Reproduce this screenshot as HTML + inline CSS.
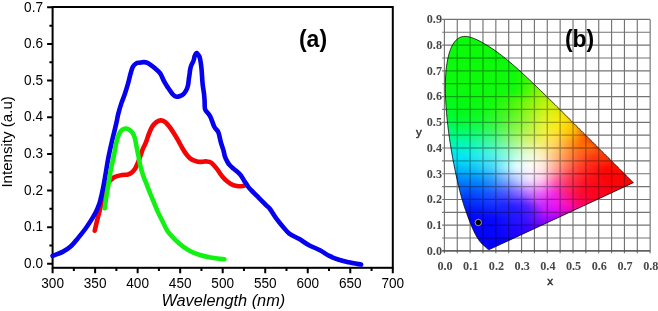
<!DOCTYPE html>
<html><head><meta charset="utf-8"><style>
html,body{margin:0;padding:0;background:#fff;overflow:hidden;}
svg{display:block;font-family:"Liberation Sans",sans-serif;will-change:transform;}
</style></head><body>
<svg width="658" height="311" viewBox="0 0 658 311">
<rect x="52.6" y="7" width="340.2" height="260.8" fill="none" stroke="#000" stroke-width="2.0"/>
<path d="M52.6,267.8v5.5M73.86,267.8v3.2M95.12,267.8v5.5M116.39,267.8v3.2M137.65,267.8v5.5M158.91,267.8v3.2M180.18,267.8v5.5M201.44,267.8v3.2M222.7,267.8v5.5M243.96,267.8v3.2M265.23,267.8v5.5M286.49,267.8v3.2M307.75,267.8v5.5M329.01,267.8v3.2M350.28,267.8v5.5M371.54,267.8v3.2M392.8,267.8v5.5M52.6,263.8h-5.5M52.6,245.48h-3.2M52.6,227.16h-5.5M52.6,208.84h-3.2M52.6,190.52h-5.5M52.6,172.2h-3.2M52.6,153.88h-5.5M52.6,135.56h-3.2M52.6,117.24h-5.5M52.6,98.92h-3.2M52.6,80.6h-5.5M52.6,62.28h-3.2M52.6,43.96h-5.5M52.6,25.64h-3.2M52.6,7.32h-5.5" stroke="#000" stroke-width="2.0" fill="none"/>
<text transform="translate(52.6,287.8) scale(1,1.13)" text-anchor="middle" font-size="13.6">300</text>
<text transform="translate(95.12,287.8) scale(1,1.13)" text-anchor="middle" font-size="13.6">350</text>
<text transform="translate(137.65,287.8) scale(1,1.13)" text-anchor="middle" font-size="13.6">400</text>
<text transform="translate(180.18,287.8) scale(1,1.13)" text-anchor="middle" font-size="13.6">450</text>
<text transform="translate(222.7,287.8) scale(1,1.13)" text-anchor="middle" font-size="13.6">500</text>
<text transform="translate(265.23,287.8) scale(1,1.13)" text-anchor="middle" font-size="13.6">550</text>
<text transform="translate(307.75,287.8) scale(1,1.13)" text-anchor="middle" font-size="13.6">600</text>
<text transform="translate(350.28,287.8) scale(1,1.13)" text-anchor="middle" font-size="13.6">650</text>
<text transform="translate(392.8,287.8) scale(1,1.13)" text-anchor="middle" font-size="13.6">700</text>
<text transform="translate(43,268) scale(1,1.13)" text-anchor="end" font-size="13.6">0.0</text>
<text transform="translate(43,231.36) scale(1,1.13)" text-anchor="end" font-size="13.6">0.1</text>
<text transform="translate(43,194.72) scale(1,1.13)" text-anchor="end" font-size="13.6">0.2</text>
<text transform="translate(43,158.08) scale(1,1.13)" text-anchor="end" font-size="13.6">0.3</text>
<text transform="translate(43,121.44) scale(1,1.13)" text-anchor="end" font-size="13.6">0.4</text>
<text transform="translate(43,84.8) scale(1,1.13)" text-anchor="end" font-size="13.6">0.5</text>
<text transform="translate(43,48.16) scale(1,1.13)" text-anchor="end" font-size="13.6">0.6</text>
<text transform="translate(43,11.52) scale(1,1.13)" text-anchor="end" font-size="13.6">0.7</text>
<text x="223.3" y="305.9" text-anchor="middle" font-size="16.3" font-style="italic">Wavelength (nm)</text>
<text transform="translate(12.0,141.9) rotate(-90)" text-anchor="middle" font-size="15.1">Intensity (a.u)</text>
<text x="313" y="46.8" text-anchor="middle" font-size="23" font-weight="bold">(a)</text>
<path d="M94.7,230.7C95.15,228.82 96.47,223.15 97.4,219.4C98.33,215.65 99.37,211.93 100.3,208.2C101.23,204.47 102,200.75 103,197C104,193.25 105.18,188.37 106.3,185.7C107.42,183.03 108.58,182.28 109.7,181C110.82,179.72 111.88,178.77 113,178C114.12,177.23 114.87,176.9 116.4,176.4C117.93,175.9 120.27,175.32 122.2,175C124.13,174.68 126.4,174.9 128,174.5C129.6,174.1 130.6,173.6 131.8,172.6C133,171.6 134.23,170.02 135.2,168.5C136.17,166.98 136.7,165.67 137.6,163.5C138.5,161.33 139.73,157.92 140.6,155.5C141.47,153.08 141.95,151.1 142.8,149C143.65,146.9 144.68,145.42 145.7,142.9C146.72,140.38 147.83,136.58 148.9,133.9C149.97,131.22 150.92,128.73 152.1,126.8C153.28,124.87 154.6,123.37 156,122.3C157.4,121.23 159,120.48 160.5,120.4C162,120.32 163.53,120.78 165,121.8C166.47,122.82 167.85,124.63 169.3,126.5C170.75,128.37 172.25,130.72 173.7,133C175.15,135.28 176.55,137.67 178,140.2C179.45,142.73 180.95,145.78 182.4,148.2C183.85,150.62 185.27,152.9 186.7,154.7C188.13,156.5 189.43,157.92 191,159C192.57,160.08 194.6,160.72 196.1,161.2C197.6,161.68 198.33,161.87 200,161.9C201.67,161.93 204.18,161.25 206.1,161.4C208.02,161.55 209.7,161.55 211.5,162.8C213.3,164.05 215.1,166.63 216.9,168.9C218.7,171.17 220.5,174.25 222.3,176.4C224.1,178.55 225.9,180.35 227.7,181.8C229.5,183.25 231.3,184.37 233.1,185.1C234.9,185.83 236.68,186.08 238.5,186.2C240.32,186.32 243.08,185.87 244,185.8" fill="none" stroke="#f40404" stroke-width="4.6" stroke-linecap="round" stroke-linejoin="round"/>
<path d="M52.6,255.8C54.27,255.15 59.55,253.48 62.6,251.9C65.65,250.32 68.3,248.63 70.9,246.3C73.5,243.97 75.75,240.87 78.2,237.9C80.65,234.93 83.33,231.63 85.6,228.5C87.87,225.37 90.07,221.9 91.8,219.1C93.53,216.3 94.72,214.35 96,211.7C97.28,209.05 98.57,205.98 99.5,203.2C100.43,200.42 100.97,197.7 101.6,195C102.23,192.3 102.7,190.08 103.3,187C103.9,183.92 104.57,180.17 105.2,176.5C105.83,172.83 106.48,168.58 107.1,165C107.72,161.42 108.07,159.05 108.9,155C109.73,150.95 111.15,144.8 112.1,140.7C113.05,136.6 113.83,133.6 114.6,130.4C115.37,127.2 116.1,124.22 116.7,121.5C117.3,118.78 117.4,117.2 118.2,114.1C119,111 120.38,106.28 121.5,102.9C122.62,99.52 123.77,97.18 124.9,93.8C126.03,90.42 127.35,85.98 128.3,82.6C129.25,79.22 129.85,76.13 130.6,73.5C131.35,70.87 131.87,68.48 132.8,66.8C133.73,65.12 135.07,64.08 136.2,63.4C137.33,62.72 138.28,62.92 139.6,62.7C140.92,62.48 142.6,61.98 144.1,62.1C145.6,62.22 146.78,62.37 148.6,63.4C150.42,64.43 153.07,66.63 155,68.3C156.93,69.97 158.7,71.25 160.2,73.4C161.7,75.55 162.72,78.83 164,81.2C165.28,83.57 166.42,85.38 167.9,87.6C169.38,89.82 171.47,92.98 172.9,94.5C174.33,96.02 175.3,96.45 176.5,96.7C177.7,96.95 178.9,96.48 180.1,96C181.3,95.52 182.62,94.88 183.7,93.8C184.78,92.72 185.87,90.95 186.6,89.5C187.33,88.05 187.73,86.8 188.1,85.1C188.47,83.4 188.55,81.15 188.8,79.3C189.05,77.45 189.38,75.55 189.6,74C189.82,72.45 189.82,71.45 190.1,70C190.38,68.55 190.73,66.83 191.3,65.3C191.87,63.77 192.95,62.3 193.5,60.8C194.05,59.3 194.23,57.45 194.6,56.3C194.97,55.15 195.35,54.45 195.7,53.9C196.05,53.35 196.25,52.82 196.7,53C197.15,53.18 197.9,54.27 198.4,55C198.9,55.73 199.3,56.07 199.7,57.4C200.1,58.73 200.48,60.93 200.8,63C201.12,65.07 201.3,66.35 201.6,69.8C201.9,73.25 202.2,79.7 202.6,83.7C203,87.7 203.67,90.92 204,93.8C204.33,96.68 204.43,98.47 204.6,101C204.77,103.53 204.47,107 205,109C205.53,111 206.88,111.67 207.8,113C208.72,114.33 209.4,114.67 210.5,117C211.6,119.33 213.1,124.47 214.4,127C215.7,129.53 217.22,129.63 218.3,132.2C219.38,134.77 220.05,139.4 220.9,142.4C221.75,145.4 222.72,147.8 223.4,150.2C224.08,152.6 224.32,154.83 225,156.8C225.68,158.77 226.7,160.6 227.5,162C228.3,163.4 228.75,164.05 229.8,165.2C230.85,166.35 232.12,167.38 233.8,168.9C235.48,170.42 238.2,172.38 239.9,174.3C241.6,176.22 242.65,178.37 244,180.4C245.35,182.43 246.85,184.92 248,186.5C249.15,188.08 249.13,188.05 250.9,189.9C252.67,191.75 256.03,195.03 258.6,197.6C261.17,200.17 264.4,203.4 266.3,205.3C268.2,207.2 268.32,206.77 270,209C271.68,211.23 274.25,215.75 276.4,218.7C278.55,221.65 280.75,224.22 282.9,226.7C285.05,229.18 286.63,231.58 289.3,233.6C291.97,235.62 295.68,236.92 298.9,238.8C302.12,240.68 305.08,242.98 308.6,244.9C312.12,246.82 316.55,248.47 320,250.3C323.45,252.13 326.15,254.32 329.3,255.9C332.45,257.48 335.68,258.75 338.9,259.8C342.12,260.85 344.9,261.4 348.6,262.2C352.3,263 359.02,264.2 361.1,264.6" fill="none" stroke="#0500ee" stroke-width="4.6" stroke-linecap="round" stroke-linejoin="round"/>
<path d="M104.8,208.2C105.05,206.33 105.67,201.12 106.3,197C106.93,192.88 107.85,188 108.6,183.5C109.35,179 109.9,174.75 110.8,170C111.7,165.25 113.15,159.23 114,155C114.85,150.77 115.25,147.62 115.9,144.6C116.55,141.58 117.15,139.05 117.9,136.9C118.65,134.75 119.45,133 120.4,131.7C121.35,130.4 122.63,129.63 123.6,129.1C124.57,128.57 125.23,128.38 126.2,128.5C127.17,128.62 128.32,129.05 129.4,129.8C130.48,130.55 131.82,131.68 132.7,133C133.58,134.32 134.03,135.32 134.7,137.7C135.37,140.08 136.05,144.1 136.7,147.3C137.35,150.5 137.97,153.7 138.6,156.9C139.23,160.1 139.7,163.28 140.5,166.5C141.3,169.72 142.28,172.98 143.4,176.2C144.52,179.42 146.1,183 147.2,185.8C148.3,188.6 149.05,190.63 150,193C150.95,195.37 151.62,196.9 152.9,200C154.18,203.1 156.1,208.07 157.7,211.6C159.3,215.13 160.88,217.98 162.5,221.2C164.12,224.42 165.3,227.83 167.4,230.9C169.5,233.97 172.53,237.03 175.1,239.6C177.67,242.17 180.23,244.37 182.8,246.3C185.37,248.23 187.63,249.75 190.5,251.2C193.37,252.65 196.12,253.85 200,255C203.88,256.15 209.73,257.38 213.8,258.1C217.87,258.82 222.63,259.1 224.4,259.3" fill="none" stroke="#12f212" stroke-width="4.6" stroke-linecap="round" stroke-linejoin="round"/>
<clipPath id="hs"><path d="M489.18,249.62L489.18,249.62L489.17,249.62L489.17,249.62L489.16,249.62L489.15,249.62L489.15,249.62L489.14,249.63L489.12,249.63L489.11,249.64L489.1,249.64L489.09,249.63L489.08,249.63L489.06,249.63L489.05,249.63L489.04,249.63L489.03,249.64L489.02,249.65L489,249.66L488.99,249.66L488.98,249.67L488.97,249.67L488.96,249.67L488.94,249.67L488.92,249.67L488.9,249.67L488.88,249.67L488.86,249.67L488.83,249.67L488.81,249.66L488.79,249.67L488.76,249.67L488.74,249.67L488.71,249.66L488.69,249.66L488.66,249.66L488.63,249.65L488.61,249.64L488.57,249.63L488.53,249.61L488.49,249.59L488.43,249.56L488.38,249.53L488.32,249.49L488.26,249.45L488.2,249.41L488.14,249.36L488.07,249.31L488,249.25L487.92,249.19L487.84,249.13L487.74,249.05L487.65,248.97L487.54,248.89L487.44,248.8L487.33,248.7L487.21,248.59L487.09,248.48L486.96,248.36L486.83,248.24L486.69,248.11L486.54,247.97L486.38,247.83L486.21,247.68L486.03,247.52L485.84,247.35L485.63,247.17L485.41,246.98L485.19,246.78L484.94,246.57L484.69,246.35L484.42,246.11L484.14,245.87L483.85,245.61L483.55,245.34L483.23,245.05L482.9,244.74L482.55,244.41L482.19,244.05L481.81,243.67L481.43,243.26L481.03,242.83L480.61,242.36L480.18,241.85L479.73,241.28L479.25,240.64L478.74,239.92L478.19,239.1L477.6,238.18L476.98,237.16L476.32,236.03L475.64,234.8L474.93,233.45L474.19,231.98L473.41,230.35L472.59,228.56L471.73,226.6L470.83,224.44L469.9,222.09L468.91,219.54L467.88,216.77L466.8,213.78L465.67,210.55L464.49,207.07L463.29,203.31L462.07,199.27L460.86,194.97L459.66,190.39L458.46,185.55L457.27,180.43L456.07,175.03L454.88,169.37L453.71,163.48L452.57,157.38L451.47,151.13L450.43,144.75L449.47,138.31L448.58,131.83L447.79,125.33L447.09,118.85L446.5,112.42L446.02,106.08L445.65,99.89L445.42,93.89L445.34,88.09L445.39,82.48L445.59,77.06L445.95,71.86L446.45,66.91L447.13,62.27L447.97,57.95L448.97,53.98L450.12,50.38L451.41,47.17L452.84,44.39L454.39,42.05L456.06,40.15L457.82,38.67L459.66,37.57L461.56,36.84L463.51,36.45L465.5,36.37L467.53,36.58L469.59,37.01L471.67,37.64L473.76,38.4L475.87,39.28L477.98,40.27L480.07,41.34L482.15,42.47L484.19,43.63L486.2,44.82L488.19,46.04L490.14,47.28L492.08,48.55L494.01,49.86L495.92,51.21L497.82,52.58L499.71,53.99L501.58,55.42L503.46,56.89L505.33,58.38L507.19,59.9L509.05,61.45L510.91,63.01L512.76,64.6L514.6,66.21L516.45,67.84L518.29,69.49L520.13,71.16L521.97,72.84L523.81,74.53L525.65,76.24L527.49,77.97L529.33,79.7L531.17,81.44L533.01,83.2L534.85,84.96L536.69,86.73L538.52,88.51L540.36,90.29L542.2,92.08L544.03,93.87L545.87,95.66L547.7,97.46L549.53,99.25L551.35,101.05L553.18,102.85L554.99,104.64L556.81,106.44L558.61,108.23L560.41,110.01L562.21,111.8L563.99,113.57L565.77,115.34L567.54,117.1L569.3,118.86L571.05,120.6L572.78,122.33L574.5,124.05L576.21,125.75L577.91,127.44L579.58,129.11L581.25,130.76L582.89,132.4L584.52,134.02L586.13,135.62L587.71,137.19L589.27,138.75L590.81,140.28L592.33,141.79L593.82,143.28L595.29,144.74L596.72,146.17L598.12,147.57L599.47,148.92L600.79,150.23L602.06,151.5L603.29,152.73L604.5,153.92L605.67,155.1L606.83,156.24L607.95,157.37L609.05,158.46L610.11,159.51L611.13,160.52L612.1,161.49L613.04,162.42L613.94,163.31L614.8,164.17L615.63,164.99L616.43,165.79L617.2,166.55L617.94,167.29L618.64,167.99L619.32,168.66L619.96,169.3L620.57,169.92L621.16,170.5L621.72,171.06L622.25,171.59L622.77,172.1L623.25,172.59L623.72,173.05L624.17,173.5L624.6,173.92L625,174.33L625.39,174.71L625.77,175.09L626.13,175.44L626.48,175.79L626.81,176.13L627.14,176.45L627.46,176.77L627.76,177.07L628.05,177.36L628.33,177.64L628.6,177.91L628.85,178.16L629.1,178.41L629.34,178.64L629.56,178.87L629.78,179.08L629.98,179.29L630.18,179.49L630.36,179.67L630.54,179.84L630.7,180L630.85,180.15L630.99,180.29L631.13,180.43L631.25,180.55L631.38,180.68L631.5,180.8L631.61,180.91L631.71,181.01L631.81,181.11L631.9,181.2L631.99,181.29L632.07,181.37L632.15,181.45L632.22,181.52L632.28,181.58L632.33,181.63L632.39,181.69L632.44,181.74L632.49,181.79L632.53,181.83L632.58,181.88L632.63,181.93L632.67,181.97L632.71,182.01L632.75,182.05L632.78,182.08L632.82,182.12L632.86,182.16L632.89,182.19L632.93,182.23L632.96,182.26L633,182.3L633.03,182.33L633.07,182.37L633.1,182.4L633.14,182.44L633.17,182.47L633.2,182.5L633.22,182.52L633.24,182.54L633.26,182.56L633.27,182.57L633.29,182.59L633.3,182.6L633.31,182.61L633.32,182.62L633.33,182.63L633.34,182.64L633.34,182.64L633.35,182.65L633.36,182.66L633.36,182.66L633.36,182.66Z"/></clipPath>
<defs><linearGradient id="r0" gradientUnits="userSpaceOnUse" x1="443.0" x2="636.0" y1="0" y2="0"><stop offset="0.0000" stop-color="#0cfa0c"/><stop offset="0.7306" stop-color="#11fa0b"/><stop offset="0.7668" stop-color="#21f909"/><stop offset="0.7824" stop-color="#3df70a"/><stop offset="0.8135" stop-color="#aff112"/><stop offset="0.8290" stop-color="#c3f014"/><stop offset="0.9741" stop-color="#ceef12"/><stop offset="1.0000" stop-color="#ede907"/></linearGradient><linearGradient id="r1" gradientUnits="userSpaceOnUse" x1="443.0" x2="636.0" y1="0" y2="0"><stop offset="0.0000" stop-color="#0cfa0c"/><stop offset="0.7150" stop-color="#10fa0b"/><stop offset="0.7617" stop-color="#25f908"/><stop offset="0.7772" stop-color="#41f709"/><stop offset="0.8083" stop-color="#b1f112"/><stop offset="0.8238" stop-color="#c4f014"/><stop offset="0.9689" stop-color="#cdef12"/><stop offset="1.0000" stop-color="#f3e804"/></linearGradient><linearGradient id="r2" gradientUnits="userSpaceOnUse" x1="443.0" x2="636.0" y1="0" y2="0"><stop offset="0.0000" stop-color="#0cfa0c"/><stop offset="0.6995" stop-color="#11fa0b"/><stop offset="0.7565" stop-color="#2af808"/><stop offset="0.7720" stop-color="#45f709"/><stop offset="0.8031" stop-color="#b2f112"/><stop offset="0.8187" stop-color="#c5f014"/><stop offset="0.9637" stop-color="#cdef12"/><stop offset="1.0000" stop-color="#f8e703"/></linearGradient><linearGradient id="r3" gradientUnits="userSpaceOnUse" x1="443.0" x2="636.0" y1="0" y2="0"><stop offset="0.0000" stop-color="#0cfa0c"/><stop offset="0.6839" stop-color="#10fa0b"/><stop offset="0.7565" stop-color="#33f807"/><stop offset="0.7720" stop-color="#57f60a"/><stop offset="0.7927" stop-color="#a5f211"/><stop offset="0.8083" stop-color="#c2f013"/><stop offset="0.9585" stop-color="#cdef12"/><stop offset="1.0000" stop-color="#fbe701"/></linearGradient><linearGradient id="r4" gradientUnits="userSpaceOnUse" x1="443.0" x2="636.0" y1="0" y2="0"><stop offset="0.0000" stop-color="#0cfa0c"/><stop offset="0.6684" stop-color="#11fa0b"/><stop offset="0.7513" stop-color="#36f806"/><stop offset="0.7668" stop-color="#58f609"/><stop offset="0.7876" stop-color="#a5f211"/><stop offset="0.8031" stop-color="#c2f013"/><stop offset="0.9534" stop-color="#cdef12"/><stop offset="0.9948" stop-color="#fbe701"/><stop offset="1.0000" stop-color="#fde601"/></linearGradient><linearGradient id="r5" gradientUnits="userSpaceOnUse" x1="443.0" x2="636.0" y1="0" y2="0"><stop offset="0.0000" stop-color="#0cfa0c"/><stop offset="0.6528" stop-color="#11fa0b"/><stop offset="0.7461" stop-color="#37f806"/><stop offset="0.7617" stop-color="#59f609"/><stop offset="0.7824" stop-color="#a6f211"/><stop offset="0.7979" stop-color="#c2f013"/><stop offset="0.9482" stop-color="#ceef12"/><stop offset="0.9896" stop-color="#fbe701"/><stop offset="1.0000" stop-color="#fee600"/></linearGradient><linearGradient id="r6" gradientUnits="userSpaceOnUse" x1="443.0" x2="636.0" y1="0" y2="0"><stop offset="0.0000" stop-color="#0cfa0c"/><stop offset="0.6373" stop-color="#11fa0b"/><stop offset="0.7409" stop-color="#38f806"/><stop offset="0.7565" stop-color="#5af609"/><stop offset="0.7772" stop-color="#a6f211"/><stop offset="0.7927" stop-color="#c2f013"/><stop offset="0.9430" stop-color="#cdef12"/><stop offset="0.9845" stop-color="#fbe701"/><stop offset="1.0000" stop-color="#ffe600"/></linearGradient><linearGradient id="r7" gradientUnits="userSpaceOnUse" x1="443.0" x2="636.0" y1="0" y2="0"><stop offset="0.0000" stop-color="#0cfa0c"/><stop offset="0.6218" stop-color="#11fa0b"/><stop offset="0.7358" stop-color="#39f806"/><stop offset="0.7513" stop-color="#5af609"/><stop offset="0.7772" stop-color="#b3f112"/><stop offset="0.7927" stop-color="#c5f014"/><stop offset="0.9378" stop-color="#ceef12"/><stop offset="0.9793" stop-color="#fbe701"/><stop offset="1.0000" stop-color="#ffe600"/></linearGradient><linearGradient id="r8" gradientUnits="userSpaceOnUse" x1="443.0" x2="636.0" y1="0" y2="0"><stop offset="0.0000" stop-color="#0cfa0c"/><stop offset="0.6062" stop-color="#10fa0b"/><stop offset="0.7150" stop-color="#32f805"/><stop offset="0.7358" stop-color="#40f706"/><stop offset="0.7513" stop-color="#6cf50b"/><stop offset="0.7720" stop-color="#b3f112"/><stop offset="0.7876" stop-color="#c5f014"/><stop offset="0.9326" stop-color="#cdef12"/><stop offset="0.9741" stop-color="#fbe701"/><stop offset="1.0000" stop-color="#ffe600"/></linearGradient><linearGradient id="r9" gradientUnits="userSpaceOnUse" x1="443.0" x2="636.0" y1="0" y2="0"><stop offset="0.0000" stop-color="#0cfa0c"/><stop offset="0.4249" stop-color="#0cfa0c"/><stop offset="0.5959" stop-color="#11fa0b"/><stop offset="0.6943" stop-color="#31f805"/><stop offset="0.7254" stop-color="#39f806"/><stop offset="0.7409" stop-color="#5af609"/><stop offset="0.7668" stop-color="#b3f112"/><stop offset="0.7824" stop-color="#c5f014"/><stop offset="0.9275" stop-color="#ceef12"/><stop offset="0.9689" stop-color="#fbe701"/><stop offset="1.0000" stop-color="#ffe600"/></linearGradient><linearGradient id="r10" gradientUnits="userSpaceOnUse" x1="443.0" x2="636.0" y1="0" y2="0"><stop offset="0.0000" stop-color="#0cfa0c"/><stop offset="0.3834" stop-color="#11f90c"/><stop offset="0.5803" stop-color="#10fa0b"/><stop offset="0.6736" stop-color="#30f805"/><stop offset="0.7202" stop-color="#39f806"/><stop offset="0.7358" stop-color="#5af609"/><stop offset="0.7617" stop-color="#b3f112"/><stop offset="0.7772" stop-color="#c5f014"/><stop offset="0.9223" stop-color="#cdef12"/><stop offset="0.9637" stop-color="#fbe701"/><stop offset="1.0000" stop-color="#ffe600"/></linearGradient><linearGradient id="r11" gradientUnits="userSpaceOnUse" x1="443.0" x2="636.0" y1="0" y2="0"><stop offset="0.0000" stop-color="#0cfa0c"/><stop offset="0.3782" stop-color="#10fa0c"/><stop offset="0.4145" stop-color="#10f90c"/><stop offset="0.5751" stop-color="#11fa0b"/><stop offset="0.6528" stop-color="#30f805"/><stop offset="0.7150" stop-color="#3af806"/><stop offset="0.7306" stop-color="#5af609"/><stop offset="0.7565" stop-color="#b3f112"/><stop offset="0.7720" stop-color="#c5f014"/><stop offset="0.9171" stop-color="#cdef12"/><stop offset="0.9585" stop-color="#fbe701"/><stop offset="1.0000" stop-color="#ffe600"/></linearGradient><linearGradient id="r12" gradientUnits="userSpaceOnUse" x1="443.0" x2="636.0" y1="0" y2="0"><stop offset="0.0000" stop-color="#0cfa0c"/><stop offset="0.3782" stop-color="#10fa0c"/><stop offset="0.4093" stop-color="#15f80c"/><stop offset="0.4767" stop-color="#0cfa0c"/><stop offset="0.5699" stop-color="#13fa0b"/><stop offset="0.6373" stop-color="#30f805"/><stop offset="0.7098" stop-color="#39f806"/><stop offset="0.7254" stop-color="#5af609"/><stop offset="0.7513" stop-color="#b3f112"/><stop offset="0.7668" stop-color="#c5f014"/><stop offset="0.9119" stop-color="#cdef12"/><stop offset="0.9534" stop-color="#fbe701"/><stop offset="1.0000" stop-color="#ffe600"/></linearGradient><linearGradient id="r13" gradientUnits="userSpaceOnUse" x1="443.0" x2="636.0" y1="0" y2="0"><stop offset="0.0000" stop-color="#0cfa0c"/><stop offset="0.3782" stop-color="#10fa0c"/><stop offset="0.4093" stop-color="#18f70c"/><stop offset="0.4560" stop-color="#0cfa0c"/><stop offset="0.5596" stop-color="#13fa0b"/><stop offset="0.6218" stop-color="#30f805"/><stop offset="0.6995" stop-color="#36f805"/><stop offset="0.7150" stop-color="#4bf708"/><stop offset="0.7461" stop-color="#b3f112"/><stop offset="0.7617" stop-color="#c5f014"/><stop offset="0.9067" stop-color="#cdef12"/><stop offset="0.9482" stop-color="#fbe701"/><stop offset="1.0000" stop-color="#ffe600"/></linearGradient><linearGradient id="r14" gradientUnits="userSpaceOnUse" x1="443.0" x2="636.0" y1="0" y2="0"><stop offset="0.0000" stop-color="#0cfa0c"/><stop offset="0.3782" stop-color="#10fa0b"/><stop offset="0.4093" stop-color="#1bf70c"/><stop offset="0.4560" stop-color="#0cfa0c"/><stop offset="0.5492" stop-color="#13fa0b"/><stop offset="0.6114" stop-color="#30f805"/><stop offset="0.6943" stop-color="#36f805"/><stop offset="0.7098" stop-color="#4bf708"/><stop offset="0.7409" stop-color="#b3f112"/><stop offset="0.7565" stop-color="#c5f014"/><stop offset="0.9016" stop-color="#ceef12"/><stop offset="0.9430" stop-color="#fbe701"/><stop offset="1.0000" stop-color="#ffe600"/></linearGradient><linearGradient id="r15" gradientUnits="userSpaceOnUse" x1="443.0" x2="636.0" y1="0" y2="0"><stop offset="0.0000" stop-color="#0cfa0c"/><stop offset="0.3782" stop-color="#10fa0b"/><stop offset="0.4093" stop-color="#1ff70c"/><stop offset="0.4560" stop-color="#0cfa0c"/><stop offset="0.5389" stop-color="#13fa0b"/><stop offset="0.6062" stop-color="#31f805"/><stop offset="0.6891" stop-color="#36f805"/><stop offset="0.7047" stop-color="#4bf708"/><stop offset="0.7358" stop-color="#b3f112"/><stop offset="0.7513" stop-color="#c5f014"/><stop offset="0.8964" stop-color="#cdef12"/><stop offset="0.9378" stop-color="#fbe701"/><stop offset="1.0000" stop-color="#ffe600"/></linearGradient><linearGradient id="r16" gradientUnits="userSpaceOnUse" x1="443.0" x2="636.0" y1="0" y2="0"><stop offset="0.0000" stop-color="#0cfa0c"/><stop offset="0.3782" stop-color="#10fa0b"/><stop offset="0.4145" stop-color="#21f60c"/><stop offset="0.4560" stop-color="#0cfa0c"/><stop offset="0.5337" stop-color="#16f90a"/><stop offset="0.5959" stop-color="#31f805"/><stop offset="0.6839" stop-color="#36f805"/><stop offset="0.6995" stop-color="#4bf708"/><stop offset="0.7306" stop-color="#b3f112"/><stop offset="0.7461" stop-color="#c5f014"/><stop offset="0.8912" stop-color="#ceef12"/><stop offset="0.9326" stop-color="#fbe701"/><stop offset="1.0000" stop-color="#ffe600"/></linearGradient><linearGradient id="r17" gradientUnits="userSpaceOnUse" x1="443.0" x2="636.0" y1="0" y2="0"><stop offset="0.0000" stop-color="#0cfa0c"/><stop offset="0.3782" stop-color="#10fa0b"/><stop offset="0.4145" stop-color="#25f60c"/><stop offset="0.4560" stop-color="#0dfa0c"/><stop offset="0.5233" stop-color="#16f90a"/><stop offset="0.5855" stop-color="#31f805"/><stop offset="0.6788" stop-color="#36f805"/><stop offset="0.6943" stop-color="#4bf708"/><stop offset="0.7254" stop-color="#b3f112"/><stop offset="0.7409" stop-color="#c5f014"/><stop offset="0.8860" stop-color="#cdef12"/><stop offset="0.9275" stop-color="#fbe701"/><stop offset="1.0000" stop-color="#ffe600"/></linearGradient><linearGradient id="r18" gradientUnits="userSpaceOnUse" x1="443.0" x2="636.0" y1="0" y2="0"><stop offset="0.0000" stop-color="#0cfa0c"/><stop offset="0.3731" stop-color="#0efa0b"/><stop offset="0.4197" stop-color="#27f50c"/><stop offset="0.4611" stop-color="#0dfa0c"/><stop offset="0.5181" stop-color="#18f90a"/><stop offset="0.5751" stop-color="#31f805"/><stop offset="0.6736" stop-color="#35f805"/><stop offset="0.6891" stop-color="#4bf708"/><stop offset="0.7202" stop-color="#b3f112"/><stop offset="0.7358" stop-color="#c5f014"/><stop offset="0.8808" stop-color="#ceef12"/><stop offset="0.9223" stop-color="#fbe701"/><stop offset="1.0000" stop-color="#ffe500"/></linearGradient><linearGradient id="r19" gradientUnits="userSpaceOnUse" x1="443.0" x2="636.0" y1="0" y2="0"><stop offset="0.0000" stop-color="#0cfa0c"/><stop offset="0.3731" stop-color="#0efa0b"/><stop offset="0.4197" stop-color="#2bf50c"/><stop offset="0.4611" stop-color="#0ef90c"/><stop offset="0.5130" stop-color="#1bf909"/><stop offset="0.5648" stop-color="#31f805"/><stop offset="0.6684" stop-color="#35f805"/><stop offset="0.6839" stop-color="#4bf707"/><stop offset="0.7150" stop-color="#b3f112"/><stop offset="0.7306" stop-color="#c5f014"/><stop offset="0.8756" stop-color="#cdef12"/><stop offset="0.9171" stop-color="#fbe701"/><stop offset="1.0000" stop-color="#ffe500"/></linearGradient><linearGradient id="r20" gradientUnits="userSpaceOnUse" x1="443.0" x2="636.0" y1="0" y2="0"><stop offset="0.0000" stop-color="#0cfa0c"/><stop offset="0.3679" stop-color="#0cfa0b"/><stop offset="0.4249" stop-color="#2ef40c"/><stop offset="0.4663" stop-color="#0ff90c"/><stop offset="0.5596" stop-color="#31f805"/><stop offset="0.6632" stop-color="#36f805"/><stop offset="0.6788" stop-color="#4bf708"/><stop offset="0.7098" stop-color="#b3f112"/><stop offset="0.7254" stop-color="#c5f014"/><stop offset="0.8705" stop-color="#cdef12"/><stop offset="0.9119" stop-color="#fbe701"/><stop offset="1.0000" stop-color="#ffe300"/></linearGradient><linearGradient id="r21" gradientUnits="userSpaceOnUse" x1="443.0" x2="636.0" y1="0" y2="0"><stop offset="0.0000" stop-color="#0cfa0c"/><stop offset="0.3679" stop-color="#0cfa0a"/><stop offset="0.4301" stop-color="#31f30c"/><stop offset="0.4663" stop-color="#11f80b"/><stop offset="0.5440" stop-color="#31f805"/><stop offset="0.6580" stop-color="#36f805"/><stop offset="0.6736" stop-color="#4bf707"/><stop offset="0.7047" stop-color="#b3f112"/><stop offset="0.7202" stop-color="#c5f014"/><stop offset="0.8653" stop-color="#cdef12"/><stop offset="0.9067" stop-color="#fbe701"/><stop offset="1.0000" stop-color="#ffe000"/></linearGradient><linearGradient id="r22" gradientUnits="userSpaceOnUse" x1="443.0" x2="636.0" y1="0" y2="0"><stop offset="0.0000" stop-color="#0cfa0c"/><stop offset="0.3627" stop-color="#0afa0a"/><stop offset="0.4093" stop-color="#26f80a"/><stop offset="0.4301" stop-color="#34f30c"/><stop offset="0.4663" stop-color="#16f70b"/><stop offset="0.5389" stop-color="#31f805"/><stop offset="0.6528" stop-color="#36f805"/><stop offset="0.6684" stop-color="#4cf707"/><stop offset="0.6995" stop-color="#b3f112"/><stop offset="0.7150" stop-color="#c5f014"/><stop offset="0.8601" stop-color="#cdef12"/><stop offset="0.9016" stop-color="#fbe701"/><stop offset="0.9948" stop-color="#ffe000"/><stop offset="1.0000" stop-color="#ffdb00"/></linearGradient><linearGradient id="r23" gradientUnits="userSpaceOnUse" x1="443.0" x2="636.0" y1="0" y2="0"><stop offset="0.0000" stop-color="#0cfa0c"/><stop offset="0.2850" stop-color="#06fa06"/><stop offset="0.3731" stop-color="#0dfa0b"/><stop offset="0.4197" stop-color="#30f70b"/><stop offset="0.4404" stop-color="#35f00b"/><stop offset="0.4663" stop-color="#1cf50a"/><stop offset="0.5337" stop-color="#32f805"/><stop offset="0.6477" stop-color="#37f805"/><stop offset="0.6632" stop-color="#4df707"/><stop offset="0.6943" stop-color="#b3f112"/><stop offset="0.7098" stop-color="#c5f014"/><stop offset="0.8549" stop-color="#ceef12"/><stop offset="0.8964" stop-color="#fbe701"/><stop offset="0.9896" stop-color="#ffe000"/><stop offset="1.0000" stop-color="#ffd300"/></linearGradient><linearGradient id="r24" gradientUnits="userSpaceOnUse" x1="443.0" x2="636.0" y1="0" y2="0"><stop offset="0.0000" stop-color="#0cfa0c"/><stop offset="0.2798" stop-color="#06fa06"/><stop offset="0.3679" stop-color="#0cfa0a"/><stop offset="0.4145" stop-color="#2af80a"/><stop offset="0.4352" stop-color="#3bf30c"/><stop offset="0.4663" stop-color="#24f209"/><stop offset="0.5440" stop-color="#32f805"/><stop offset="0.6425" stop-color="#38f805"/><stop offset="0.6580" stop-color="#4ff707"/><stop offset="0.6891" stop-color="#b3f112"/><stop offset="0.7047" stop-color="#c5f014"/><stop offset="0.8497" stop-color="#cdef12"/><stop offset="0.8912" stop-color="#fbe701"/><stop offset="0.9845" stop-color="#ffe000"/><stop offset="1.0000" stop-color="#ffca00"/></linearGradient><linearGradient id="r25" gradientUnits="userSpaceOnUse" x1="443.0" x2="636.0" y1="0" y2="0"><stop offset="0.0000" stop-color="#0cfa0c"/><stop offset="0.2798" stop-color="#06fa06"/><stop offset="0.3679" stop-color="#0cfa0a"/><stop offset="0.4145" stop-color="#29f80a"/><stop offset="0.4404" stop-color="#3ef10c"/><stop offset="0.4663" stop-color="#2df009"/><stop offset="0.5285" stop-color="#32f805"/><stop offset="0.6321" stop-color="#36f805"/><stop offset="0.6477" stop-color="#46f706"/><stop offset="0.6684" stop-color="#84f40c"/><stop offset="0.6839" stop-color="#b4f112"/><stop offset="0.7047" stop-color="#c7f014"/><stop offset="0.8446" stop-color="#ceef12"/><stop offset="0.8860" stop-color="#fbe701"/><stop offset="0.9793" stop-color="#ffe000"/><stop offset="1.0000" stop-color="#ffbf00"/></linearGradient><linearGradient id="r26" gradientUnits="userSpaceOnUse" x1="443.0" x2="636.0" y1="0" y2="0"><stop offset="0.0000" stop-color="#0cfa0c"/><stop offset="0.2850" stop-color="#06fa06"/><stop offset="0.3731" stop-color="#0dfa0b"/><stop offset="0.4197" stop-color="#2ef80a"/><stop offset="0.4456" stop-color="#42f00b"/><stop offset="0.4715" stop-color="#32ef08"/><stop offset="0.5285" stop-color="#32f805"/><stop offset="0.6269" stop-color="#37f805"/><stop offset="0.6425" stop-color="#48f805"/><stop offset="0.6632" stop-color="#87f40c"/><stop offset="0.6788" stop-color="#b4f112"/><stop offset="0.6995" stop-color="#c7f014"/><stop offset="0.8394" stop-color="#cdef12"/><stop offset="0.8808" stop-color="#fbe701"/><stop offset="0.9741" stop-color="#ffe000"/><stop offset="1.0000" stop-color="#ffb500"/></linearGradient><linearGradient id="r27" gradientUnits="userSpaceOnUse" x1="443.0" x2="636.0" y1="0" y2="0"><stop offset="0.0000" stop-color="#0cfa0c"/><stop offset="0.2953" stop-color="#06fa06"/><stop offset="0.3782" stop-color="#10fa0b"/><stop offset="0.4249" stop-color="#33f80b"/><stop offset="0.4456" stop-color="#45f10c"/><stop offset="0.4715" stop-color="#39ec08"/><stop offset="0.5181" stop-color="#32f805"/><stop offset="0.6218" stop-color="#38f805"/><stop offset="0.6373" stop-color="#4bf805"/><stop offset="0.6580" stop-color="#89f40b"/><stop offset="0.6736" stop-color="#b5f112"/><stop offset="0.6943" stop-color="#c7f014"/><stop offset="0.8342" stop-color="#ceef12"/><stop offset="0.8756" stop-color="#fbe701"/><stop offset="0.9689" stop-color="#ffe000"/><stop offset="0.9948" stop-color="#ffb500"/><stop offset="1.0000" stop-color="#ffab00"/></linearGradient><linearGradient id="r28" gradientUnits="userSpaceOnUse" x1="443.0" x2="636.0" y1="0" y2="0"><stop offset="0.0000" stop-color="#0cfa0c"/><stop offset="0.3627" stop-color="#0bfa0a"/><stop offset="0.4145" stop-color="#27f909"/><stop offset="0.4508" stop-color="#49f00b"/><stop offset="0.4767" stop-color="#3bec07"/><stop offset="0.5181" stop-color="#32f805"/><stop offset="0.6114" stop-color="#36f805"/><stop offset="0.6321" stop-color="#4ef804"/><stop offset="0.6528" stop-color="#8bf50a"/><stop offset="0.6684" stop-color="#b6f111"/><stop offset="0.6891" stop-color="#c7f014"/><stop offset="0.8290" stop-color="#cdef12"/><stop offset="0.8705" stop-color="#fbe701"/><stop offset="0.9637" stop-color="#ffe000"/><stop offset="0.9896" stop-color="#ffb500"/><stop offset="1.0000" stop-color="#ffa300"/></linearGradient><linearGradient id="r29" gradientUnits="userSpaceOnUse" x1="443.0" x2="636.0" y1="0" y2="0"><stop offset="0.0000" stop-color="#0cfa0c"/><stop offset="0.3679" stop-color="#0cfa0b"/><stop offset="0.4197" stop-color="#2bf809"/><stop offset="0.4508" stop-color="#4cf10c"/><stop offset="0.4767" stop-color="#3fe907"/><stop offset="0.5130" stop-color="#32f805"/><stop offset="0.6062" stop-color="#38f805"/><stop offset="0.6269" stop-color="#52f804"/><stop offset="0.6632" stop-color="#b6f210"/><stop offset="0.6839" stop-color="#c7f014"/><stop offset="0.8238" stop-color="#cdef12"/><stop offset="0.8653" stop-color="#fbe701"/><stop offset="0.9585" stop-color="#ffe000"/><stop offset="0.9845" stop-color="#ffb500"/><stop offset="1.0000" stop-color="#ff9d00"/></linearGradient><linearGradient id="r30" gradientUnits="userSpaceOnUse" x1="443.0" x2="636.0" y1="0" y2="0"><stop offset="0.0000" stop-color="#0cfa0c"/><stop offset="0.3731" stop-color="#0efa0b"/><stop offset="0.4249" stop-color="#30f809"/><stop offset="0.4560" stop-color="#50f00b"/><stop offset="0.4819" stop-color="#40e807"/><stop offset="0.5181" stop-color="#32f805"/><stop offset="0.6010" stop-color="#39f805"/><stop offset="0.6218" stop-color="#56f804"/><stop offset="0.6580" stop-color="#b5f20f"/><stop offset="0.6788" stop-color="#c7f014"/><stop offset="0.8187" stop-color="#cdef12"/><stop offset="0.8601" stop-color="#fbe701"/><stop offset="0.9534" stop-color="#ffe000"/><stop offset="0.9793" stop-color="#ffb500"/><stop offset="1.0000" stop-color="#ff9a00"/></linearGradient><linearGradient id="r31" gradientUnits="userSpaceOnUse" x1="443.0" x2="636.0" y1="0" y2="0"><stop offset="0.0000" stop-color="#0cfa0c"/><stop offset="0.3782" stop-color="#10fa0b"/><stop offset="0.4249" stop-color="#2ff809"/><stop offset="0.4611" stop-color="#53ee0b"/><stop offset="0.4819" stop-color="#45e508"/><stop offset="0.5130" stop-color="#33f705"/><stop offset="0.5907" stop-color="#37f805"/><stop offset="0.6114" stop-color="#51f804"/><stop offset="0.6528" stop-color="#b4f20e"/><stop offset="0.6736" stop-color="#c7f014"/><stop offset="0.8135" stop-color="#cdef12"/><stop offset="0.8549" stop-color="#fbe701"/><stop offset="0.9482" stop-color="#ffe000"/><stop offset="0.9741" stop-color="#ffb500"/><stop offset="0.9948" stop-color="#ff9a00"/><stop offset="1.0000" stop-color="#ff9800"/></linearGradient><linearGradient id="r32" gradientUnits="userSpaceOnUse" x1="443.0" x2="636.0" y1="0" y2="0"><stop offset="0.0000" stop-color="#0cfa0c"/><stop offset="0.3782" stop-color="#11fa0b"/><stop offset="0.4301" stop-color="#34f809"/><stop offset="0.4611" stop-color="#56f00c"/><stop offset="0.4819" stop-color="#4ce408"/><stop offset="0.5130" stop-color="#33f505"/><stop offset="0.5855" stop-color="#39f805"/><stop offset="0.6062" stop-color="#55f803"/><stop offset="0.6477" stop-color="#b3f30d"/><stop offset="0.6684" stop-color="#c7f014"/><stop offset="0.8083" stop-color="#ceef12"/><stop offset="0.8497" stop-color="#fbe701"/><stop offset="0.9430" stop-color="#ffe000"/><stop offset="0.9689" stop-color="#ffb500"/><stop offset="0.9896" stop-color="#ff9a00"/><stop offset="1.0000" stop-color="#ff9700"/></linearGradient><linearGradient id="r33" gradientUnits="userSpaceOnUse" x1="443.0" x2="636.0" y1="0" y2="0"><stop offset="0.0000" stop-color="#0cfa0c"/><stop offset="0.3731" stop-color="#0ffa0b"/><stop offset="0.4301" stop-color="#33f809"/><stop offset="0.4663" stop-color="#59ee0b"/><stop offset="0.4870" stop-color="#4ce208"/><stop offset="0.5130" stop-color="#35f305"/><stop offset="0.5751" stop-color="#37f805"/><stop offset="0.5959" stop-color="#4ff804"/><stop offset="0.6373" stop-color="#a7f409"/><stop offset="0.6580" stop-color="#c4f113"/><stop offset="0.8031" stop-color="#cdef12"/><stop offset="0.8446" stop-color="#fbe701"/><stop offset="0.9378" stop-color="#ffe000"/><stop offset="0.9637" stop-color="#ffb500"/><stop offset="0.9845" stop-color="#ff9a00"/><stop offset="1.0000" stop-color="#ff9600"/></linearGradient><linearGradient id="r34" gradientUnits="userSpaceOnUse" x1="443.0" x2="636.0" y1="0" y2="0"><stop offset="0.0000" stop-color="#0cfa0c"/><stop offset="0.3731" stop-color="#10fa0b"/><stop offset="0.4301" stop-color="#32f808"/><stop offset="0.4663" stop-color="#5bf00c"/><stop offset="0.4870" stop-color="#53e108"/><stop offset="0.5181" stop-color="#34f405"/><stop offset="0.5699" stop-color="#38f805"/><stop offset="0.5959" stop-color="#5df803"/><stop offset="0.6373" stop-color="#aff40b"/><stop offset="0.6580" stop-color="#c6f013"/><stop offset="0.7979" stop-color="#ceef12"/><stop offset="0.8394" stop-color="#fbe701"/><stop offset="0.9326" stop-color="#ffe000"/><stop offset="0.9585" stop-color="#ffb500"/><stop offset="0.9793" stop-color="#ff9a00"/><stop offset="1.0000" stop-color="#ff9600"/></linearGradient><linearGradient id="r35" gradientUnits="userSpaceOnUse" x1="443.0" x2="636.0" y1="0" y2="0"><stop offset="0.0000" stop-color="#0cfa0c"/><stop offset="0.3731" stop-color="#10fa0b"/><stop offset="0.4301" stop-color="#31f808"/><stop offset="0.4715" stop-color="#5fef0c"/><stop offset="0.4922" stop-color="#53df08"/><stop offset="0.5233" stop-color="#34f405"/><stop offset="0.5648" stop-color="#3af805"/><stop offset="0.5907" stop-color="#62f803"/><stop offset="0.6321" stop-color="#acf40a"/><stop offset="0.6528" stop-color="#c5f013"/><stop offset="0.7927" stop-color="#cdef12"/><stop offset="0.8342" stop-color="#fbe701"/><stop offset="0.9275" stop-color="#ffe000"/><stop offset="0.9534" stop-color="#ffb500"/><stop offset="0.9741" stop-color="#ff9a00"/><stop offset="1.0000" stop-color="#ff9600"/></linearGradient><linearGradient id="r36" gradientUnits="userSpaceOnUse" x1="443.0" x2="636.0" y1="0" y2="0"><stop offset="0.0000" stop-color="#0cfa0c"/><stop offset="0.3731" stop-color="#10fa0b"/><stop offset="0.4352" stop-color="#36f808"/><stop offset="0.4715" stop-color="#61f10c"/><stop offset="0.4922" stop-color="#5bdf09"/><stop offset="0.5130" stop-color="#3ee706"/><stop offset="0.5440" stop-color="#34f805"/><stop offset="0.5699" stop-color="#49f804"/><stop offset="0.6114" stop-color="#92f702"/><stop offset="0.6477" stop-color="#c4f112"/><stop offset="0.7876" stop-color="#ceef12"/><stop offset="0.8290" stop-color="#fbe701"/><stop offset="0.9223" stop-color="#ffe000"/><stop offset="0.9482" stop-color="#ffb500"/><stop offset="0.9689" stop-color="#ff9a00"/><stop offset="1.0000" stop-color="#ff9600"/></linearGradient><linearGradient id="r37" gradientUnits="userSpaceOnUse" x1="443.0" x2="636.0" y1="0" y2="0"><stop offset="0.0000" stop-color="#0cfa0c"/><stop offset="0.3731" stop-color="#10fa0b"/><stop offset="0.4352" stop-color="#35f808"/><stop offset="0.4767" stop-color="#65f00c"/><stop offset="0.4974" stop-color="#5bdd08"/><stop offset="0.5181" stop-color="#3ee806"/><stop offset="0.5440" stop-color="#36f705"/><stop offset="0.5648" stop-color="#4df804"/><stop offset="0.6010" stop-color="#8ef801"/><stop offset="0.6425" stop-color="#c3f112"/><stop offset="0.7824" stop-color="#cdef12"/><stop offset="0.8238" stop-color="#fbe701"/><stop offset="0.9171" stop-color="#ffe000"/><stop offset="0.9430" stop-color="#ffb500"/><stop offset="0.9637" stop-color="#ff9a00"/><stop offset="1.0000" stop-color="#ff9600"/></linearGradient><linearGradient id="r38" gradientUnits="userSpaceOnUse" x1="443.0" x2="636.0" y1="0" y2="0"><stop offset="0.0000" stop-color="#0cfa0c"/><stop offset="0.3731" stop-color="#10fa0b"/><stop offset="0.4404" stop-color="#3af808"/><stop offset="0.4819" stop-color="#69ee0c"/><stop offset="0.5026" stop-color="#5cdb08"/><stop offset="0.5233" stop-color="#3ee806"/><stop offset="0.5440" stop-color="#3cf705"/><stop offset="0.5699" stop-color="#67f802"/><stop offset="0.5959" stop-color="#8ff801"/><stop offset="0.6425" stop-color="#c5f113"/><stop offset="0.7772" stop-color="#cdef12"/><stop offset="0.8187" stop-color="#fbe701"/><stop offset="0.9119" stop-color="#ffe000"/><stop offset="0.9378" stop-color="#ffb500"/><stop offset="0.9585" stop-color="#ff9a00"/><stop offset="1.0000" stop-color="#ff9600"/></linearGradient><linearGradient id="r39" gradientUnits="userSpaceOnUse" x1="443.0" x2="636.0" y1="0" y2="0"><stop offset="0.0000" stop-color="#0cfa0c"/><stop offset="0.3731" stop-color="#10fa0b"/><stop offset="0.4404" stop-color="#3af808"/><stop offset="0.4819" stop-color="#6bf00c"/><stop offset="0.4974" stop-color="#69e109"/><stop offset="0.5130" stop-color="#53d907"/><stop offset="0.5337" stop-color="#3def05"/><stop offset="0.5492" stop-color="#4bf704"/><stop offset="0.5803" stop-color="#87f801"/><stop offset="0.6166" stop-color="#aaf508"/><stop offset="0.6425" stop-color="#c6f013"/><stop offset="0.7720" stop-color="#cdef12"/><stop offset="0.8135" stop-color="#fbe701"/><stop offset="0.9067" stop-color="#ffe000"/><stop offset="0.9326" stop-color="#ffb500"/><stop offset="0.9534" stop-color="#ff9a00"/><stop offset="1.0000" stop-color="#ff9600"/></linearGradient><linearGradient id="r40" gradientUnits="userSpaceOnUse" x1="443.0" x2="636.0" y1="0" y2="0"><stop offset="0.0000" stop-color="#0cfa0c"/><stop offset="0.3731" stop-color="#10fa0b"/><stop offset="0.4197" stop-color="#2df905"/><stop offset="0.4508" stop-color="#45f709"/><stop offset="0.4870" stop-color="#6fef0c"/><stop offset="0.5026" stop-color="#6bde09"/><stop offset="0.5181" stop-color="#54d807"/><stop offset="0.5337" stop-color="#46ea05"/><stop offset="0.5492" stop-color="#59f603"/><stop offset="0.5751" stop-color="#89f801"/><stop offset="0.6114" stop-color="#a8f507"/><stop offset="0.6373" stop-color="#c6f013"/><stop offset="0.7668" stop-color="#cdef12"/><stop offset="0.8083" stop-color="#fbe701"/><stop offset="0.9016" stop-color="#ffe000"/><stop offset="0.9275" stop-color="#ffb500"/><stop offset="0.9482" stop-color="#ff9a00"/><stop offset="1.0000" stop-color="#ff9600"/></linearGradient><linearGradient id="r41" gradientUnits="userSpaceOnUse" x1="443.0" x2="636.0" y1="0" y2="0"><stop offset="0.0000" stop-color="#0cfa0c"/><stop offset="0.3731" stop-color="#10fa0b"/><stop offset="0.4197" stop-color="#2ff904"/><stop offset="0.4508" stop-color="#44f708"/><stop offset="0.4922" stop-color="#73ed0c"/><stop offset="0.5130" stop-color="#65d708"/><stop offset="0.5285" stop-color="#51dd06"/><stop offset="0.5440" stop-color="#5df004"/><stop offset="0.5699" stop-color="#8bf801"/><stop offset="0.6062" stop-color="#a5f606"/><stop offset="0.6321" stop-color="#c5f113"/><stop offset="0.7617" stop-color="#ceef12"/><stop offset="0.8031" stop-color="#fbe701"/><stop offset="0.8964" stop-color="#ffe000"/><stop offset="0.9223" stop-color="#ffb500"/><stop offset="0.9430" stop-color="#ff9a00"/><stop offset="1.0000" stop-color="#ff9600"/></linearGradient><linearGradient id="r42" gradientUnits="userSpaceOnUse" x1="443.0" x2="636.0" y1="0" y2="0"><stop offset="0.0000" stop-color="#0cfa0c"/><stop offset="0.3731" stop-color="#10fa0b"/><stop offset="0.4197" stop-color="#31f904"/><stop offset="0.4508" stop-color="#43f708"/><stop offset="0.4922" stop-color="#75ef0c"/><stop offset="0.5130" stop-color="#6dd908"/><stop offset="0.5285" stop-color="#5cd706"/><stop offset="0.5440" stop-color="#6aec03"/><stop offset="0.5648" stop-color="#8df701"/><stop offset="0.6010" stop-color="#a3f605"/><stop offset="0.6269" stop-color="#c4f112"/><stop offset="0.7565" stop-color="#cdef12"/><stop offset="0.7979" stop-color="#fbe701"/><stop offset="0.8912" stop-color="#ffe000"/><stop offset="0.9171" stop-color="#ffb500"/><stop offset="0.9378" stop-color="#ff9a00"/><stop offset="1.0000" stop-color="#ff9600"/></linearGradient><linearGradient id="r43" gradientUnits="userSpaceOnUse" x1="443.0" x2="636.0" y1="0" y2="0"><stop offset="0.0000" stop-color="#0cfa0c"/><stop offset="0.3731" stop-color="#10fa0b"/><stop offset="0.4197" stop-color="#33f903"/><stop offset="0.4508" stop-color="#43f707"/><stop offset="0.4974" stop-color="#79ee0c"/><stop offset="0.5181" stop-color="#6fd608"/><stop offset="0.5337" stop-color="#66d706"/><stop offset="0.5596" stop-color="#8df501"/><stop offset="0.5959" stop-color="#a1f604"/><stop offset="0.6269" stop-color="#c6f013"/><stop offset="0.7513" stop-color="#ceef12"/><stop offset="0.7927" stop-color="#fbe701"/><stop offset="0.8860" stop-color="#ffe000"/><stop offset="0.9119" stop-color="#ffb500"/><stop offset="0.9326" stop-color="#ff9a00"/><stop offset="1.0000" stop-color="#ff9600"/></linearGradient><linearGradient id="r44" gradientUnits="userSpaceOnUse" x1="443.0" x2="636.0" y1="0" y2="0"><stop offset="0.0000" stop-color="#0cfa0c"/><stop offset="0.3731" stop-color="#10fa0b"/><stop offset="0.4197" stop-color="#34f903"/><stop offset="0.4508" stop-color="#43f707"/><stop offset="0.5026" stop-color="#7dec0c"/><stop offset="0.5285" stop-color="#6fd107"/><stop offset="0.5440" stop-color="#79df04"/><stop offset="0.5648" stop-color="#92f500"/><stop offset="0.5959" stop-color="#a5f606"/><stop offset="0.6218" stop-color="#c5f113"/><stop offset="0.7461" stop-color="#cdef12"/><stop offset="0.7876" stop-color="#fbe701"/><stop offset="0.8808" stop-color="#ffe000"/><stop offset="0.9067" stop-color="#ffb500"/><stop offset="0.9275" stop-color="#ff9a00"/><stop offset="1.0000" stop-color="#ff9500"/></linearGradient><linearGradient id="r45" gradientUnits="userSpaceOnUse" x1="443.0" x2="636.0" y1="0" y2="0"><stop offset="0.0000" stop-color="#0cfa0c"/><stop offset="0.3731" stop-color="#10fa0b"/><stop offset="0.4249" stop-color="#37f804"/><stop offset="0.4560" stop-color="#49f707"/><stop offset="0.5026" stop-color="#7eee0c"/><stop offset="0.5337" stop-color="#75cf06"/><stop offset="0.5699" stop-color="#94f501"/><stop offset="0.5959" stop-color="#a9f508"/><stop offset="0.6218" stop-color="#c6f013"/><stop offset="0.7409" stop-color="#ceef12"/><stop offset="0.7824" stop-color="#fbe701"/><stop offset="0.8756" stop-color="#ffe000"/><stop offset="0.9016" stop-color="#ffb500"/><stop offset="0.9223" stop-color="#ff9a00"/><stop offset="1.0000" stop-color="#ff9400"/></linearGradient><linearGradient id="r46" gradientUnits="userSpaceOnUse" x1="443.0" x2="636.0" y1="0" y2="0"><stop offset="0.0000" stop-color="#0cfa0c"/><stop offset="0.3731" stop-color="#10fa0b"/><stop offset="0.4249" stop-color="#39f804"/><stop offset="0.4611" stop-color="#4ff708"/><stop offset="0.5078" stop-color="#83ed0c"/><stop offset="0.5337" stop-color="#7ace07"/><stop offset="0.5492" stop-color="#80d704"/><stop offset="0.5699" stop-color="#94f301"/><stop offset="0.5959" stop-color="#aef40a"/><stop offset="0.6166" stop-color="#c5f013"/><stop offset="0.7358" stop-color="#cdef12"/><stop offset="0.7772" stop-color="#fbe701"/><stop offset="0.8705" stop-color="#ffe000"/><stop offset="0.8964" stop-color="#ffb500"/><stop offset="0.9171" stop-color="#ff9a00"/><stop offset="1.0000" stop-color="#ff9200"/></linearGradient><linearGradient id="r47" gradientUnits="userSpaceOnUse" x1="443.0" x2="636.0" y1="0" y2="0"><stop offset="0.0000" stop-color="#0cfa0c"/><stop offset="0.3731" stop-color="#10fa0b"/><stop offset="0.4249" stop-color="#3bf805"/><stop offset="0.4663" stop-color="#55f608"/><stop offset="0.5130" stop-color="#86eb0b"/><stop offset="0.5389" stop-color="#7ccc06"/><stop offset="0.5544" stop-color="#82d804"/><stop offset="0.5751" stop-color="#97f302"/><stop offset="0.6114" stop-color="#c4f112"/><stop offset="0.7306" stop-color="#cdef12"/><stop offset="0.7720" stop-color="#fbe701"/><stop offset="0.8653" stop-color="#ffe000"/><stop offset="0.8912" stop-color="#ffb500"/><stop offset="0.9119" stop-color="#ff9a00"/><stop offset="0.9948" stop-color="#ff9200"/><stop offset="1.0000" stop-color="#ff8e00"/></linearGradient><linearGradient id="r48" gradientUnits="userSpaceOnUse" x1="443.0" x2="636.0" y1="0" y2="0"><stop offset="0.0000" stop-color="#0cfa0c"/><stop offset="0.3731" stop-color="#10fa0b"/><stop offset="0.4301" stop-color="#3ef706"/><stop offset="0.4767" stop-color="#61f60a"/><stop offset="0.5130" stop-color="#88ee0c"/><stop offset="0.5440" stop-color="#7ec906"/><stop offset="0.5596" stop-color="#84d804"/><stop offset="0.5803" stop-color="#9ff205"/><stop offset="0.6062" stop-color="#c3f112"/><stop offset="0.7254" stop-color="#cdef12"/><stop offset="0.7668" stop-color="#fbe701"/><stop offset="0.8601" stop-color="#ffe000"/><stop offset="0.8860" stop-color="#ffb500"/><stop offset="0.9067" stop-color="#ff9a00"/><stop offset="0.9896" stop-color="#ff9200"/><stop offset="1.0000" stop-color="#ff8700"/></linearGradient><linearGradient id="r49" gradientUnits="userSpaceOnUse" x1="443.0" x2="636.0" y1="0" y2="0"><stop offset="0.0000" stop-color="#0cfa0c"/><stop offset="0.3731" stop-color="#10fa0b"/><stop offset="0.4352" stop-color="#42f706"/><stop offset="0.4922" stop-color="#73f50d"/><stop offset="0.5233" stop-color="#8de70a"/><stop offset="0.5492" stop-color="#7fc706"/><stop offset="0.5699" stop-color="#8fe204"/><stop offset="0.5907" stop-color="#b4f20d"/><stop offset="0.6114" stop-color="#c7f013"/><stop offset="0.7202" stop-color="#cdef12"/><stop offset="0.7617" stop-color="#fbe701"/><stop offset="0.8549" stop-color="#ffe000"/><stop offset="0.8808" stop-color="#ffb500"/><stop offset="0.9016" stop-color="#ff9a00"/><stop offset="0.9845" stop-color="#ff9200"/><stop offset="1.0000" stop-color="#ff7e00"/></linearGradient><linearGradient id="r50" gradientUnits="userSpaceOnUse" x1="443.0" x2="636.0" y1="0" y2="0"><stop offset="0.0000" stop-color="#0cfa0c"/><stop offset="0.3731" stop-color="#10fa0b"/><stop offset="0.4404" stop-color="#47f707"/><stop offset="0.5026" stop-color="#7ff40e"/><stop offset="0.5285" stop-color="#90e40a"/><stop offset="0.5492" stop-color="#83c606"/><stop offset="0.5648" stop-color="#86d005"/><stop offset="0.5855" stop-color="#aeed0b"/><stop offset="0.6062" stop-color="#c6f013"/><stop offset="0.7150" stop-color="#ceef12"/><stop offset="0.7565" stop-color="#fbe701"/><stop offset="0.8497" stop-color="#ffe000"/><stop offset="0.8756" stop-color="#ffb500"/><stop offset="0.8964" stop-color="#ff9a00"/><stop offset="0.9793" stop-color="#ff9200"/><stop offset="1.0000" stop-color="#ff7300"/></linearGradient><linearGradient id="r51" gradientUnits="userSpaceOnUse" x1="443.0" x2="636.0" y1="0" y2="0"><stop offset="0.0000" stop-color="#0cfa0c"/><stop offset="0.3731" stop-color="#10fa0b"/><stop offset="0.4870" stop-color="#6df50a"/><stop offset="0.5285" stop-color="#94e80b"/><stop offset="0.5544" stop-color="#84c406"/><stop offset="0.5699" stop-color="#8cd007"/><stop offset="0.5907" stop-color="#b9ec10"/><stop offset="0.6114" stop-color="#c8f014"/><stop offset="0.7098" stop-color="#cdef12"/><stop offset="0.7513" stop-color="#fbe701"/><stop offset="0.8446" stop-color="#ffe000"/><stop offset="0.8705" stop-color="#ffb500"/><stop offset="0.8912" stop-color="#ff9a00"/><stop offset="0.9741" stop-color="#ff9200"/><stop offset="0.9948" stop-color="#ff7300"/><stop offset="1.0000" stop-color="#ff6700"/></linearGradient><linearGradient id="r52" gradientUnits="userSpaceOnUse" x1="443.0" x2="636.0" y1="0" y2="0"><stop offset="0.0000" stop-color="#0cfa0c"/><stop offset="0.3731" stop-color="#10fa0b"/><stop offset="0.4870" stop-color="#6ff609"/><stop offset="0.5285" stop-color="#96eb0c"/><stop offset="0.5596" stop-color="#86c106"/><stop offset="0.5751" stop-color="#95d009"/><stop offset="0.5959" stop-color="#c0ec12"/><stop offset="0.6425" stop-color="#c8f014"/><stop offset="0.7047" stop-color="#ceef12"/><stop offset="0.7461" stop-color="#fbe701"/><stop offset="0.8394" stop-color="#ffe000"/><stop offset="0.8653" stop-color="#ffb500"/><stop offset="0.8860" stop-color="#ff9a00"/><stop offset="0.9689" stop-color="#ff9200"/><stop offset="0.9896" stop-color="#ff7300"/><stop offset="1.0000" stop-color="#ff5b00"/></linearGradient><linearGradient id="r53" gradientUnits="userSpaceOnUse" x1="443.0" x2="636.0" y1="0" y2="0"><stop offset="0.0000" stop-color="#0cfa0c"/><stop offset="0.0570" stop-color="#0cfa0d"/><stop offset="0.3731" stop-color="#11fa0b"/><stop offset="0.4922" stop-color="#75f509"/><stop offset="0.5337" stop-color="#9aea0b"/><stop offset="0.5648" stop-color="#89bf07"/><stop offset="0.5803" stop-color="#9ed00c"/><stop offset="0.6010" stop-color="#c3ec13"/><stop offset="0.6995" stop-color="#cdef12"/><stop offset="0.7409" stop-color="#fbe701"/><stop offset="0.8342" stop-color="#ffe000"/><stop offset="0.8601" stop-color="#ffb500"/><stop offset="0.8808" stop-color="#ff9a00"/><stop offset="0.9637" stop-color="#ff9200"/><stop offset="0.9845" stop-color="#ff7300"/><stop offset="1.0000" stop-color="#ff5100"/></linearGradient><linearGradient id="r54" gradientUnits="userSpaceOnUse" x1="443.0" x2="636.0" y1="0" y2="0"><stop offset="0.0000" stop-color="#0cfa0c"/><stop offset="0.0518" stop-color="#0cfa0f"/><stop offset="0.3731" stop-color="#11fa0b"/><stop offset="0.4922" stop-color="#78f608"/><stop offset="0.5337" stop-color="#9cec0c"/><stop offset="0.5544" stop-color="#95ce07"/><stop offset="0.5699" stop-color="#8dbd08"/><stop offset="0.5907" stop-color="#b0db10"/><stop offset="0.6114" stop-color="#c6ef14"/><stop offset="0.6943" stop-color="#ceef12"/><stop offset="0.7358" stop-color="#fbe701"/><stop offset="0.8290" stop-color="#ffe000"/><stop offset="0.8549" stop-color="#ffb500"/><stop offset="0.8756" stop-color="#ff9a00"/><stop offset="0.9585" stop-color="#ff9200"/><stop offset="0.9793" stop-color="#ff7300"/><stop offset="1.0000" stop-color="#ff4900"/></linearGradient><linearGradient id="r55" gradientUnits="userSpaceOnUse" x1="443.0" x2="636.0" y1="0" y2="0"><stop offset="0.0000" stop-color="#0cfa0c"/><stop offset="0.0466" stop-color="#0bfa11"/><stop offset="0.3731" stop-color="#13fa0c"/><stop offset="0.4922" stop-color="#7bf607"/><stop offset="0.5389" stop-color="#a0eb0c"/><stop offset="0.5699" stop-color="#90bc07"/><stop offset="0.5855" stop-color="#9fc80d"/><stop offset="0.6062" stop-color="#c1ea13"/><stop offset="0.6891" stop-color="#cdef12"/><stop offset="0.7306" stop-color="#fbe701"/><stop offset="0.8238" stop-color="#ffe000"/><stop offset="0.8497" stop-color="#ffb500"/><stop offset="0.8705" stop-color="#ff9a00"/><stop offset="0.9534" stop-color="#ff9200"/><stop offset="0.9741" stop-color="#ff7300"/><stop offset="0.9948" stop-color="#ff4900"/><stop offset="1.0000" stop-color="#ff4300"/></linearGradient><linearGradient id="r56" gradientUnits="userSpaceOnUse" x1="443.0" x2="636.0" y1="0" y2="0"><stop offset="0.0000" stop-color="#0cfa0c"/><stop offset="0.0466" stop-color="#0bfa12"/><stop offset="0.3731" stop-color="#15fa0c"/><stop offset="0.4922" stop-color="#7ff606"/><stop offset="0.5389" stop-color="#a2ed0d"/><stop offset="0.5596" stop-color="#9dd007"/><stop offset="0.5751" stop-color="#92b908"/><stop offset="0.5907" stop-color="#a2c80d"/><stop offset="0.6114" stop-color="#c2ea13"/><stop offset="0.6839" stop-color="#cdef12"/><stop offset="0.7254" stop-color="#fbe701"/><stop offset="0.8187" stop-color="#ffe000"/><stop offset="0.8446" stop-color="#ffb500"/><stop offset="0.8653" stop-color="#ff9a00"/><stop offset="0.9482" stop-color="#ff9200"/><stop offset="0.9689" stop-color="#ff7300"/><stop offset="0.9896" stop-color="#ff4900"/><stop offset="1.0000" stop-color="#ff3f00"/></linearGradient><linearGradient id="r57" gradientUnits="userSpaceOnUse" x1="443.0" x2="636.0" y1="0" y2="0"><stop offset="0.0000" stop-color="#0cfa0c"/><stop offset="0.0466" stop-color="#0afa12"/><stop offset="0.2694" stop-color="#0ffa0c"/><stop offset="0.3782" stop-color="#1bfa0b"/><stop offset="0.4922" stop-color="#83f705"/><stop offset="0.5440" stop-color="#a6ec0c"/><stop offset="0.5648" stop-color="#9fcc06"/><stop offset="0.5803" stop-color="#94b708"/><stop offset="0.5959" stop-color="#a5ca0e"/><stop offset="0.6166" stop-color="#c3eb13"/><stop offset="0.6839" stop-color="#d1ee11"/><stop offset="0.7202" stop-color="#fbe701"/><stop offset="0.8135" stop-color="#ffe000"/><stop offset="0.8394" stop-color="#ffb500"/><stop offset="0.8601" stop-color="#ff9a00"/><stop offset="0.9430" stop-color="#ff9200"/><stop offset="0.9637" stop-color="#ff7300"/><stop offset="0.9845" stop-color="#ff4900"/><stop offset="1.0000" stop-color="#ff3e00"/></linearGradient><linearGradient id="r58" gradientUnits="userSpaceOnUse" x1="443.0" x2="636.0" y1="0" y2="0"><stop offset="0.0000" stop-color="#0cfa0c"/><stop offset="0.0466" stop-color="#0afa13"/><stop offset="0.1917" stop-color="#0bfa0d"/><stop offset="0.3731" stop-color="#1cfa0c"/><stop offset="0.4974" stop-color="#89f705"/><stop offset="0.5440" stop-color="#a7ee0d"/><stop offset="0.5648" stop-color="#a5d207"/><stop offset="0.5803" stop-color="#97b707"/><stop offset="0.5959" stop-color="#9fc00c"/><stop offset="0.6166" stop-color="#c0e713"/><stop offset="0.6528" stop-color="#c8f014"/><stop offset="0.6839" stop-color="#d7ed0f"/><stop offset="0.7150" stop-color="#fbe701"/><stop offset="0.8083" stop-color="#ffe000"/><stop offset="0.8342" stop-color="#ffb500"/><stop offset="0.8549" stop-color="#ff9a00"/><stop offset="0.9378" stop-color="#ff9200"/><stop offset="0.9585" stop-color="#ff7300"/><stop offset="0.9793" stop-color="#ff4900"/><stop offset="1.0000" stop-color="#ff3d00"/></linearGradient><linearGradient id="r59" gradientUnits="userSpaceOnUse" x1="443.0" x2="636.0" y1="0" y2="0"><stop offset="0.0000" stop-color="#0cfa0c"/><stop offset="0.0466" stop-color="#09fa13"/><stop offset="0.1554" stop-color="#0afa0d"/><stop offset="0.3161" stop-color="#17f90b"/><stop offset="0.3834" stop-color="#27f90b"/><stop offset="0.4974" stop-color="#8ef704"/><stop offset="0.5492" stop-color="#acec0c"/><stop offset="0.5699" stop-color="#a6ce06"/><stop offset="0.5855" stop-color="#98b407"/><stop offset="0.5959" stop-color="#9bb80a"/><stop offset="0.6218" stop-color="#c1e713"/><stop offset="0.6632" stop-color="#cbef13"/><stop offset="0.7150" stop-color="#fde601"/><stop offset="0.8031" stop-color="#ffe000"/><stop offset="0.8290" stop-color="#ffb500"/><stop offset="0.8497" stop-color="#ff9a00"/><stop offset="0.9326" stop-color="#ff9200"/><stop offset="0.9534" stop-color="#ff7300"/><stop offset="0.9741" stop-color="#ff4900"/><stop offset="1.0000" stop-color="#ff3c00"/></linearGradient><linearGradient id="r60" gradientUnits="userSpaceOnUse" x1="443.0" x2="636.0" y1="0" y2="0"><stop offset="0.0000" stop-color="#0cfa0c"/><stop offset="0.0466" stop-color="#09fa14"/><stop offset="0.1347" stop-color="#09fa0d"/><stop offset="0.3057" stop-color="#16f90b"/><stop offset="0.3886" stop-color="#2ff90b"/><stop offset="0.4974" stop-color="#92f704"/><stop offset="0.5492" stop-color="#adee0d"/><stop offset="0.5699" stop-color="#add507"/><stop offset="0.5907" stop-color="#9ab207"/><stop offset="0.6062" stop-color="#a3c10d"/><stop offset="0.6269" stop-color="#c2e813"/><stop offset="0.6684" stop-color="#d2ee11"/><stop offset="0.7047" stop-color="#fbe701"/><stop offset="0.7979" stop-color="#ffe000"/><stop offset="0.8238" stop-color="#ffb500"/><stop offset="0.8446" stop-color="#ff9a00"/><stop offset="0.9275" stop-color="#ff9200"/><stop offset="0.9482" stop-color="#ff7300"/><stop offset="0.9689" stop-color="#ff4900"/><stop offset="1.0000" stop-color="#ff3c00"/></linearGradient><linearGradient id="r61" gradientUnits="userSpaceOnUse" x1="443.0" x2="636.0" y1="0" y2="0"><stop offset="0.0000" stop-color="#0cfa0c"/><stop offset="0.0466" stop-color="#08fa15"/><stop offset="0.1192" stop-color="#08fa0d"/><stop offset="0.2591" stop-color="#12fa0c"/><stop offset="0.3264" stop-color="#21f90b"/><stop offset="0.3886" stop-color="#34f90b"/><stop offset="0.5026" stop-color="#98f705"/><stop offset="0.5544" stop-color="#b2ed0d"/><stop offset="0.5751" stop-color="#aed106"/><stop offset="0.5959" stop-color="#9baf08"/><stop offset="0.6114" stop-color="#a5c20d"/><stop offset="0.6321" stop-color="#c3e913"/><stop offset="0.6684" stop-color="#d7ed0f"/><stop offset="0.6995" stop-color="#fbe701"/><stop offset="0.7927" stop-color="#ffe000"/><stop offset="0.8187" stop-color="#ffb500"/><stop offset="0.8394" stop-color="#ff9a00"/><stop offset="0.9223" stop-color="#ff9200"/><stop offset="0.9430" stop-color="#ff7300"/><stop offset="0.9637" stop-color="#ff4900"/><stop offset="0.9948" stop-color="#ff3c00"/><stop offset="1.0000" stop-color="#ff3c00"/></linearGradient><linearGradient id="r62" gradientUnits="userSpaceOnUse" x1="443.0" x2="636.0" y1="0" y2="0"><stop offset="0.0000" stop-color="#0bfa0c"/><stop offset="0.0466" stop-color="#08fa16"/><stop offset="0.1036" stop-color="#06fa0d"/><stop offset="0.2539" stop-color="#11fa0c"/><stop offset="0.3264" stop-color="#23f90b"/><stop offset="0.3938" stop-color="#3df90b"/><stop offset="0.5026" stop-color="#9cf705"/><stop offset="0.5596" stop-color="#b6ec0c"/><stop offset="0.5803" stop-color="#b0cd06"/><stop offset="0.5959" stop-color="#9fb006"/><stop offset="0.6062" stop-color="#9cb009"/><stop offset="0.6373" stop-color="#c4ea13"/><stop offset="0.6684" stop-color="#deec0c"/><stop offset="0.6943" stop-color="#fbe701"/><stop offset="0.7876" stop-color="#ffe000"/><stop offset="0.8135" stop-color="#ffb500"/><stop offset="0.8342" stop-color="#ff9a00"/><stop offset="0.9171" stop-color="#ff9200"/><stop offset="0.9378" stop-color="#ff7300"/><stop offset="0.9585" stop-color="#ff4900"/><stop offset="0.9896" stop-color="#ff3c00"/><stop offset="1.0000" stop-color="#ff3c00"/></linearGradient><linearGradient id="r63" gradientUnits="userSpaceOnUse" x1="443.0" x2="636.0" y1="0" y2="0"><stop offset="0.0000" stop-color="#0afa0d"/><stop offset="0.0466" stop-color="#07fa17"/><stop offset="0.0984" stop-color="#05fa0e"/><stop offset="0.2539" stop-color="#12fa0d"/><stop offset="0.3264" stop-color="#26f90b"/><stop offset="0.3990" stop-color="#46f90b"/><stop offset="0.5026" stop-color="#9ff706"/><stop offset="0.5648" stop-color="#baea0c"/><stop offset="0.5855" stop-color="#b1c905"/><stop offset="0.6010" stop-color="#9fac07"/><stop offset="0.6114" stop-color="#9eaf0a"/><stop offset="0.6373" stop-color="#c1e512"/><stop offset="0.6632" stop-color="#deec0c"/><stop offset="0.6891" stop-color="#fbe701"/><stop offset="0.7824" stop-color="#ffe000"/><stop offset="0.8083" stop-color="#ffb500"/><stop offset="0.8290" stop-color="#ff9a00"/><stop offset="0.9119" stop-color="#ff9200"/><stop offset="0.9326" stop-color="#ff7300"/><stop offset="0.9534" stop-color="#ff4900"/><stop offset="0.9845" stop-color="#ff3c00"/><stop offset="1.0000" stop-color="#ff3c00"/></linearGradient><linearGradient id="r64" gradientUnits="userSpaceOnUse" x1="443.0" x2="636.0" y1="0" y2="0"><stop offset="0.0000" stop-color="#08fa0d"/><stop offset="0.0466" stop-color="#06fa18"/><stop offset="0.0933" stop-color="#04fa0e"/><stop offset="0.2539" stop-color="#12fa0d"/><stop offset="0.3264" stop-color="#28f90b"/><stop offset="0.3990" stop-color="#4bf90b"/><stop offset="0.5078" stop-color="#a5f608"/><stop offset="0.5648" stop-color="#bcec0d"/><stop offset="0.5855" stop-color="#b8d006"/><stop offset="0.6062" stop-color="#a0a907"/><stop offset="0.6166" stop-color="#a0af0a"/><stop offset="0.6425" stop-color="#c6e611"/><stop offset="0.6736" stop-color="#f3e804"/><stop offset="0.7098" stop-color="#ffe600"/><stop offset="0.7772" stop-color="#ffe000"/><stop offset="0.8031" stop-color="#ffb500"/><stop offset="0.8238" stop-color="#ff9a00"/><stop offset="0.9067" stop-color="#ff9200"/><stop offset="0.9275" stop-color="#ff7300"/><stop offset="0.9482" stop-color="#ff4900"/><stop offset="0.9793" stop-color="#ff3c00"/><stop offset="1.0000" stop-color="#ff3c00"/></linearGradient><linearGradient id="r65" gradientUnits="userSpaceOnUse" x1="443.0" x2="636.0" y1="0" y2="0"><stop offset="0.0000" stop-color="#06fa0e"/><stop offset="0.0466" stop-color="#06fa19"/><stop offset="0.0881" stop-color="#03fa0e"/><stop offset="0.2539" stop-color="#12fa0d"/><stop offset="0.3264" stop-color="#2af90b"/><stop offset="0.4093" stop-color="#58f80b"/><stop offset="0.5078" stop-color="#a8f60a"/><stop offset="0.5699" stop-color="#c0eb0c"/><stop offset="0.5907" stop-color="#b9cc05"/><stop offset="0.6062" stop-color="#a6ab06"/><stop offset="0.6166" stop-color="#a0a808"/><stop offset="0.6321" stop-color="#b1c80e"/><stop offset="0.6477" stop-color="#d0e50e"/><stop offset="0.6736" stop-color="#f8e703"/><stop offset="0.7461" stop-color="#ffe600"/><stop offset="0.7772" stop-color="#ffdb00"/><stop offset="0.8135" stop-color="#ff9d00"/><stop offset="0.9067" stop-color="#ff8e00"/><stop offset="0.9482" stop-color="#ff4300"/><stop offset="1.0000" stop-color="#ff3c00"/></linearGradient><linearGradient id="r66" gradientUnits="userSpaceOnUse" x1="443.0" x2="636.0" y1="0" y2="0"><stop offset="0.0000" stop-color="#04fa0e"/><stop offset="0.0466" stop-color="#05fa1a"/><stop offset="0.0881" stop-color="#02fa0f"/><stop offset="0.2539" stop-color="#13fa0e"/><stop offset="0.3264" stop-color="#2cf80b"/><stop offset="0.4197" stop-color="#66f80b"/><stop offset="0.5130" stop-color="#adf50b"/><stop offset="0.5751" stop-color="#c4e90c"/><stop offset="0.5959" stop-color="#bac705"/><stop offset="0.6114" stop-color="#a6a806"/><stop offset="0.6218" stop-color="#a2a809"/><stop offset="0.6373" stop-color="#b8c90d"/><stop offset="0.6528" stop-color="#dfe309"/><stop offset="0.6736" stop-color="#fbe701"/><stop offset="0.7668" stop-color="#ffe000"/><stop offset="0.7927" stop-color="#ffb500"/><stop offset="0.8135" stop-color="#ff9a00"/><stop offset="0.8964" stop-color="#ff9200"/><stop offset="0.9171" stop-color="#ff7300"/><stop offset="0.9378" stop-color="#ff4900"/><stop offset="0.9689" stop-color="#ff3c00"/><stop offset="1.0000" stop-color="#ff3c00"/></linearGradient><linearGradient id="r67" gradientUnits="userSpaceOnUse" x1="443.0" x2="636.0" y1="0" y2="0"><stop offset="0.0000" stop-color="#02fa0e"/><stop offset="0.0466" stop-color="#05fa1c"/><stop offset="0.0829" stop-color="#02fa0f"/><stop offset="0.2487" stop-color="#12fa0e"/><stop offset="0.3264" stop-color="#2df80b"/><stop offset="0.4301" stop-color="#72f80b"/><stop offset="0.5181" stop-color="#b2f50d"/><stop offset="0.5751" stop-color="#c7ec0d"/><stop offset="0.5959" stop-color="#c1cf05"/><stop offset="0.6166" stop-color="#a7a506"/><stop offset="0.6269" stop-color="#a5a708"/><stop offset="0.6425" stop-color="#c3ca0a"/><stop offset="0.6580" stop-color="#ece205"/><stop offset="0.6788" stop-color="#fee600"/><stop offset="0.7617" stop-color="#ffe000"/><stop offset="0.7876" stop-color="#ffb500"/><stop offset="0.8083" stop-color="#ff9a00"/><stop offset="0.8912" stop-color="#ff9200"/><stop offset="0.9119" stop-color="#ff7300"/><stop offset="0.9326" stop-color="#ff4900"/><stop offset="0.9637" stop-color="#ff3c00"/><stop offset="1.0000" stop-color="#ff3c00"/></linearGradient><linearGradient id="r68" gradientUnits="userSpaceOnUse" x1="443.0" x2="636.0" y1="0" y2="0"><stop offset="0.0000" stop-color="#01fa0f"/><stop offset="0.0466" stop-color="#05fa1d"/><stop offset="0.0829" stop-color="#01fa10"/><stop offset="0.2487" stop-color="#12fa0f"/><stop offset="0.3316" stop-color="#33f80c"/><stop offset="0.4611" stop-color="#8ff70c"/><stop offset="0.5285" stop-color="#b9f40f"/><stop offset="0.5803" stop-color="#caea0c"/><stop offset="0.6010" stop-color="#c2cb05"/><stop offset="0.6218" stop-color="#a9a206"/><stop offset="0.6321" stop-color="#aaa708"/><stop offset="0.6477" stop-color="#cfca06"/><stop offset="0.6632" stop-color="#f5e102"/><stop offset="0.6943" stop-color="#ffe600"/><stop offset="0.7565" stop-color="#ffe000"/><stop offset="0.7824" stop-color="#ffb500"/><stop offset="0.8031" stop-color="#ff9a00"/><stop offset="0.8860" stop-color="#ff9200"/><stop offset="0.9067" stop-color="#ff7300"/><stop offset="0.9275" stop-color="#ff4900"/><stop offset="0.9585" stop-color="#ff3c00"/><stop offset="1.0000" stop-color="#ff3c00"/></linearGradient><linearGradient id="r69" gradientUnits="userSpaceOnUse" x1="443.0" x2="636.0" y1="0" y2="0"><stop offset="0.0000" stop-color="#00fa0f"/><stop offset="0.0311" stop-color="#02fa1a"/><stop offset="0.0466" stop-color="#04fa1f"/><stop offset="0.0829" stop-color="#01fa11"/><stop offset="0.2487" stop-color="#13fa10"/><stop offset="0.3316" stop-color="#34f80d"/><stop offset="0.5233" stop-color="#baf410"/><stop offset="0.5803" stop-color="#cdec0d"/><stop offset="0.6010" stop-color="#c9d205"/><stop offset="0.6218" stop-color="#afa405"/><stop offset="0.6321" stop-color="#aba006"/><stop offset="0.6425" stop-color="#bbb106"/><stop offset="0.6632" stop-color="#f2dd01"/><stop offset="0.6839" stop-color="#ffe600"/><stop offset="0.7513" stop-color="#ffe000"/><stop offset="0.7772" stop-color="#ffb500"/><stop offset="0.7979" stop-color="#ff9a00"/><stop offset="0.8808" stop-color="#ff9200"/><stop offset="0.9016" stop-color="#ff7300"/><stop offset="0.9223" stop-color="#ff4900"/><stop offset="0.9534" stop-color="#ff3c00"/><stop offset="1.0000" stop-color="#ff3c00"/></linearGradient><linearGradient id="r70" gradientUnits="userSpaceOnUse" x1="443.0" x2="636.0" y1="0" y2="0"><stop offset="0.0000" stop-color="#00fa0f"/><stop offset="0.0311" stop-color="#02fa1b"/><stop offset="0.0466" stop-color="#04fa20"/><stop offset="0.0829" stop-color="#00fa12"/><stop offset="0.2435" stop-color="#13fa12"/><stop offset="0.3316" stop-color="#36f80e"/><stop offset="0.5233" stop-color="#bdf411"/><stop offset="0.5855" stop-color="#d1eb0c"/><stop offset="0.6062" stop-color="#cace05"/><stop offset="0.6269" stop-color="#b0a005"/><stop offset="0.6373" stop-color="#af9e05"/><stop offset="0.6528" stop-color="#d1bf03"/><stop offset="0.6684" stop-color="#f5dd01"/><stop offset="0.6995" stop-color="#ffe600"/><stop offset="0.7461" stop-color="#ffe000"/><stop offset="0.7720" stop-color="#ffb500"/><stop offset="0.7927" stop-color="#ff9a00"/><stop offset="0.8756" stop-color="#ff9200"/><stop offset="0.8964" stop-color="#ff7300"/><stop offset="0.9171" stop-color="#ff4900"/><stop offset="0.9482" stop-color="#ff3c00"/><stop offset="1.0000" stop-color="#ff3c00"/></linearGradient><linearGradient id="r71" gradientUnits="userSpaceOnUse" x1="443.0" x2="636.0" y1="0" y2="0"><stop offset="0.0000" stop-color="#00fa10"/><stop offset="0.0311" stop-color="#02fa1c"/><stop offset="0.0466" stop-color="#04fa22"/><stop offset="0.0829" stop-color="#00fa13"/><stop offset="0.2435" stop-color="#14fa13"/><stop offset="0.3316" stop-color="#38f710"/><stop offset="0.5233" stop-color="#c0f412"/><stop offset="0.5855" stop-color="#d3ec0c"/><stop offset="0.6062" stop-color="#d1d505"/><stop offset="0.6321" stop-color="#b29d04"/><stop offset="0.6425" stop-color="#b39e05"/><stop offset="0.6736" stop-color="#f7de01"/><stop offset="0.7202" stop-color="#ffe600"/><stop offset="0.7461" stop-color="#ffdb00"/><stop offset="0.7824" stop-color="#ff9d00"/><stop offset="0.8497" stop-color="#ff9600"/><stop offset="0.8756" stop-color="#ff8d00"/><stop offset="0.9171" stop-color="#ff4300"/><stop offset="1.0000" stop-color="#ff3c00"/></linearGradient><linearGradient id="r72" gradientUnits="userSpaceOnUse" x1="443.0" x2="636.0" y1="0" y2="0"><stop offset="0.0000" stop-color="#00fa11"/><stop offset="0.0311" stop-color="#02fa1e"/><stop offset="0.0466" stop-color="#04fa24"/><stop offset="0.0829" stop-color="#00fa15"/><stop offset="0.2383" stop-color="#13fa15"/><stop offset="0.3368" stop-color="#3df712"/><stop offset="0.5285" stop-color="#c5f312"/><stop offset="0.5907" stop-color="#d7eb0b"/><stop offset="0.6114" stop-color="#d2d104"/><stop offset="0.6321" stop-color="#b8a004"/><stop offset="0.6425" stop-color="#b39804"/><stop offset="0.6580" stop-color="#ccb403"/><stop offset="0.6736" stop-color="#f1d901"/><stop offset="0.6943" stop-color="#fee600"/><stop offset="0.7358" stop-color="#ffe000"/><stop offset="0.7617" stop-color="#ffb500"/><stop offset="0.7824" stop-color="#ff9a00"/><stop offset="0.8653" stop-color="#ff9200"/><stop offset="0.8860" stop-color="#ff7300"/><stop offset="0.9067" stop-color="#ff4900"/><stop offset="0.9378" stop-color="#ff3c00"/><stop offset="1.0000" stop-color="#ff3c00"/></linearGradient><linearGradient id="r73" gradientUnits="userSpaceOnUse" x1="443.0" x2="636.0" y1="0" y2="0"><stop offset="0.0000" stop-color="#00fa13"/><stop offset="0.0311" stop-color="#02fa20"/><stop offset="0.0466" stop-color="#04fa26"/><stop offset="0.0829" stop-color="#00fa16"/><stop offset="0.2383" stop-color="#14fa16"/><stop offset="0.3368" stop-color="#3ef714"/><stop offset="0.5285" stop-color="#c7f313"/><stop offset="0.5959" stop-color="#daea09"/><stop offset="0.6166" stop-color="#d4cd04"/><stop offset="0.6373" stop-color="#b99c04"/><stop offset="0.6477" stop-color="#b49704"/><stop offset="0.6632" stop-color="#cfb603"/><stop offset="0.6788" stop-color="#f2da01"/><stop offset="0.7047" stop-color="#ffe600"/><stop offset="0.7358" stop-color="#ffdb00"/><stop offset="0.7720" stop-color="#ff9d00"/><stop offset="0.8446" stop-color="#ff9600"/><stop offset="0.8705" stop-color="#ff8700"/><stop offset="0.9016" stop-color="#ff4900"/><stop offset="0.9326" stop-color="#ff3c00"/><stop offset="1.0000" stop-color="#ff3c00"/></linearGradient><linearGradient id="r74" gradientUnits="userSpaceOnUse" x1="443.0" x2="636.0" y1="0" y2="0"><stop offset="0.0000" stop-color="#00fa17"/><stop offset="0.0311" stop-color="#02fa22"/><stop offset="0.0466" stop-color="#04fa28"/><stop offset="0.0829" stop-color="#00fa18"/><stop offset="0.2332" stop-color="#14fa18"/><stop offset="0.3368" stop-color="#40f717"/><stop offset="0.5285" stop-color="#caf314"/><stop offset="0.6010" stop-color="#dee907"/><stop offset="0.6218" stop-color="#d5c803"/><stop offset="0.6425" stop-color="#ba9804"/><stop offset="0.6528" stop-color="#b69604"/><stop offset="0.6684" stop-color="#d2b703"/><stop offset="0.6839" stop-color="#f4db01"/><stop offset="0.7098" stop-color="#ffe500"/><stop offset="0.7306" stop-color="#ffdb00"/><stop offset="0.7668" stop-color="#ff9d00"/><stop offset="0.8601" stop-color="#ff8e00"/><stop offset="0.9016" stop-color="#ff4300"/><stop offset="0.9741" stop-color="#ff3c00"/><stop offset="1.0000" stop-color="#ff3c00"/></linearGradient><linearGradient id="r75" gradientUnits="userSpaceOnUse" x1="443.0" x2="636.0" y1="0" y2="0"><stop offset="0.0000" stop-color="#00fa1a"/><stop offset="0.0311" stop-color="#02fa25"/><stop offset="0.0466" stop-color="#03fa2a"/><stop offset="0.0777" stop-color="#00fa19"/><stop offset="0.2332" stop-color="#15fa19"/><stop offset="0.3420" stop-color="#45f619"/><stop offset="0.5285" stop-color="#cdf316"/><stop offset="0.6062" stop-color="#e1e706"/><stop offset="0.6269" stop-color="#d7c403"/><stop offset="0.6477" stop-color="#ba9504"/><stop offset="0.6580" stop-color="#b89504"/><stop offset="0.6788" stop-color="#e2c802"/><stop offset="0.6943" stop-color="#fae100"/><stop offset="0.7202" stop-color="#ffe000"/><stop offset="0.7461" stop-color="#ffb500"/><stop offset="0.7668" stop-color="#ff9a00"/><stop offset="0.8497" stop-color="#ff9200"/><stop offset="0.8705" stop-color="#ff7300"/><stop offset="0.8912" stop-color="#ff4900"/><stop offset="0.9223" stop-color="#ff3c00"/><stop offset="1.0000" stop-color="#ff3c00"/></linearGradient><linearGradient id="r76" gradientUnits="userSpaceOnUse" x1="443.0" x2="636.0" y1="0" y2="0"><stop offset="0.0000" stop-color="#00fa1e"/><stop offset="0.0311" stop-color="#02fa28"/><stop offset="0.0466" stop-color="#03fa2d"/><stop offset="0.0777" stop-color="#00fa1b"/><stop offset="0.2280" stop-color="#14fa1b"/><stop offset="0.3420" stop-color="#47f61b"/><stop offset="0.5233" stop-color="#cdf419"/><stop offset="0.6062" stop-color="#e4e905"/><stop offset="0.6269" stop-color="#decc03"/><stop offset="0.6477" stop-color="#c19803"/><stop offset="0.6580" stop-color="#b89004"/><stop offset="0.6684" stop-color="#c19e04"/><stop offset="0.6891" stop-color="#efd501"/><stop offset="0.7047" stop-color="#fde300"/><stop offset="0.7254" stop-color="#ffd300"/><stop offset="0.7565" stop-color="#ff9d00"/><stop offset="0.8497" stop-color="#ff8d00"/><stop offset="0.8912" stop-color="#ff4300"/><stop offset="0.9689" stop-color="#ff3c00"/><stop offset="1.0000" stop-color="#ff3c00"/></linearGradient><linearGradient id="r77" gradientUnits="userSpaceOnUse" x1="443.0" x2="636.0" y1="0" y2="0"><stop offset="0.0000" stop-color="#00fa21"/><stop offset="0.0311" stop-color="#02fa2b"/><stop offset="0.0466" stop-color="#03fa2f"/><stop offset="0.0777" stop-color="#00fa1d"/><stop offset="0.2228" stop-color="#14fa1c"/><stop offset="0.3420" stop-color="#49f61e"/><stop offset="0.5233" stop-color="#cff41b"/><stop offset="0.6114" stop-color="#e8e804"/><stop offset="0.6321" stop-color="#dfc702"/><stop offset="0.6528" stop-color="#c19403"/><stop offset="0.6632" stop-color="#ba8e04"/><stop offset="0.6788" stop-color="#cfae03"/><stop offset="0.6943" stop-color="#f1d601"/><stop offset="0.7098" stop-color="#fede00"/><stop offset="0.7306" stop-color="#ffbf00"/><stop offset="0.7513" stop-color="#ff9d00"/><stop offset="0.8187" stop-color="#ff9600"/><stop offset="0.8446" stop-color="#ff8d00"/><stop offset="0.8860" stop-color="#ff4300"/><stop offset="0.9637" stop-color="#ff3c00"/><stop offset="1.0000" stop-color="#ff3c00"/></linearGradient><linearGradient id="r78" gradientUnits="userSpaceOnUse" x1="443.0" x2="636.0" y1="0" y2="0"><stop offset="0.0000" stop-color="#00fa22"/><stop offset="0.0311" stop-color="#02fa2c"/><stop offset="0.0466" stop-color="#03fa31"/><stop offset="0.0777" stop-color="#00fa1e"/><stop offset="0.2228" stop-color="#15fa1e"/><stop offset="0.3472" stop-color="#4ef620"/><stop offset="0.5233" stop-color="#d1f41c"/><stop offset="0.6114" stop-color="#ebe904"/><stop offset="0.6321" stop-color="#e6cf02"/><stop offset="0.6580" stop-color="#c29003"/><stop offset="0.6684" stop-color="#bb8d04"/><stop offset="0.6839" stop-color="#d2b003"/><stop offset="0.6995" stop-color="#f3d501"/><stop offset="0.7150" stop-color="#fed200"/><stop offset="0.7461" stop-color="#ff9d00"/><stop offset="0.8187" stop-color="#ff9600"/><stop offset="0.8446" stop-color="#ff8700"/><stop offset="0.8756" stop-color="#ff4900"/><stop offset="0.9067" stop-color="#ff3c00"/><stop offset="1.0000" stop-color="#ff3c00"/></linearGradient><linearGradient id="r79" gradientUnits="userSpaceOnUse" x1="443.0" x2="636.0" y1="0" y2="0"><stop offset="0.0000" stop-color="#00fa23"/><stop offset="0.0311" stop-color="#02fa2e"/><stop offset="0.0466" stop-color="#03fa33"/><stop offset="0.0777" stop-color="#00fa20"/><stop offset="0.2176" stop-color="#14fa20"/><stop offset="0.3472" stop-color="#50f623"/><stop offset="0.5233" stop-color="#d4f41e"/><stop offset="0.6166" stop-color="#efe804"/><stop offset="0.6373" stop-color="#e7cb02"/><stop offset="0.6632" stop-color="#c28d03"/><stop offset="0.6736" stop-color="#bd8c04"/><stop offset="0.6891" stop-color="#d5b203"/><stop offset="0.6995" stop-color="#eccb01"/><stop offset="0.7098" stop-color="#face00"/><stop offset="0.7409" stop-color="#ff9d00"/><stop offset="0.8083" stop-color="#ff9600"/><stop offset="0.8342" stop-color="#ff8d00"/><stop offset="0.8756" stop-color="#ff4300"/><stop offset="0.9534" stop-color="#ff3c00"/><stop offset="1.0000" stop-color="#ff3c00"/></linearGradient><linearGradient id="r80" gradientUnits="userSpaceOnUse" x1="443.0" x2="636.0" y1="0" y2="0"><stop offset="0.0000" stop-color="#00fa23"/><stop offset="0.0311" stop-color="#01fa2f"/><stop offset="0.0466" stop-color="#02fa35"/><stop offset="0.0777" stop-color="#00fa22"/><stop offset="0.2176" stop-color="#16fa22"/><stop offset="0.3472" stop-color="#52f525"/><stop offset="0.4922" stop-color="#c1f525"/><stop offset="0.5699" stop-color="#e9f013"/><stop offset="0.6269" stop-color="#f3e103"/><stop offset="0.6477" stop-color="#e1b902"/><stop offset="0.6684" stop-color="#c38903"/><stop offset="0.6788" stop-color="#bf8c04"/><stop offset="0.6995" stop-color="#e4bc02"/><stop offset="0.7098" stop-color="#f6c101"/><stop offset="0.7409" stop-color="#ff9a00"/><stop offset="0.8238" stop-color="#ff9200"/><stop offset="0.8446" stop-color="#ff7300"/><stop offset="0.8653" stop-color="#ff4900"/><stop offset="0.8964" stop-color="#ff3c00"/><stop offset="1.0000" stop-color="#ff3c00"/></linearGradient><linearGradient id="r81" gradientUnits="userSpaceOnUse" x1="443.0" x2="636.0" y1="0" y2="0"><stop offset="0.0000" stop-color="#00fa23"/><stop offset="0.0311" stop-color="#01fa2f"/><stop offset="0.0466" stop-color="#02fa37"/><stop offset="0.0777" stop-color="#00fa24"/><stop offset="0.2124" stop-color="#15fa24"/><stop offset="0.3420" stop-color="#50f528"/><stop offset="0.4819" stop-color="#baf527"/><stop offset="0.5440" stop-color="#e1f21c"/><stop offset="0.6269" stop-color="#f6e403"/><stop offset="0.6477" stop-color="#e9c101"/><stop offset="0.6684" stop-color="#ca8d03"/><stop offset="0.6788" stop-color="#c08604"/><stop offset="0.6943" stop-color="#d0a103"/><stop offset="0.7047" stop-color="#e7b202"/><stop offset="0.7254" stop-color="#fda200"/><stop offset="0.7565" stop-color="#ff9600"/><stop offset="0.8187" stop-color="#ff9200"/><stop offset="0.8394" stop-color="#ff7300"/><stop offset="0.8601" stop-color="#ff4900"/><stop offset="0.8912" stop-color="#ff3c00"/><stop offset="1.0000" stop-color="#ff3c00"/></linearGradient><linearGradient id="r82" gradientUnits="userSpaceOnUse" x1="443.0" x2="636.0" y1="0" y2="0"><stop offset="0.0000" stop-color="#00fa23"/><stop offset="0.0259" stop-color="#01fa2b"/><stop offset="0.0466" stop-color="#02fa39"/><stop offset="0.0777" stop-color="#00fa27"/><stop offset="0.2021" stop-color="#13fa27"/><stop offset="0.3264" stop-color="#49f52a"/><stop offset="0.4560" stop-color="#a6f52a"/><stop offset="0.5233" stop-color="#d9f424"/><stop offset="0.6166" stop-color="#f7e907"/><stop offset="0.6373" stop-color="#f7dc02"/><stop offset="0.6580" stop-color="#e2ad02"/><stop offset="0.6736" stop-color="#ca8803"/><stop offset="0.6839" stop-color="#c18304"/><stop offset="0.6995" stop-color="#d39b03"/><stop offset="0.7150" stop-color="#f2a201"/><stop offset="0.7409" stop-color="#ff9700"/><stop offset="0.8135" stop-color="#ff9200"/><stop offset="0.8342" stop-color="#ff7300"/><stop offset="0.8549" stop-color="#ff4900"/><stop offset="0.8860" stop-color="#ff3c00"/><stop offset="1.0000" stop-color="#ff3c00"/></linearGradient><linearGradient id="r83" gradientUnits="userSpaceOnUse" x1="443.0" x2="636.0" y1="0" y2="0"><stop offset="0.0000" stop-color="#00fa24"/><stop offset="0.0259" stop-color="#01fa2c"/><stop offset="0.0466" stop-color="#02fa3c"/><stop offset="0.0829" stop-color="#00fa2a"/><stop offset="0.2021" stop-color="#14fa2a"/><stop offset="0.3212" stop-color="#48f52d"/><stop offset="0.4508" stop-color="#a3f52c"/><stop offset="0.5233" stop-color="#dbf425"/><stop offset="0.6114" stop-color="#f7e909"/><stop offset="0.6425" stop-color="#f8d802"/><stop offset="0.6736" stop-color="#d28d03"/><stop offset="0.6891" stop-color="#c38104"/><stop offset="0.7047" stop-color="#d69203"/><stop offset="0.7254" stop-color="#f99700"/><stop offset="0.8083" stop-color="#ff9200"/><stop offset="0.8290" stop-color="#ff7300"/><stop offset="0.8497" stop-color="#ff4900"/><stop offset="0.8808" stop-color="#ff3c00"/><stop offset="1.0000" stop-color="#ff3c00"/></linearGradient><linearGradient id="r84" gradientUnits="userSpaceOnUse" x1="443.0" x2="636.0" y1="0" y2="0"><stop offset="0.0000" stop-color="#00fa26"/><stop offset="0.0259" stop-color="#01fa2d"/><stop offset="0.0466" stop-color="#02fa3e"/><stop offset="0.0829" stop-color="#00fa2e"/><stop offset="0.1969" stop-color="#14fa2d"/><stop offset="0.3109" stop-color="#44f530"/><stop offset="0.4456" stop-color="#a1f52e"/><stop offset="0.5181" stop-color="#daf429"/><stop offset="0.6062" stop-color="#f8ea0c"/><stop offset="0.6425" stop-color="#fadb02"/><stop offset="0.6632" stop-color="#e9b001"/><stop offset="0.6839" stop-color="#cb8003"/><stop offset="0.6995" stop-color="#c88004"/><stop offset="0.7306" stop-color="#fa9400"/><stop offset="0.8031" stop-color="#ff9200"/><stop offset="0.8238" stop-color="#ff7300"/><stop offset="0.8446" stop-color="#ff4900"/><stop offset="0.8756" stop-color="#ff3c00"/><stop offset="1.0000" stop-color="#ff3c00"/></linearGradient><linearGradient id="r85" gradientUnits="userSpaceOnUse" x1="443.0" x2="636.0" y1="0" y2="0"><stop offset="0.0000" stop-color="#00fa2a"/><stop offset="0.0259" stop-color="#01fa31"/><stop offset="0.0466" stop-color="#01fa41"/><stop offset="0.0829" stop-color="#00fb31"/><stop offset="0.1917" stop-color="#13fa31"/><stop offset="0.3005" stop-color="#40f634"/><stop offset="0.4404" stop-color="#9ff531"/><stop offset="0.5181" stop-color="#dcf42a"/><stop offset="0.6062" stop-color="#f9ea0e"/><stop offset="0.6425" stop-color="#fcdd02"/><stop offset="0.6632" stop-color="#f0b801"/><stop offset="0.6839" stop-color="#d28403"/><stop offset="0.6995" stop-color="#c67904"/><stop offset="0.7202" stop-color="#e78a02"/><stop offset="0.7409" stop-color="#fd9500"/><stop offset="0.7979" stop-color="#ff9200"/><stop offset="0.8187" stop-color="#ff7300"/><stop offset="0.8394" stop-color="#ff4900"/><stop offset="0.8705" stop-color="#ff3c00"/><stop offset="1.0000" stop-color="#ff3c00"/></linearGradient><linearGradient id="r86" gradientUnits="userSpaceOnUse" x1="443.0" x2="636.0" y1="0" y2="0"><stop offset="0.0000" stop-color="#00fa32"/><stop offset="0.0259" stop-color="#01fa36"/><stop offset="0.0466" stop-color="#01fa45"/><stop offset="0.0829" stop-color="#00fb35"/><stop offset="0.1865" stop-color="#12fa35"/><stop offset="0.2953" stop-color="#3ff637"/><stop offset="0.4404" stop-color="#a1f533"/><stop offset="0.5181" stop-color="#ddf42c"/><stop offset="0.6062" stop-color="#fae90f"/><stop offset="0.6477" stop-color="#fdd801"/><stop offset="0.6684" stop-color="#f0b201"/><stop offset="0.6891" stop-color="#d27f03"/><stop offset="0.7047" stop-color="#c87504"/><stop offset="0.7358" stop-color="#f89201"/><stop offset="0.7927" stop-color="#ff9200"/><stop offset="0.8135" stop-color="#ff7300"/><stop offset="0.8342" stop-color="#ff4900"/><stop offset="0.8653" stop-color="#ff3c00"/><stop offset="1.0000" stop-color="#ff3c00"/></linearGradient><linearGradient id="r87" gradientUnits="userSpaceOnUse" x1="443.0" x2="636.0" y1="0" y2="0"><stop offset="0.0000" stop-color="#00fb3e"/><stop offset="0.0259" stop-color="#00fb3e"/><stop offset="0.0466" stop-color="#01fa48"/><stop offset="0.0829" stop-color="#00fb39"/><stop offset="0.1813" stop-color="#11fb39"/><stop offset="0.2902" stop-color="#3ef63b"/><stop offset="0.4404" stop-color="#a4f536"/><stop offset="0.5181" stop-color="#dff42d"/><stop offset="0.6062" stop-color="#fbe910"/><stop offset="0.6477" stop-color="#fed901"/><stop offset="0.6684" stop-color="#f5b901"/><stop offset="0.6943" stop-color="#d37b03"/><stop offset="0.7098" stop-color="#ca7304"/><stop offset="0.7409" stop-color="#f99200"/><stop offset="0.7876" stop-color="#ff9200"/><stop offset="0.8083" stop-color="#ff7300"/><stop offset="0.8290" stop-color="#ff4900"/><stop offset="0.8601" stop-color="#ff3c00"/><stop offset="1.0000" stop-color="#ff3c00"/></linearGradient><linearGradient id="r88" gradientUnits="userSpaceOnUse" x1="443.0" x2="636.0" y1="0" y2="0"><stop offset="0.0000" stop-color="#00fb4d"/><stop offset="0.0259" stop-color="#00fb47"/><stop offset="0.0466" stop-color="#01fa4c"/><stop offset="0.0829" stop-color="#00fb3d"/><stop offset="0.1813" stop-color="#12fb3d"/><stop offset="0.2902" stop-color="#40f63e"/><stop offset="0.4404" stop-color="#a6f538"/><stop offset="0.5181" stop-color="#e0f42f"/><stop offset="0.6062" stop-color="#fce912"/><stop offset="0.6528" stop-color="#fed401"/><stop offset="0.6736" stop-color="#f5b301"/><stop offset="0.6995" stop-color="#d37703"/><stop offset="0.7150" stop-color="#cc7203"/><stop offset="0.7461" stop-color="#fa9300"/><stop offset="0.7824" stop-color="#ff9200"/><stop offset="0.8031" stop-color="#ff7300"/><stop offset="0.8238" stop-color="#ff4900"/><stop offset="0.8549" stop-color="#ff3c00"/><stop offset="1.0000" stop-color="#ff3c00"/></linearGradient><linearGradient id="r89" gradientUnits="userSpaceOnUse" x1="443.0" x2="636.0" y1="0" y2="0"><stop offset="0.0000" stop-color="#00fb5c"/><stop offset="0.0259" stop-color="#00fb4f"/><stop offset="0.0518" stop-color="#01fb4d"/><stop offset="0.0881" stop-color="#00fb41"/><stop offset="0.1865" stop-color="#15fb41"/><stop offset="0.2850" stop-color="#3ff741"/><stop offset="0.4404" stop-color="#a8f53a"/><stop offset="0.5233" stop-color="#e4f42f"/><stop offset="0.6062" stop-color="#fde813"/><stop offset="0.6580" stop-color="#fecf00"/><stop offset="0.6788" stop-color="#f5ad01"/><stop offset="0.7047" stop-color="#d37303"/><stop offset="0.7202" stop-color="#ce7103"/><stop offset="0.7513" stop-color="#fa9300"/><stop offset="0.7824" stop-color="#ff8d00"/><stop offset="0.8083" stop-color="#ff5b00"/><stop offset="0.8290" stop-color="#ff4000"/><stop offset="1.0000" stop-color="#ff3c00"/></linearGradient><linearGradient id="r90" gradientUnits="userSpaceOnUse" x1="443.0" x2="636.0" y1="0" y2="0"><stop offset="0.0000" stop-color="#00fb6a"/><stop offset="0.0259" stop-color="#00fb56"/><stop offset="0.0518" stop-color="#00fb50"/><stop offset="0.0881" stop-color="#00fb45"/><stop offset="0.1865" stop-color="#16fb45"/><stop offset="0.2850" stop-color="#41f744"/><stop offset="0.4404" stop-color="#abf53d"/><stop offset="0.5233" stop-color="#e5f431"/><stop offset="0.6062" stop-color="#fde714"/><stop offset="0.6632" stop-color="#fecb00"/><stop offset="0.6839" stop-color="#f5a701"/><stop offset="0.7098" stop-color="#d47003"/><stop offset="0.7254" stop-color="#d07103"/><stop offset="0.7565" stop-color="#fb9300"/><stop offset="0.7772" stop-color="#ff8d00"/><stop offset="0.8187" stop-color="#ff4300"/><stop offset="0.8964" stop-color="#ff3c00"/><stop offset="1.0000" stop-color="#ff3c00"/></linearGradient><linearGradient id="r91" gradientUnits="userSpaceOnUse" x1="443.0" x2="636.0" y1="0" y2="0"><stop offset="0.0000" stop-color="#00fb76"/><stop offset="0.0259" stop-color="#00fb5d"/><stop offset="0.0881" stop-color="#00fb49"/><stop offset="0.1917" stop-color="#18fb49"/><stop offset="0.2850" stop-color="#44f748"/><stop offset="0.4404" stop-color="#adf53f"/><stop offset="0.5233" stop-color="#e7f432"/><stop offset="0.6062" stop-color="#fee615"/><stop offset="0.6632" stop-color="#ffcb00"/><stop offset="0.6839" stop-color="#f9ad00"/><stop offset="0.7098" stop-color="#db7202"/><stop offset="0.7254" stop-color="#cf6c03"/><stop offset="0.7565" stop-color="#f89001"/><stop offset="0.7772" stop-color="#ff8700"/><stop offset="0.8083" stop-color="#ff4900"/><stop offset="0.8394" stop-color="#ff3c00"/><stop offset="1.0000" stop-color="#ff3c00"/></linearGradient><linearGradient id="r92" gradientUnits="userSpaceOnUse" x1="443.0" x2="636.0" y1="0" y2="0"><stop offset="0.0000" stop-color="#00fa7e"/><stop offset="0.0311" stop-color="#00fb61"/><stop offset="0.0829" stop-color="#00fc4d"/><stop offset="0.1762" stop-color="#13fb4d"/><stop offset="0.2746" stop-color="#3ff74c"/><stop offset="0.4456" stop-color="#b3f541"/><stop offset="0.5233" stop-color="#e8f434"/><stop offset="0.6010" stop-color="#fee618"/><stop offset="0.6580" stop-color="#ffcd01"/><stop offset="0.6839" stop-color="#fbb200"/><stop offset="0.7150" stop-color="#db6e02"/><stop offset="0.7306" stop-color="#d06b03"/><stop offset="0.7565" stop-color="#f48b01"/><stop offset="0.7720" stop-color="#fe8600"/><stop offset="0.8031" stop-color="#ff4900"/><stop offset="0.8342" stop-color="#ff3c00"/><stop offset="1.0000" stop-color="#ff3c00"/></linearGradient><linearGradient id="r93" gradientUnits="userSpaceOnUse" x1="443.0" x2="636.0" y1="0" y2="0"><stop offset="0.0000" stop-color="#00fa84"/><stop offset="0.0466" stop-color="#00fb5f"/><stop offset="0.0829" stop-color="#00fc51"/><stop offset="0.1813" stop-color="#16fb51"/><stop offset="0.2746" stop-color="#41f750"/><stop offset="0.4508" stop-color="#b9f543"/><stop offset="0.5285" stop-color="#ecf334"/><stop offset="0.6010" stop-color="#ffe419"/><stop offset="0.6580" stop-color="#ffcb01"/><stop offset="0.6839" stop-color="#fdb600"/><stop offset="0.7098" stop-color="#e97c01"/><stop offset="0.7254" stop-color="#d56603"/><stop offset="0.7409" stop-color="#d67003"/><stop offset="0.7617" stop-color="#f58501"/><stop offset="0.7772" stop-color="#fe7200"/><stop offset="0.7979" stop-color="#ff4900"/><stop offset="0.8290" stop-color="#ff3c00"/><stop offset="1.0000" stop-color="#ff3c00"/></linearGradient><linearGradient id="r94" gradientUnits="userSpaceOnUse" x1="443.0" x2="636.0" y1="0" y2="0"><stop offset="0.0000" stop-color="#00fa88"/><stop offset="0.0674" stop-color="#00fc58"/><stop offset="0.1503" stop-color="#0cfc56"/><stop offset="0.2642" stop-color="#3cf854"/><stop offset="0.4611" stop-color="#c3f544"/><stop offset="0.5337" stop-color="#eff335"/><stop offset="0.5959" stop-color="#ffe41e"/><stop offset="0.6580" stop-color="#ffc902"/><stop offset="0.6839" stop-color="#feb801"/><stop offset="0.7098" stop-color="#f08201"/><stop offset="0.7254" stop-color="#db6702"/><stop offset="0.7409" stop-color="#d46903"/><stop offset="0.7617" stop-color="#f07b01"/><stop offset="0.7824" stop-color="#fe5a00"/><stop offset="0.8031" stop-color="#ff4000"/><stop offset="1.0000" stop-color="#ff3b00"/></linearGradient><linearGradient id="r95" gradientUnits="userSpaceOnUse" x1="443.0" x2="636.0" y1="0" y2="0"><stop offset="0.0000" stop-color="#00fa8a"/><stop offset="0.0725" stop-color="#00fc5c"/><stop offset="0.1554" stop-color="#0ffc5b"/><stop offset="0.2642" stop-color="#3df859"/><stop offset="0.4508" stop-color="#bdf548"/><stop offset="0.5285" stop-color="#eff339"/><stop offset="0.5907" stop-color="#ffe523"/><stop offset="0.6580" stop-color="#ffc703"/><stop offset="0.6839" stop-color="#ffb901"/><stop offset="0.7150" stop-color="#ef7b01"/><stop offset="0.7306" stop-color="#db6302"/><stop offset="0.7461" stop-color="#d56703"/><stop offset="0.7617" stop-color="#eb6f02"/><stop offset="0.7824" stop-color="#fd5000"/><stop offset="0.8031" stop-color="#ff3e00"/><stop offset="1.0000" stop-color="#ff3a00"/></linearGradient><linearGradient id="r96" gradientUnits="userSpaceOnUse" x1="443.0" x2="636.0" y1="0" y2="0"><stop offset="0.0000" stop-color="#00fa8b"/><stop offset="0.0363" stop-color="#00fa78"/><stop offset="0.0725" stop-color="#00fc63"/><stop offset="0.1554" stop-color="#0ffc61"/><stop offset="0.2642" stop-color="#3ff85e"/><stop offset="0.4404" stop-color="#b9f54d"/><stop offset="0.5337" stop-color="#f2f23a"/><stop offset="0.5907" stop-color="#ffe327"/><stop offset="0.6580" stop-color="#ffc505"/><stop offset="0.6839" stop-color="#ffb802"/><stop offset="0.7150" stop-color="#f57e01"/><stop offset="0.7358" stop-color="#dc6002"/><stop offset="0.7513" stop-color="#d76303"/><stop offset="0.7668" stop-color="#ed5f02"/><stop offset="0.7876" stop-color="#fe4300"/><stop offset="0.8756" stop-color="#ff3c00"/><stop offset="1.0000" stop-color="#ff3800"/></linearGradient><linearGradient id="r97" gradientUnits="userSpaceOnUse" x1="443.0" x2="636.0" y1="0" y2="0"><stop offset="0.0000" stop-color="#00fa8c"/><stop offset="0.0363" stop-color="#00fa7d"/><stop offset="0.0725" stop-color="#00fc69"/><stop offset="0.1503" stop-color="#0efc66"/><stop offset="0.2642" stop-color="#40f864"/><stop offset="0.4352" stop-color="#b8f551"/><stop offset="0.5337" stop-color="#f3f23d"/><stop offset="0.5959" stop-color="#ffde28"/><stop offset="0.6580" stop-color="#ffc308"/><stop offset="0.6839" stop-color="#ffb603"/><stop offset="0.7202" stop-color="#f57701"/><stop offset="0.7409" stop-color="#dc5d03"/><stop offset="0.7565" stop-color="#d95c03"/><stop offset="0.7876" stop-color="#fd4000"/><stop offset="0.9948" stop-color="#ff3800"/><stop offset="1.0000" stop-color="#ff3500"/></linearGradient><linearGradient id="r98" gradientUnits="userSpaceOnUse" x1="443.0" x2="636.0" y1="0" y2="0"><stop offset="0.0000" stop-color="#00fa8c"/><stop offset="0.0363" stop-color="#00fa81"/><stop offset="0.0725" stop-color="#00fb70"/><stop offset="0.1503" stop-color="#0efb6d"/><stop offset="0.2642" stop-color="#41f869"/><stop offset="0.4301" stop-color="#b8f556"/><stop offset="0.5389" stop-color="#f6f13f"/><stop offset="0.6010" stop-color="#ffda29"/><stop offset="0.6580" stop-color="#ffc10a"/><stop offset="0.6839" stop-color="#ffb304"/><stop offset="0.7254" stop-color="#f57001"/><stop offset="0.7461" stop-color="#dd5903"/><stop offset="0.7617" stop-color="#dc5303"/><stop offset="0.7927" stop-color="#fd3d00"/><stop offset="0.9896" stop-color="#ff3900"/><stop offset="1.0000" stop-color="#ff3200"/></linearGradient><linearGradient id="r99" gradientUnits="userSpaceOnUse" x1="443.0" x2="636.0" y1="0" y2="0"><stop offset="0.0000" stop-color="#00fa8c"/><stop offset="0.0415" stop-color="#00fa81"/><stop offset="0.0984" stop-color="#00fb75"/><stop offset="0.2383" stop-color="#33f971"/><stop offset="0.4093" stop-color="#acf55e"/><stop offset="0.5337" stop-color="#f5f143"/><stop offset="0.5959" stop-color="#ffdb31"/><stop offset="0.6528" stop-color="#ffc00e"/><stop offset="0.6839" stop-color="#ffaf05"/><stop offset="0.7254" stop-color="#f87100"/><stop offset="0.7513" stop-color="#dd5503"/><stop offset="0.7668" stop-color="#de4c03"/><stop offset="0.7979" stop-color="#fd3d00"/><stop offset="0.9896" stop-color="#ff3600"/><stop offset="1.0000" stop-color="#ff2d00"/></linearGradient><linearGradient id="r100" gradientUnits="userSpaceOnUse" x1="443.0" x2="636.0" y1="0" y2="0"><stop offset="0.0000" stop-color="#00fa8c"/><stop offset="0.1244" stop-color="#06fb7a"/><stop offset="0.2591" stop-color="#40f875"/><stop offset="0.4145" stop-color="#b3f561"/><stop offset="0.5337" stop-color="#f6f047"/><stop offset="0.5959" stop-color="#ffda35"/><stop offset="0.6528" stop-color="#ffbe11"/><stop offset="0.6839" stop-color="#ffab07"/><stop offset="0.7306" stop-color="#f96b00"/><stop offset="0.7617" stop-color="#db4e03"/><stop offset="0.7824" stop-color="#ed4202"/><stop offset="0.8083" stop-color="#fe3c00"/><stop offset="0.9845" stop-color="#ff3700"/><stop offset="1.0000" stop-color="#ff2800"/></linearGradient><linearGradient id="r101" gradientUnits="userSpaceOnUse" x1="443.0" x2="636.0" y1="0" y2="0"><stop offset="0.0000" stop-color="#00fa8c"/><stop offset="0.1244" stop-color="#06fb81"/><stop offset="0.2591" stop-color="#42f87b"/><stop offset="0.4145" stop-color="#b6f565"/><stop offset="0.5389" stop-color="#f8ef49"/><stop offset="0.5907" stop-color="#ffdb3d"/><stop offset="0.6528" stop-color="#ffbc14"/><stop offset="0.6891" stop-color="#ffa005"/><stop offset="0.7358" stop-color="#f86500"/><stop offset="0.7668" stop-color="#dc4b03"/><stop offset="0.8083" stop-color="#fe3c00"/><stop offset="0.9793" stop-color="#ff3700"/><stop offset="1.0000" stop-color="#ff2400"/></linearGradient><linearGradient id="r102" gradientUnits="userSpaceOnUse" x1="443.0" x2="636.0" y1="0" y2="0"><stop offset="0.0000" stop-color="#00fa8c"/><stop offset="0.1244" stop-color="#06fb87"/><stop offset="0.2591" stop-color="#43f781"/><stop offset="0.4145" stop-color="#b9f569"/><stop offset="0.5337" stop-color="#f8ef4e"/><stop offset="0.5907" stop-color="#ffda41"/><stop offset="0.6528" stop-color="#ffb916"/><stop offset="0.6891" stop-color="#ff9b06"/><stop offset="0.7409" stop-color="#f85f00"/><stop offset="0.7720" stop-color="#de4803"/><stop offset="0.8135" stop-color="#fe3c00"/><stop offset="0.9741" stop-color="#ff3700"/><stop offset="1.0000" stop-color="#ff1f00"/></linearGradient><linearGradient id="r103" gradientUnits="userSpaceOnUse" x1="443.0" x2="636.0" y1="0" y2="0"><stop offset="0.0000" stop-color="#00fa8c"/><stop offset="0.0777" stop-color="#00fb92"/><stop offset="0.1503" stop-color="#10fb8c"/><stop offset="0.2694" stop-color="#4cf785"/><stop offset="0.4197" stop-color="#c0f56c"/><stop offset="0.5389" stop-color="#f9ec52"/><stop offset="0.5855" stop-color="#ffdb49"/><stop offset="0.6580" stop-color="#ffb317"/><stop offset="0.7202" stop-color="#ff7100"/><stop offset="0.7513" stop-color="#f45401"/><stop offset="0.7772" stop-color="#df4603"/><stop offset="0.8187" stop-color="#fe3c00"/><stop offset="0.9689" stop-color="#ff3700"/><stop offset="1.0000" stop-color="#ff1b00"/></linearGradient><linearGradient id="r104" gradientUnits="userSpaceOnUse" x1="443.0" x2="636.0" y1="0" y2="0"><stop offset="0.0000" stop-color="#00fa8c"/><stop offset="0.0674" stop-color="#00fa99"/><stop offset="0.1347" stop-color="#0afa93"/><stop offset="0.2642" stop-color="#49f78b"/><stop offset="0.4197" stop-color="#c3f570"/><stop offset="0.5337" stop-color="#f9ec56"/><stop offset="0.5855" stop-color="#ffd94d"/><stop offset="0.6580" stop-color="#ffb019"/><stop offset="0.7202" stop-color="#ff6f00"/><stop offset="0.7565" stop-color="#f44f01"/><stop offset="0.7824" stop-color="#e04503"/><stop offset="0.8238" stop-color="#fe3c00"/><stop offset="0.9637" stop-color="#ff3800"/><stop offset="1.0000" stop-color="#ff1800"/></linearGradient><linearGradient id="r105" gradientUnits="userSpaceOnUse" x1="443.0" x2="636.0" y1="0" y2="0"><stop offset="0.0000" stop-color="#00fa8c"/><stop offset="0.0622" stop-color="#00faa0"/><stop offset="0.1347" stop-color="#0bfa9a"/><stop offset="0.2591" stop-color="#47f792"/><stop offset="0.4197" stop-color="#c6f575"/><stop offset="0.5285" stop-color="#f8ec5b"/><stop offset="0.5855" stop-color="#ffd851"/><stop offset="0.6632" stop-color="#ffa718"/><stop offset="0.7202" stop-color="#ff6d00"/><stop offset="0.7617" stop-color="#f44c01"/><stop offset="0.7876" stop-color="#e14303"/><stop offset="0.8238" stop-color="#fe3d00"/><stop offset="0.9585" stop-color="#ff3800"/><stop offset="1.0000" stop-color="#ff1600"/></linearGradient><linearGradient id="r106" gradientUnits="userSpaceOnUse" x1="443.0" x2="636.0" y1="0" y2="0"><stop offset="0.0000" stop-color="#00fa8d"/><stop offset="0.0622" stop-color="#00f9a6"/><stop offset="0.1295" stop-color="#09faa1"/><stop offset="0.2591" stop-color="#48f797"/><stop offset="0.4197" stop-color="#c8f57a"/><stop offset="0.5181" stop-color="#f6ee60"/><stop offset="0.5803" stop-color="#ffd958"/><stop offset="0.6684" stop-color="#ff9d16"/><stop offset="0.7202" stop-color="#ff6b01"/><stop offset="0.7617" stop-color="#f84e01"/><stop offset="0.7927" stop-color="#e24203"/><stop offset="0.8290" stop-color="#fe3e00"/><stop offset="0.9585" stop-color="#ff3600"/><stop offset="0.9948" stop-color="#ff1600"/><stop offset="1.0000" stop-color="#ff1500"/></linearGradient><linearGradient id="r107" gradientUnits="userSpaceOnUse" x1="443.0" x2="636.0" y1="0" y2="0"><stop offset="0.0000" stop-color="#00fa8e"/><stop offset="0.0570" stop-color="#00f8ac"/><stop offset="0.1295" stop-color="#09f9a7"/><stop offset="0.2591" stop-color="#49f79d"/><stop offset="0.4197" stop-color="#cbf57f"/><stop offset="0.5130" stop-color="#f5ee65"/><stop offset="0.5803" stop-color="#ffd75b"/><stop offset="0.6632" stop-color="#ff9f1b"/><stop offset="0.7202" stop-color="#ff6b02"/><stop offset="0.7668" stop-color="#f84e01"/><stop offset="0.7927" stop-color="#e34203"/><stop offset="0.8342" stop-color="#fe4100"/><stop offset="0.9534" stop-color="#ff3600"/><stop offset="0.9948" stop-color="#ff1500"/><stop offset="1.0000" stop-color="#ff1400"/></linearGradient><linearGradient id="r108" gradientUnits="userSpaceOnUse" x1="443.0" x2="636.0" y1="0" y2="0"><stop offset="0.0000" stop-color="#00fa90"/><stop offset="0.0570" stop-color="#00f7b1"/><stop offset="0.1244" stop-color="#08f8ae"/><stop offset="0.2539" stop-color="#46f7a3"/><stop offset="0.4197" stop-color="#cdf685"/><stop offset="0.5078" stop-color="#f4ef6c"/><stop offset="0.5803" stop-color="#ffd65e"/><stop offset="0.6632" stop-color="#ff9b1d"/><stop offset="0.7150" stop-color="#ff6e04"/><stop offset="0.7720" stop-color="#f85001"/><stop offset="0.7979" stop-color="#e44103"/><stop offset="0.8394" stop-color="#fe4400"/><stop offset="0.9016" stop-color="#ff3c00"/><stop offset="0.9482" stop-color="#ff3600"/><stop offset="0.9896" stop-color="#ff1500"/><stop offset="1.0000" stop-color="#ff1400"/></linearGradient><linearGradient id="r109" gradientUnits="userSpaceOnUse" x1="443.0" x2="636.0" y1="0" y2="0"><stop offset="0.0000" stop-color="#00fa93"/><stop offset="0.0570" stop-color="#00f6b6"/><stop offset="0.1244" stop-color="#08f8b3"/><stop offset="0.2591" stop-color="#4bf7a8"/><stop offset="0.4197" stop-color="#cff68c"/><stop offset="0.5078" stop-color="#f5ef72"/><stop offset="0.5855" stop-color="#ffd15d"/><stop offset="0.6580" stop-color="#ff9d22"/><stop offset="0.7098" stop-color="#ff6f07"/><stop offset="0.7668" stop-color="#fd5b01"/><stop offset="0.7979" stop-color="#e74103"/><stop offset="0.8187" stop-color="#f04802"/><stop offset="0.8394" stop-color="#fe4900"/><stop offset="0.8756" stop-color="#ff3c00"/><stop offset="0.9430" stop-color="#ff3600"/><stop offset="0.9845" stop-color="#ff1600"/><stop offset="1.0000" stop-color="#ff1400"/></linearGradient><linearGradient id="r110" gradientUnits="userSpaceOnUse" x1="443.0" x2="636.0" y1="0" y2="0"><stop offset="0.0000" stop-color="#00fa98"/><stop offset="0.0674" stop-color="#00f6bc"/><stop offset="0.1244" stop-color="#09f7b9"/><stop offset="0.2642" stop-color="#4ff7ac"/><stop offset="0.4145" stop-color="#cdf794"/><stop offset="0.4922" stop-color="#f2f37f"/><stop offset="0.5492" stop-color="#fbe06b"/><stop offset="0.5855" stop-color="#ffcf5f"/><stop offset="0.6632" stop-color="#ff9521"/><stop offset="0.7098" stop-color="#ff6f09"/><stop offset="0.7668" stop-color="#fe6202"/><stop offset="0.7979" stop-color="#eb4202"/><stop offset="0.8187" stop-color="#ed4a02"/><stop offset="0.8342" stop-color="#fa5001"/><stop offset="0.8653" stop-color="#ff3c00"/><stop offset="0.9378" stop-color="#ff3700"/><stop offset="0.9793" stop-color="#ff1600"/><stop offset="1.0000" stop-color="#ff1400"/></linearGradient><linearGradient id="r111" gradientUnits="userSpaceOnUse" x1="443.0" x2="636.0" y1="0" y2="0"><stop offset="0.0000" stop-color="#00f99f"/><stop offset="0.0725" stop-color="#00f5c1"/><stop offset="0.1295" stop-color="#0cf5bf"/><stop offset="0.2694" stop-color="#53f7b1"/><stop offset="0.4093" stop-color="#cbf79c"/><stop offset="0.4819" stop-color="#f0f48a"/><stop offset="0.5544" stop-color="#fcdd6d"/><stop offset="0.5907" stop-color="#ffca5e"/><stop offset="0.6632" stop-color="#ff9323"/><stop offset="0.7098" stop-color="#ff6e0b"/><stop offset="0.7668" stop-color="#fe6703"/><stop offset="0.8031" stop-color="#eb4102"/><stop offset="0.8238" stop-color="#ee4e02"/><stop offset="0.8394" stop-color="#fb4d00"/><stop offset="0.8653" stop-color="#ff3c00"/><stop offset="0.9326" stop-color="#ff3700"/><stop offset="0.9741" stop-color="#ff1600"/><stop offset="1.0000" stop-color="#ff1400"/></linearGradient><linearGradient id="r112" gradientUnits="userSpaceOnUse" x1="443.0" x2="636.0" y1="0" y2="0"><stop offset="0.0000" stop-color="#00f7aa"/><stop offset="0.0777" stop-color="#00f4c6"/><stop offset="0.1295" stop-color="#0cf4c4"/><stop offset="0.2694" stop-color="#54f7b6"/><stop offset="0.4093" stop-color="#ccf8a3"/><stop offset="0.4819" stop-color="#f1f592"/><stop offset="0.5544" stop-color="#fcdc70"/><stop offset="0.5907" stop-color="#ffc960"/><stop offset="0.6632" stop-color="#ff9126"/><stop offset="0.7098" stop-color="#ff6d0e"/><stop offset="0.7668" stop-color="#ff6904"/><stop offset="0.8031" stop-color="#ef4202"/><stop offset="0.8238" stop-color="#ec4b02"/><stop offset="0.8446" stop-color="#fb4600"/><stop offset="0.8808" stop-color="#ff3c00"/><stop offset="0.9326" stop-color="#ff3400"/><stop offset="0.9689" stop-color="#ff1600"/><stop offset="1.0000" stop-color="#ff1400"/></linearGradient><linearGradient id="r113" gradientUnits="userSpaceOnUse" x1="443.0" x2="636.0" y1="0" y2="0"><stop offset="0.0000" stop-color="#00f4b7"/><stop offset="0.0933" stop-color="#00f3cb"/><stop offset="0.2539" stop-color="#4af6c0"/><stop offset="0.3316" stop-color="#8bf8b7"/><stop offset="0.4301" stop-color="#dcf8a7"/><stop offset="0.5130" stop-color="#f8ee8b"/><stop offset="0.5544" stop-color="#fcdb73"/><stop offset="0.5907" stop-color="#ffc762"/><stop offset="0.6736" stop-color="#ff8522"/><stop offset="0.7150" stop-color="#ff6c0f"/><stop offset="0.7668" stop-color="#ff6906"/><stop offset="0.8031" stop-color="#f44302"/><stop offset="0.8238" stop-color="#eb4502"/><stop offset="0.8653" stop-color="#ff3c00"/><stop offset="0.9275" stop-color="#ff3500"/><stop offset="0.9637" stop-color="#ff1600"/><stop offset="1.0000" stop-color="#ff1400"/></linearGradient><linearGradient id="r114" gradientUnits="userSpaceOnUse" x1="443.0" x2="636.0" y1="0" y2="0"><stop offset="0.0000" stop-color="#00f0c7"/><stop offset="0.1140" stop-color="#05f2d0"/><stop offset="0.2642" stop-color="#52f6c3"/><stop offset="0.3316" stop-color="#8cf8bd"/><stop offset="0.4197" stop-color="#d6f9b0"/><stop offset="0.4974" stop-color="#f6f39c"/><stop offset="0.5544" stop-color="#fcda76"/><stop offset="0.5959" stop-color="#ffc260"/><stop offset="0.6736" stop-color="#ff8325"/><stop offset="0.7150" stop-color="#ff6b12"/><stop offset="0.7720" stop-color="#ff6307"/><stop offset="0.8083" stop-color="#f44102"/><stop offset="0.8290" stop-color="#ec4102"/><stop offset="0.8705" stop-color="#ff3c00"/><stop offset="0.9223" stop-color="#ff3500"/><stop offset="0.9585" stop-color="#ff1600"/><stop offset="1.0000" stop-color="#ff1400"/></linearGradient><linearGradient id="r115" gradientUnits="userSpaceOnUse" x1="443.0" x2="636.0" y1="0" y2="0"><stop offset="0.0000" stop-color="#00ebd8"/><stop offset="0.1140" stop-color="#05f1d5"/><stop offset="0.2642" stop-color="#52f6c9"/><stop offset="0.3316" stop-color="#8cf8c2"/><stop offset="0.4145" stop-color="#d4fab8"/><stop offset="0.4870" stop-color="#f4f5a7"/><stop offset="0.5337" stop-color="#fbe387"/><stop offset="0.6010" stop-color="#ffbc5e"/><stop offset="0.6736" stop-color="#ff8227"/><stop offset="0.7150" stop-color="#ff6a15"/><stop offset="0.7772" stop-color="#ff5d07"/><stop offset="0.8187" stop-color="#f03d02"/><stop offset="0.8394" stop-color="#f03c02"/><stop offset="0.8756" stop-color="#ff3c00"/><stop offset="0.9171" stop-color="#ff3500"/><stop offset="0.9585" stop-color="#ff1500"/><stop offset="1.0000" stop-color="#ff1400"/></linearGradient><linearGradient id="r116" gradientUnits="userSpaceOnUse" x1="443.0" x2="636.0" y1="0" y2="0"><stop offset="0.0000" stop-color="#00e7e7"/><stop offset="0.0829" stop-color="#00efda"/><stop offset="0.1295" stop-color="#0df0da"/><stop offset="0.2642" stop-color="#53f5d0"/><stop offset="0.3316" stop-color="#8df9c8"/><stop offset="0.4041" stop-color="#cefac0"/><stop offset="0.4715" stop-color="#f1f8b4"/><stop offset="0.5181" stop-color="#fbec9d"/><stop offset="0.5648" stop-color="#fed47a"/><stop offset="0.6788" stop-color="#ff7c27"/><stop offset="0.7202" stop-color="#ff6916"/><stop offset="0.7979" stop-color="#fe4f03"/><stop offset="0.8290" stop-color="#ee3902"/><stop offset="0.8860" stop-color="#ff3c00"/><stop offset="0.9171" stop-color="#ff3100"/><stop offset="0.9534" stop-color="#ff1500"/><stop offset="1.0000" stop-color="#ff1400"/></linearGradient><linearGradient id="r117" gradientUnits="userSpaceOnUse" x1="443.0" x2="636.0" y1="0" y2="0"><stop offset="0.0000" stop-color="#00e4f0"/><stop offset="0.0777" stop-color="#00edde"/><stop offset="0.1244" stop-color="#0aeee0"/><stop offset="0.2591" stop-color="#50f4d7"/><stop offset="0.3264" stop-color="#88f8cc"/><stop offset="0.3990" stop-color="#cbfbc8"/><stop offset="0.4663" stop-color="#f0f9bd"/><stop offset="0.5181" stop-color="#fbeda4"/><stop offset="0.5751" stop-color="#ffce77"/><stop offset="0.6684" stop-color="#ff842f"/><stop offset="0.7150" stop-color="#ff671a"/><stop offset="0.8083" stop-color="#fc4703"/><stop offset="0.8394" stop-color="#ee3602"/><stop offset="0.8860" stop-color="#ff3c00"/><stop offset="0.9171" stop-color="#ff2c00"/><stop offset="0.9482" stop-color="#ff1500"/><stop offset="1.0000" stop-color="#ff1300"/></linearGradient><linearGradient id="r118" gradientUnits="userSpaceOnUse" x1="443.0" x2="636.0" y1="0" y2="0"><stop offset="0.0000" stop-color="#00e2f6"/><stop offset="0.0466" stop-color="#00e6eb"/><stop offset="0.0829" stop-color="#00ece3"/><stop offset="0.1295" stop-color="#0dede4"/><stop offset="0.2591" stop-color="#51f3dd"/><stop offset="0.3264" stop-color="#88f9d1"/><stop offset="0.3938" stop-color="#c9fbd0"/><stop offset="0.4663" stop-color="#f1f9c4"/><stop offset="0.5181" stop-color="#fcedac"/><stop offset="0.6114" stop-color="#ffb05b"/><stop offset="0.6839" stop-color="#ff7629"/><stop offset="0.7824" stop-color="#ff4d0c"/><stop offset="0.8135" stop-color="#fc4303"/><stop offset="0.8446" stop-color="#ef3502"/><stop offset="0.8912" stop-color="#ff3b00"/><stop offset="0.9430" stop-color="#ff1500"/><stop offset="1.0000" stop-color="#ff1200"/></linearGradient><linearGradient id="r119" gradientUnits="userSpaceOnUse" x1="443.0" x2="636.0" y1="0" y2="0"><stop offset="0.0000" stop-color="#00e1f9"/><stop offset="0.0466" stop-color="#00e4f0"/><stop offset="0.0829" stop-color="#00eae8"/><stop offset="0.1295" stop-color="#0debe9"/><stop offset="0.2591" stop-color="#51f2e2"/><stop offset="0.3264" stop-color="#89f8d6"/><stop offset="0.3938" stop-color="#cbfcd6"/><stop offset="0.4663" stop-color="#f2f9cb"/><stop offset="0.5181" stop-color="#fcedb2"/><stop offset="0.6166" stop-color="#ffaa59"/><stop offset="0.6943" stop-color="#ff6e26"/><stop offset="0.7824" stop-color="#ff480d"/><stop offset="0.8135" stop-color="#fe4303"/><stop offset="0.8446" stop-color="#f03302"/><stop offset="0.8912" stop-color="#ff3900"/><stop offset="0.9378" stop-color="#ff1500"/><stop offset="1.0000" stop-color="#ff1100"/></linearGradient><linearGradient id="r120" gradientUnits="userSpaceOnUse" x1="443.0" x2="636.0" y1="0" y2="0"><stop offset="0.0000" stop-color="#00e1fa"/><stop offset="0.0518" stop-color="#00e4f0"/><stop offset="0.1192" stop-color="#08eaec"/><stop offset="0.2591" stop-color="#51f1e6"/><stop offset="0.3264" stop-color="#89f8da"/><stop offset="0.3938" stop-color="#ccfcdc"/><stop offset="0.4663" stop-color="#f3fad0"/><stop offset="0.5181" stop-color="#fdedb8"/><stop offset="0.6166" stop-color="#ffa85b"/><stop offset="0.6943" stop-color="#ff6c28"/><stop offset="0.7772" stop-color="#ff4211"/><stop offset="0.8187" stop-color="#fd4003"/><stop offset="0.8497" stop-color="#f13202"/><stop offset="0.8912" stop-color="#ff3700"/><stop offset="0.9326" stop-color="#ff1600"/><stop offset="1.0000" stop-color="#ff0e00"/></linearGradient><linearGradient id="r121" gradientUnits="userSpaceOnUse" x1="443.0" x2="636.0" y1="0" y2="0"><stop offset="0.0000" stop-color="#00e1fa"/><stop offset="0.1140" stop-color="#05e7ef"/><stop offset="0.2591" stop-color="#51efe8"/><stop offset="0.3264" stop-color="#8af8de"/><stop offset="0.3886" stop-color="#cafce1"/><stop offset="0.4611" stop-color="#f3fbd7"/><stop offset="0.5181" stop-color="#fdecbd"/><stop offset="0.6166" stop-color="#ffa65d"/><stop offset="0.6943" stop-color="#ff692a"/><stop offset="0.7772" stop-color="#ff3e12"/><stop offset="0.8238" stop-color="#fd3c03"/><stop offset="0.8549" stop-color="#f23102"/><stop offset="0.8860" stop-color="#fd3600"/><stop offset="0.9275" stop-color="#ff1600"/><stop offset="1.0000" stop-color="#ff0c00"/></linearGradient><linearGradient id="r122" gradientUnits="userSpaceOnUse" x1="443.0" x2="636.0" y1="0" y2="0"><stop offset="0.0000" stop-color="#00e1fa"/><stop offset="0.1140" stop-color="#05e5f0"/><stop offset="0.2591" stop-color="#51edea"/><stop offset="0.3264" stop-color="#8bf7e1"/><stop offset="0.3886" stop-color="#ccfce4"/><stop offset="0.4611" stop-color="#f4fbda"/><stop offset="0.5181" stop-color="#fdecc1"/><stop offset="0.6114" stop-color="#ffa863"/><stop offset="0.6839" stop-color="#ff6e30"/><stop offset="0.7772" stop-color="#ff3a12"/><stop offset="0.8290" stop-color="#fd3903"/><stop offset="0.8601" stop-color="#f33002"/><stop offset="0.8860" stop-color="#fd3200"/><stop offset="0.9275" stop-color="#ff1500"/><stop offset="0.9948" stop-color="#ff0c00"/><stop offset="1.0000" stop-color="#ff0900"/></linearGradient><linearGradient id="r123" gradientUnits="userSpaceOnUse" x1="443.0" x2="636.0" y1="0" y2="0"><stop offset="0.0000" stop-color="#00e1fa"/><stop offset="0.1140" stop-color="#05e3f1"/><stop offset="0.2591" stop-color="#50ebec"/><stop offset="0.3264" stop-color="#8cf7e4"/><stop offset="0.3834" stop-color="#cbfce8"/><stop offset="0.4611" stop-color="#f5fbde"/><stop offset="0.5181" stop-color="#feebc4"/><stop offset="0.6114" stop-color="#ffa665"/><stop offset="0.6839" stop-color="#ff6c31"/><stop offset="0.7720" stop-color="#ff3815"/><stop offset="0.8342" stop-color="#fd3602"/><stop offset="0.8653" stop-color="#f42e02"/><stop offset="0.8912" stop-color="#fd2900"/><stop offset="0.9223" stop-color="#ff1500"/><stop offset="0.9896" stop-color="#ff0c00"/><stop offset="1.0000" stop-color="#ff0600"/></linearGradient><linearGradient id="r124" gradientUnits="userSpaceOnUse" x1="443.0" x2="636.0" y1="0" y2="0"><stop offset="0.0000" stop-color="#00e1fa"/><stop offset="0.1140" stop-color="#05e0f2"/><stop offset="0.2591" stop-color="#50e9ed"/><stop offset="0.3264" stop-color="#8ef6e7"/><stop offset="0.3834" stop-color="#cdfcea"/><stop offset="0.4663" stop-color="#f8fadf"/><stop offset="0.5181" stop-color="#feeac7"/><stop offset="0.6062" stop-color="#ffa76c"/><stop offset="0.6788" stop-color="#ff6d35"/><stop offset="0.7720" stop-color="#ff3615"/><stop offset="0.8394" stop-color="#fd3202"/><stop offset="0.8756" stop-color="#f62c02"/><stop offset="0.9223" stop-color="#ff1400"/><stop offset="0.9845" stop-color="#ff0c00"/><stop offset="1.0000" stop-color="#ff0400"/></linearGradient><linearGradient id="r125" gradientUnits="userSpaceOnUse" x1="443.0" x2="636.0" y1="0" y2="0"><stop offset="0.0000" stop-color="#00e1fa"/><stop offset="0.1140" stop-color="#05ddf2"/><stop offset="0.2591" stop-color="#4fe7ee"/><stop offset="0.3316" stop-color="#95f6ea"/><stop offset="0.3834" stop-color="#d0fced"/><stop offset="0.4663" stop-color="#f9fbe2"/><stop offset="0.5181" stop-color="#feeaca"/><stop offset="0.6062" stop-color="#ffa56e"/><stop offset="0.6788" stop-color="#ff6a36"/><stop offset="0.7668" stop-color="#ff3417"/><stop offset="0.8446" stop-color="#fd2e02"/><stop offset="0.8860" stop-color="#f92401"/><stop offset="0.9223" stop-color="#ff1400"/><stop offset="0.9793" stop-color="#ff0c00"/><stop offset="1.0000" stop-color="#ff0300"/></linearGradient><linearGradient id="r126" gradientUnits="userSpaceOnUse" x1="443.0" x2="636.0" y1="0" y2="0"><stop offset="0.0000" stop-color="#00e1fa"/><stop offset="0.1140" stop-color="#05dbf3"/><stop offset="0.2591" stop-color="#4ee4ef"/><stop offset="0.3368" stop-color="#9df6ed"/><stop offset="0.3834" stop-color="#d3fcef"/><stop offset="0.4663" stop-color="#fbfbe5"/><stop offset="0.5181" stop-color="#fee9cd"/><stop offset="0.6062" stop-color="#ffa370"/><stop offset="0.6788" stop-color="#ff6737"/><stop offset="0.7668" stop-color="#ff3217"/><stop offset="0.8497" stop-color="#fd2a02"/><stop offset="0.8912" stop-color="#f91d01"/><stop offset="0.9793" stop-color="#ff0900"/><stop offset="1.0000" stop-color="#ff0200"/></linearGradient><linearGradient id="r127" gradientUnits="userSpaceOnUse" x1="443.0" x2="636.0" y1="0" y2="0"><stop offset="0.0000" stop-color="#00e1fa"/><stop offset="0.1140" stop-color="#05d8f3"/><stop offset="0.2591" stop-color="#4ee2f0"/><stop offset="0.3368" stop-color="#9ff5ef"/><stop offset="0.3834" stop-color="#d6fcf1"/><stop offset="0.4663" stop-color="#fcfbe7"/><stop offset="0.5181" stop-color="#fee9d0"/><stop offset="0.6062" stop-color="#ffa172"/><stop offset="0.6788" stop-color="#ff6438"/><stop offset="0.7668" stop-color="#ff3017"/><stop offset="0.8653" stop-color="#fa2402"/><stop offset="0.9326" stop-color="#ff1400"/><stop offset="1.0000" stop-color="#ff0100"/></linearGradient><linearGradient id="r128" gradientUnits="userSpaceOnUse" x1="443.0" x2="636.0" y1="0" y2="0"><stop offset="0.0000" stop-color="#00e1fa"/><stop offset="0.0570" stop-color="#00dafa"/><stop offset="0.1140" stop-color="#05d5f3"/><stop offset="0.2435" stop-color="#43def4"/><stop offset="0.3161" stop-color="#87f2f0"/><stop offset="0.3782" stop-color="#d5fcf4"/><stop offset="0.4663" stop-color="#fdfaea"/><stop offset="0.5181" stop-color="#fee8d2"/><stop offset="0.6062" stop-color="#ff9f75"/><stop offset="0.6736" stop-color="#ff653c"/><stop offset="0.7565" stop-color="#ff311a"/><stop offset="0.8653" stop-color="#fb2101"/><stop offset="0.9119" stop-color="#fe1500"/><stop offset="0.9689" stop-color="#ff0900"/><stop offset="1.0000" stop-color="#fe0101"/></linearGradient><linearGradient id="r129" gradientUnits="userSpaceOnUse" x1="443.0" x2="636.0" y1="0" y2="0"><stop offset="0.0000" stop-color="#00e1fa"/><stop offset="0.0518" stop-color="#00dcfa"/><stop offset="0.0829" stop-color="#00d0f7"/><stop offset="0.1710" stop-color="#1ad3f4"/><stop offset="0.2694" stop-color="#57e2f2"/><stop offset="0.3420" stop-color="#aaf5f5"/><stop offset="0.3834" stop-color="#dbfcf6"/><stop offset="0.4663" stop-color="#fdfaed"/><stop offset="0.5181" stop-color="#fee8d5"/><stop offset="0.6114" stop-color="#ff9872"/><stop offset="0.6788" stop-color="#ff5e3a"/><stop offset="0.7617" stop-color="#ff2d19"/><stop offset="0.8705" stop-color="#fb1e02"/><stop offset="0.9637" stop-color="#ff0900"/><stop offset="1.0000" stop-color="#fe0101"/></linearGradient><linearGradient id="r130" gradientUnits="userSpaceOnUse" x1="443.0" x2="636.0" y1="0" y2="0"><stop offset="0.0000" stop-color="#00e1fa"/><stop offset="0.0518" stop-color="#00dbfa"/><stop offset="0.0829" stop-color="#00ccf8"/><stop offset="0.1762" stop-color="#1bd0f4"/><stop offset="0.2642" stop-color="#52dff4"/><stop offset="0.3368" stop-color="#a5f4f7"/><stop offset="0.3782" stop-color="#dafbf8"/><stop offset="0.4611" stop-color="#fefbf1"/><stop offset="0.5181" stop-color="#ffe7d8"/><stop offset="0.6114" stop-color="#ff9674"/><stop offset="0.6736" stop-color="#ff5f3f"/><stop offset="0.7513" stop-color="#ff2f1c"/><stop offset="0.8549" stop-color="#fd1a02"/><stop offset="0.9223" stop-color="#fe1400"/><stop offset="0.9948" stop-color="#fe0101"/><stop offset="1.0000" stop-color="#fd0202"/></linearGradient><linearGradient id="r131" gradientUnits="userSpaceOnUse" x1="443.0" x2="636.0" y1="0" y2="0"><stop offset="0.0000" stop-color="#00e1fa"/><stop offset="0.0518" stop-color="#00dafa"/><stop offset="0.0777" stop-color="#00c7f9"/><stop offset="0.1606" stop-color="#13cdf4"/><stop offset="0.2591" stop-color="#4edbf6"/><stop offset="0.3316" stop-color="#a0f2f8"/><stop offset="0.3782" stop-color="#ddfbfa"/><stop offset="0.4611" stop-color="#fefaf3"/><stop offset="0.5181" stop-color="#ffe7da"/><stop offset="0.6166" stop-color="#ff8e71"/><stop offset="0.6839" stop-color="#ff543a"/><stop offset="0.7668" stop-color="#ff2617"/><stop offset="0.8549" stop-color="#fc1503"/><stop offset="0.9378" stop-color="#ff1000"/><stop offset="0.9896" stop-color="#fe0101"/><stop offset="1.0000" stop-color="#fd0202"/></linearGradient><linearGradient id="r132" gradientUnits="userSpaceOnUse" x1="443.0" x2="636.0" y1="0" y2="0"><stop offset="0.0000" stop-color="#00e1fa"/><stop offset="0.0466" stop-color="#00ddfa"/><stop offset="0.0777" stop-color="#00c3f9"/><stop offset="0.1658" stop-color="#13c9f5"/><stop offset="0.2591" stop-color="#4dd8f8"/><stop offset="0.3316" stop-color="#a1f0fa"/><stop offset="0.3782" stop-color="#defafc"/><stop offset="0.4611" stop-color="#fef9f6"/><stop offset="0.5181" stop-color="#ffe6dc"/><stop offset="0.6218" stop-color="#ff866d"/><stop offset="0.6943" stop-color="#ff4834"/><stop offset="0.7927" stop-color="#fe1d0f"/><stop offset="0.8549" stop-color="#fc1103"/><stop offset="0.9275" stop-color="#fe1200"/><stop offset="0.9845" stop-color="#fe0101"/><stop offset="1.0000" stop-color="#fc0303"/></linearGradient><linearGradient id="r133" gradientUnits="userSpaceOnUse" x1="443.0" x2="636.0" y1="0" y2="0"><stop offset="0.0000" stop-color="#00e1fa"/><stop offset="0.0466" stop-color="#00dbf9"/><stop offset="0.0777" stop-color="#00bef9"/><stop offset="0.1658" stop-color="#12c6f5"/><stop offset="0.2539" stop-color="#48d3f9"/><stop offset="0.3264" stop-color="#9aedfb"/><stop offset="0.3782" stop-color="#def8fd"/><stop offset="0.4611" stop-color="#fff8f7"/><stop offset="0.5181" stop-color="#ffe4de"/><stop offset="0.6218" stop-color="#ff836f"/><stop offset="0.6891" stop-color="#ff4939"/><stop offset="0.8031" stop-color="#fd160d"/><stop offset="0.8549" stop-color="#fc0e03"/><stop offset="0.9223" stop-color="#fc1201"/><stop offset="0.9793" stop-color="#fe0101"/><stop offset="1.0000" stop-color="#fc0303"/></linearGradient><linearGradient id="r134" gradientUnits="userSpaceOnUse" x1="443.0" x2="636.0" y1="0" y2="0"><stop offset="0.0000" stop-color="#00e1fa"/><stop offset="0.0466" stop-color="#00d9f9"/><stop offset="0.0777" stop-color="#00baf9"/><stop offset="0.1658" stop-color="#10c2f6"/><stop offset="0.2539" stop-color="#47d0fa"/><stop offset="0.3264" stop-color="#9ae9fc"/><stop offset="0.3782" stop-color="#ddf5fe"/><stop offset="0.4611" stop-color="#fef6f9"/><stop offset="0.5181" stop-color="#ffe2e0"/><stop offset="0.6166" stop-color="#ff8477"/><stop offset="0.6736" stop-color="#ff5244"/><stop offset="0.7513" stop-color="#ff261c"/><stop offset="0.8446" stop-color="#fb0a05"/><stop offset="0.9223" stop-color="#fc1101"/><stop offset="0.9741" stop-color="#fe0101"/><stop offset="1.0000" stop-color="#fb0404"/></linearGradient><linearGradient id="r135" gradientUnits="userSpaceOnUse" x1="443.0" x2="636.0" y1="0" y2="0"><stop offset="0.0000" stop-color="#00e1fa"/><stop offset="0.0466" stop-color="#00d5f8"/><stop offset="0.0777" stop-color="#00b6f9"/><stop offset="0.1606" stop-color="#0dbef6"/><stop offset="0.2539" stop-color="#45cbfa"/><stop offset="0.3264" stop-color="#99e4fd"/><stop offset="0.3782" stop-color="#dbf2ff"/><stop offset="0.4611" stop-color="#fef4fa"/><stop offset="0.5181" stop-color="#ffe0e1"/><stop offset="0.6166" stop-color="#ff7f78"/><stop offset="0.6684" stop-color="#ff5249"/><stop offset="0.7409" stop-color="#ff2920"/><stop offset="0.8394" stop-color="#fb0806"/><stop offset="0.9223" stop-color="#fb0f01"/><stop offset="0.9689" stop-color="#ff0100"/><stop offset="1.0000" stop-color="#fb0404"/></linearGradient><linearGradient id="r136" gradientUnits="userSpaceOnUse" x1="443.0" x2="636.0" y1="0" y2="0"><stop offset="0.0000" stop-color="#00e0fa"/><stop offset="0.0415" stop-color="#00d4f8"/><stop offset="0.0829" stop-color="#00b0f9"/><stop offset="0.1658" stop-color="#0db9f6"/><stop offset="0.2539" stop-color="#43c6fb"/><stop offset="0.3264" stop-color="#97defe"/><stop offset="0.3782" stop-color="#d8eeff"/><stop offset="0.4611" stop-color="#fef2fb"/><stop offset="0.5181" stop-color="#ffdde2"/><stop offset="0.6166" stop-color="#ff7a79"/><stop offset="0.6684" stop-color="#ff4e49"/><stop offset="0.7461" stop-color="#ff251e"/><stop offset="0.8394" stop-color="#fb0706"/><stop offset="0.9223" stop-color="#fc0e02"/><stop offset="0.9689" stop-color="#fe0101"/><stop offset="1.0000" stop-color="#fb0404"/></linearGradient><linearGradient id="r137" gradientUnits="userSpaceOnUse" x1="443.0" x2="636.0" y1="0" y2="0"><stop offset="0.0000" stop-color="#00defa"/><stop offset="0.0466" stop-color="#00c8f7"/><stop offset="0.0829" stop-color="#00acf9"/><stop offset="0.1658" stop-color="#0cb5f7"/><stop offset="0.2539" stop-color="#41c1fb"/><stop offset="0.3264" stop-color="#95d9fe"/><stop offset="0.3782" stop-color="#d4eaff"/><stop offset="0.4560" stop-color="#fcf1fc"/><stop offset="0.5130" stop-color="#ffdee7"/><stop offset="0.5751" stop-color="#ffa0ab"/><stop offset="0.6528" stop-color="#ff5755"/><stop offset="0.7202" stop-color="#ff2e29"/><stop offset="0.8342" stop-color="#fb0707"/><stop offset="0.9223" stop-color="#fc0c02"/><stop offset="0.9689" stop-color="#fe0101"/><stop offset="1.0000" stop-color="#fa0505"/></linearGradient><linearGradient id="r138" gradientUnits="userSpaceOnUse" x1="443.0" x2="636.0" y1="0" y2="0"><stop offset="0.0000" stop-color="#00d9fa"/><stop offset="0.0881" stop-color="#00a7f9"/><stop offset="0.1710" stop-color="#0cb0f7"/><stop offset="0.2539" stop-color="#3ebcfb"/><stop offset="0.3264" stop-color="#92d3fe"/><stop offset="0.3782" stop-color="#d1e6ff"/><stop offset="0.4560" stop-color="#fbeffc"/><stop offset="0.5130" stop-color="#ffdce8"/><stop offset="0.5699" stop-color="#ffa1b1"/><stop offset="0.6477" stop-color="#ff575a"/><stop offset="0.7150" stop-color="#ff2e2c"/><stop offset="0.8290" stop-color="#fb0608"/><stop offset="0.9223" stop-color="#fc0b02"/><stop offset="0.9741" stop-color="#fd0202"/><stop offset="1.0000" stop-color="#fa0505"/></linearGradient><linearGradient id="r139" gradientUnits="userSpaceOnUse" x1="443.0" x2="636.0" y1="0" y2="0"><stop offset="0.0000" stop-color="#00cefa"/><stop offset="0.0725" stop-color="#00a5f9"/><stop offset="0.1658" stop-color="#08abf8"/><stop offset="0.2539" stop-color="#3cb7fb"/><stop offset="0.3264" stop-color="#90cdfe"/><stop offset="0.3782" stop-color="#cde2ff"/><stop offset="0.4560" stop-color="#faedfc"/><stop offset="0.5130" stop-color="#ffd9e9"/><stop offset="0.5648" stop-color="#ffa2b7"/><stop offset="0.6321" stop-color="#ff5f69"/><stop offset="0.7047" stop-color="#ff2f32"/><stop offset="0.8083" stop-color="#fc090c"/><stop offset="0.9326" stop-color="#fd0702"/><stop offset="1.0000" stop-color="#fa0505"/></linearGradient><linearGradient id="r140" gradientUnits="userSpaceOnUse" x1="443.0" x2="636.0" y1="0" y2="0"><stop offset="0.0000" stop-color="#00befa"/><stop offset="0.0466" stop-color="#009ff8"/><stop offset="0.1658" stop-color="#07a7f8"/><stop offset="0.2539" stop-color="#3ab3fb"/><stop offset="0.3316" stop-color="#94c9ff"/><stop offset="0.3782" stop-color="#c9deff"/><stop offset="0.4508" stop-color="#f8ecfd"/><stop offset="0.5130" stop-color="#ffd6e9"/><stop offset="0.5648" stop-color="#ff9cb8"/><stop offset="0.6269" stop-color="#ff5e70"/><stop offset="0.7047" stop-color="#ff2d32"/><stop offset="0.8083" stop-color="#fc090c"/><stop offset="0.9326" stop-color="#fd0602"/><stop offset="1.0000" stop-color="#fa0505"/></linearGradient><linearGradient id="r141" gradientUnits="userSpaceOnUse" x1="443.0" x2="636.0" y1="0" y2="0"><stop offset="0.0000" stop-color="#00a9fa"/><stop offset="0.0363" stop-color="#0091f9"/><stop offset="0.1658" stop-color="#06a2f8"/><stop offset="0.2487" stop-color="#32adfb"/><stop offset="0.3264" stop-color="#8ac2ff"/><stop offset="0.3782" stop-color="#c6daff"/><stop offset="0.4508" stop-color="#f6eafd"/><stop offset="0.5130" stop-color="#ffd3ea"/><stop offset="0.6062" stop-color="#ff6a89"/><stop offset="0.6632" stop-color="#ff3f50"/><stop offset="0.7461" stop-color="#ff1c1f"/><stop offset="0.8290" stop-color="#fb0608"/><stop offset="0.9326" stop-color="#fd0502"/><stop offset="1.0000" stop-color="#fa0505"/></linearGradient><linearGradient id="r142" gradientUnits="userSpaceOnUse" x1="443.0" x2="636.0" y1="0" y2="0"><stop offset="0.0000" stop-color="#0095fa"/><stop offset="0.0363" stop-color="#0083fa"/><stop offset="0.1036" stop-color="#0095f9"/><stop offset="0.1762" stop-color="#089ef9"/><stop offset="0.2539" stop-color="#35a9fb"/><stop offset="0.3472" stop-color="#a2c7ff"/><stop offset="0.3938" stop-color="#cddaff"/><stop offset="0.4508" stop-color="#f5e8fd"/><stop offset="0.5130" stop-color="#ffd0eb"/><stop offset="0.6010" stop-color="#ff6a90"/><stop offset="0.6580" stop-color="#ff3f55"/><stop offset="0.7409" stop-color="#ff1c21"/><stop offset="0.8290" stop-color="#fb0608"/><stop offset="1.0000" stop-color="#fa0505"/></linearGradient><linearGradient id="r143" gradientUnits="userSpaceOnUse" x1="443.0" x2="636.0" y1="0" y2="0"><stop offset="0.0000" stop-color="#0083fa"/><stop offset="0.0363" stop-color="#0079fa"/><stop offset="0.0933" stop-color="#0090fa"/><stop offset="0.1762" stop-color="#0799f9"/><stop offset="0.2539" stop-color="#33a4fb"/><stop offset="0.3420" stop-color="#98c0ff"/><stop offset="0.3938" stop-color="#cad7ff"/><stop offset="0.4508" stop-color="#f4e6fd"/><stop offset="0.5130" stop-color="#ffccec"/><stop offset="0.5959" stop-color="#ff6998"/><stop offset="0.6580" stop-color="#ff3c55"/><stop offset="0.7409" stop-color="#ff1a22"/><stop offset="0.8290" stop-color="#fb0608"/><stop offset="1.0000" stop-color="#fa0505"/></linearGradient><linearGradient id="r144" gradientUnits="userSpaceOnUse" x1="443.0" x2="636.0" y1="0" y2="0"><stop offset="0.0000" stop-color="#0078fa"/><stop offset="0.0466" stop-color="#0077fa"/><stop offset="0.0933" stop-color="#008cfa"/><stop offset="0.1813" stop-color="#0795fa"/><stop offset="0.2539" stop-color="#31a0fb"/><stop offset="0.3368" stop-color="#8eb8ff"/><stop offset="0.3938" stop-color="#c8d3ff"/><stop offset="0.4508" stop-color="#f2e3fd"/><stop offset="0.5130" stop-color="#ffc8ed"/><stop offset="0.5907" stop-color="#ff699f"/><stop offset="0.6580" stop-color="#ff3956"/><stop offset="0.7409" stop-color="#ff1822"/><stop offset="0.8342" stop-color="#fb0607"/><stop offset="1.0000" stop-color="#fa0505"/></linearGradient><linearGradient id="r145" gradientUnits="userSpaceOnUse" x1="443.0" x2="636.0" y1="0" y2="0"><stop offset="0.0000" stop-color="#0072fa"/><stop offset="0.0570" stop-color="#0077fa"/><stop offset="0.0933" stop-color="#0088fa"/><stop offset="0.1813" stop-color="#0690fa"/><stop offset="0.2539" stop-color="#2f9bfb"/><stop offset="0.3316" stop-color="#83b0ff"/><stop offset="0.3990" stop-color="#cad1ff"/><stop offset="0.4508" stop-color="#f1dffd"/><stop offset="0.5130" stop-color="#fec4ee"/><stop offset="0.5907" stop-color="#fe64a1"/><stop offset="0.6580" stop-color="#ff3656"/><stop offset="0.7409" stop-color="#ff1622"/><stop offset="0.8394" stop-color="#fb0507"/><stop offset="1.0000" stop-color="#fa0505"/></linearGradient><linearGradient id="r146" gradientUnits="userSpaceOnUse" x1="443.0" x2="636.0" y1="0" y2="0"><stop offset="0.0000" stop-color="#006ffa"/><stop offset="0.0622" stop-color="#0077fa"/><stop offset="0.0933" stop-color="#0084fa"/><stop offset="0.1865" stop-color="#078cfa"/><stop offset="0.2539" stop-color="#2d96fb"/><stop offset="0.3316" stop-color="#7faaff"/><stop offset="0.4041" stop-color="#cccfff"/><stop offset="0.4508" stop-color="#efdafe"/><stop offset="0.5130" stop-color="#fdbeef"/><stop offset="0.5855" stop-color="#fe63a9"/><stop offset="0.6632" stop-color="#ff3253"/><stop offset="0.7409" stop-color="#ff1422"/><stop offset="0.8497" stop-color="#fb0507"/><stop offset="1.0000" stop-color="#fa0505"/></linearGradient><linearGradient id="r147" gradientUnits="userSpaceOnUse" x1="443.0" x2="636.0" y1="0" y2="0"><stop offset="0.0000" stop-color="#006efa"/><stop offset="0.0622" stop-color="#0074fa"/><stop offset="0.0984" stop-color="#007ffa"/><stop offset="0.1865" stop-color="#0788fb"/><stop offset="0.2539" stop-color="#2c92fc"/><stop offset="0.3316" stop-color="#7ba4ff"/><stop offset="0.4093" stop-color="#cdcbff"/><stop offset="0.4508" stop-color="#edd4fe"/><stop offset="0.5130" stop-color="#fdb8f1"/><stop offset="0.5855" stop-color="#fd5eac"/><stop offset="0.6580" stop-color="#ff3257"/><stop offset="0.7358" stop-color="#ff1425"/><stop offset="0.8497" stop-color="#fb0508"/><stop offset="1.0000" stop-color="#fa0505"/></linearGradient><linearGradient id="r148" gradientUnits="userSpaceOnUse" x1="443.0" x2="636.0" y1="0" y2="0"><stop offset="0.0000" stop-color="#006efa"/><stop offset="0.0674" stop-color="#0074fa"/><stop offset="0.1036" stop-color="#007afa"/><stop offset="0.1865" stop-color="#0683fb"/><stop offset="0.2539" stop-color="#2b8dfc"/><stop offset="0.3316" stop-color="#779dff"/><stop offset="0.4145" stop-color="#cec6ff"/><stop offset="0.4560" stop-color="#edccfd"/><stop offset="0.5130" stop-color="#fcb2f2"/><stop offset="0.5855" stop-color="#fc59af"/><stop offset="0.6528" stop-color="#ff325d"/><stop offset="0.7306" stop-color="#ff1327"/><stop offset="0.8031" stop-color="#fd0713"/><stop offset="0.8808" stop-color="#fb040a"/><stop offset="1.0000" stop-color="#fa0505"/></linearGradient><linearGradient id="r149" gradientUnits="userSpaceOnUse" x1="443.0" x2="636.0" y1="0" y2="0"><stop offset="0.0000" stop-color="#006efa"/><stop offset="0.0725" stop-color="#0074fa"/><stop offset="0.1865" stop-color="#067efb"/><stop offset="0.2539" stop-color="#2a88fc"/><stop offset="0.3316" stop-color="#7396ff"/><stop offset="0.4197" stop-color="#cfc0ff"/><stop offset="0.4611" stop-color="#edc2fd"/><stop offset="0.5181" stop-color="#fba5f1"/><stop offset="0.5855" stop-color="#fb53b3"/><stop offset="0.6477" stop-color="#ff3263"/><stop offset="0.7254" stop-color="#ff132a"/><stop offset="0.7876" stop-color="#fe0717"/><stop offset="0.8653" stop-color="#fc030c"/><stop offset="1.0000" stop-color="#fa0505"/></linearGradient><linearGradient id="r150" gradientUnits="userSpaceOnUse" x1="443.0" x2="636.0" y1="0" y2="0"><stop offset="0.0000" stop-color="#006efa"/><stop offset="0.1036" stop-color="#0071fa"/><stop offset="0.1865" stop-color="#067afc"/><stop offset="0.2539" stop-color="#2984fd"/><stop offset="0.3316" stop-color="#6f8fff"/><stop offset="0.4249" stop-color="#d0baff"/><stop offset="0.4663" stop-color="#edb8fc"/><stop offset="0.5181" stop-color="#fa9ef2"/><stop offset="0.5751" stop-color="#fa58c2"/><stop offset="0.6321" stop-color="#fd3478"/><stop offset="0.6839" stop-color="#ff2243"/><stop offset="0.7668" stop-color="#ff0819"/><stop offset="0.8342" stop-color="#fb040e"/><stop offset="1.0000" stop-color="#fa0505"/></linearGradient><linearGradient id="r151" gradientUnits="userSpaceOnUse" x1="443.0" x2="636.0" y1="0" y2="0"><stop offset="0.0000" stop-color="#006efa"/><stop offset="0.1036" stop-color="#006dfa"/><stop offset="0.1865" stop-color="#0675fc"/><stop offset="0.2539" stop-color="#287ffd"/><stop offset="0.3316" stop-color="#6b88ff"/><stop offset="0.4352" stop-color="#d5b4ff"/><stop offset="0.4922" stop-color="#f5a7f9"/><stop offset="0.5337" stop-color="#f987eb"/><stop offset="0.5907" stop-color="#f945b4"/><stop offset="0.6632" stop-color="#ff2855"/><stop offset="0.7306" stop-color="#ff0f27"/><stop offset="0.7824" stop-color="#ff061a"/><stop offset="0.8601" stop-color="#fc020e"/><stop offset="1.0000" stop-color="#fa0505"/></linearGradient><linearGradient id="r152" gradientUnits="userSpaceOnUse" x1="443.0" x2="636.0" y1="0" y2="0"><stop offset="0.0000" stop-color="#006efa"/><stop offset="0.0984" stop-color="#006afa"/><stop offset="0.1865" stop-color="#0670fc"/><stop offset="0.2487" stop-color="#237afd"/><stop offset="0.3316" stop-color="#6781ff"/><stop offset="0.4404" stop-color="#d6adff"/><stop offset="0.4974" stop-color="#f59cf9"/><stop offset="0.5440" stop-color="#f874e7"/><stop offset="0.5907" stop-color="#f840b8"/><stop offset="0.6632" stop-color="#ff2656"/><stop offset="0.7254" stop-color="#ff0f2a"/><stop offset="0.7772" stop-color="#ff0619"/><stop offset="0.8187" stop-color="#fd0418"/><stop offset="0.8549" stop-color="#fc020e"/><stop offset="0.9326" stop-color="#ff000b"/><stop offset="1.0000" stop-color="#fa0505"/></linearGradient><linearGradient id="r153" gradientUnits="userSpaceOnUse" x1="443.0" x2="636.0" y1="0" y2="0"><stop offset="0.0000" stop-color="#006efa"/><stop offset="0.0933" stop-color="#0068fa"/><stop offset="0.1399" stop-color="#0065fb"/><stop offset="0.2021" stop-color="#0c6efd"/><stop offset="0.2539" stop-color="#2675fe"/><stop offset="0.3316" stop-color="#647aff"/><stop offset="0.4456" stop-color="#d6a4fe"/><stop offset="0.5026" stop-color="#f592f8"/><stop offset="0.5544" stop-color="#f660e2"/><stop offset="0.5959" stop-color="#f738b4"/><stop offset="0.6580" stop-color="#ff255d"/><stop offset="0.7202" stop-color="#ff0f2c"/><stop offset="0.7772" stop-color="#ff051a"/><stop offset="0.8187" stop-color="#fd0319"/><stop offset="0.8549" stop-color="#fc020f"/><stop offset="0.9171" stop-color="#ff000e"/><stop offset="1.0000" stop-color="#fa0505"/></linearGradient><linearGradient id="r154" gradientUnits="userSpaceOnUse" x1="443.0" x2="636.0" y1="0" y2="0"><stop offset="0.0000" stop-color="#006efa"/><stop offset="0.0881" stop-color="#0067fa"/><stop offset="0.1295" stop-color="#005ffa"/><stop offset="0.1969" stop-color="#0a69fd"/><stop offset="0.2539" stop-color="#2570fe"/><stop offset="0.3316" stop-color="#6074ff"/><stop offset="0.4456" stop-color="#d39cfe"/><stop offset="0.5026" stop-color="#f389f8"/><stop offset="0.5596" stop-color="#f554e0"/><stop offset="0.5959" stop-color="#f733b7"/><stop offset="0.6580" stop-color="#ff235f"/><stop offset="0.7202" stop-color="#ff0d2c"/><stop offset="0.7772" stop-color="#ff041a"/><stop offset="0.8135" stop-color="#fd031e"/><stop offset="0.8497" stop-color="#fc020f"/><stop offset="0.9067" stop-color="#ff0012"/><stop offset="1.0000" stop-color="#fa0505"/></linearGradient><linearGradient id="r155" gradientUnits="userSpaceOnUse" x1="443.0" x2="636.0" y1="0" y2="0"><stop offset="0.0000" stop-color="#006efa"/><stop offset="0.0829" stop-color="#0067fb"/><stop offset="0.1244" stop-color="#0059fa"/><stop offset="0.1969" stop-color="#0964fe"/><stop offset="0.2539" stop-color="#246bfe"/><stop offset="0.3316" stop-color="#5d6eff"/><stop offset="0.4456" stop-color="#cf93fe"/><stop offset="0.5078" stop-color="#f37ef8"/><stop offset="0.5648" stop-color="#f448df"/><stop offset="0.6010" stop-color="#f72eb2"/><stop offset="0.6580" stop-color="#ff2160"/><stop offset="0.7150" stop-color="#ff0e2f"/><stop offset="0.7720" stop-color="#ff0419"/><stop offset="0.8135" stop-color="#fd031f"/><stop offset="0.8497" stop-color="#fc0110"/><stop offset="0.9067" stop-color="#ff0014"/><stop offset="1.0000" stop-color="#fa0505"/></linearGradient><linearGradient id="r156" gradientUnits="userSpaceOnUse" x1="443.0" x2="636.0" y1="0" y2="0"><stop offset="0.0000" stop-color="#006efa"/><stop offset="0.0777" stop-color="#0065fa"/><stop offset="0.1192" stop-color="#0054fa"/><stop offset="0.1969" stop-color="#095ffe"/><stop offset="0.2591" stop-color="#2666ff"/><stop offset="0.3264" stop-color="#5566ff"/><stop offset="0.4508" stop-color="#cf8afe"/><stop offset="0.5078" stop-color="#f176f8"/><stop offset="0.5699" stop-color="#f33cdd"/><stop offset="0.6114" stop-color="#f929a4"/><stop offset="0.6580" stop-color="#ff1f62"/><stop offset="0.7150" stop-color="#ff0c30"/><stop offset="0.7720" stop-color="#ff031a"/><stop offset="0.8135" stop-color="#fd0221"/><stop offset="0.8497" stop-color="#fc0111"/><stop offset="0.9067" stop-color="#ff0015"/><stop offset="0.9689" stop-color="#fe0109"/><stop offset="1.0000" stop-color="#fb0406"/></linearGradient><linearGradient id="r157" gradientUnits="userSpaceOnUse" x1="443.0" x2="636.0" y1="0" y2="0"><stop offset="0.0000" stop-color="#006efa"/><stop offset="0.0674" stop-color="#0066fa"/><stop offset="0.1192" stop-color="#0050fb"/><stop offset="0.2021" stop-color="#0a5cfe"/><stop offset="0.2694" stop-color="#2b60ff"/><stop offset="0.3316" stop-color="#5762ff"/><stop offset="0.4508" stop-color="#cb82fe"/><stop offset="0.5078" stop-color="#ef6ff8"/><stop offset="0.5699" stop-color="#f237e0"/><stop offset="0.6166" stop-color="#fa269e"/><stop offset="0.6632" stop-color="#ff1b5f"/><stop offset="0.7202" stop-color="#ff0a2e"/><stop offset="0.7772" stop-color="#ff021c"/><stop offset="0.8083" stop-color="#fe0224"/><stop offset="0.8497" stop-color="#fc0113"/><stop offset="0.9119" stop-color="#ff0014"/><stop offset="0.9689" stop-color="#ff000a"/><stop offset="1.0000" stop-color="#fb0406"/></linearGradient><linearGradient id="r158" gradientUnits="userSpaceOnUse" x1="443.0" x2="636.0" y1="0" y2="0"><stop offset="0.0000" stop-color="#006efa"/><stop offset="0.0622" stop-color="#0063fa"/><stop offset="0.1244" stop-color="#004cfb"/><stop offset="0.2021" stop-color="#0958ff"/><stop offset="0.2746" stop-color="#2c5aff"/><stop offset="0.3316" stop-color="#545cff"/><stop offset="0.4508" stop-color="#c77bfe"/><stop offset="0.5130" stop-color="#ee64f8"/><stop offset="0.5751" stop-color="#f12fde"/><stop offset="0.6580" stop-color="#ff1a67"/><stop offset="0.7150" stop-color="#ff0a33"/><stop offset="0.7772" stop-color="#ff021c"/><stop offset="0.8083" stop-color="#fe0226"/><stop offset="0.8497" stop-color="#fd0114"/><stop offset="0.9171" stop-color="#ff0013"/><stop offset="1.0000" stop-color="#fb0406"/></linearGradient><linearGradient id="r159" gradientUnits="userSpaceOnUse" x1="443.0" x2="636.0" y1="0" y2="0"><stop offset="0.0000" stop-color="#006efa"/><stop offset="0.0518" stop-color="#0064fa"/><stop offset="0.1192" stop-color="#0048fb"/><stop offset="0.2021" stop-color="#0954ff"/><stop offset="0.2850" stop-color="#3054ff"/><stop offset="0.3472" stop-color="#5e5cff"/><stop offset="0.4560" stop-color="#c773fe"/><stop offset="0.5130" stop-color="#ec5df8"/><stop offset="0.5751" stop-color="#f02be0"/><stop offset="0.6580" stop-color="#ff196b"/><stop offset="0.7150" stop-color="#ff0936"/><stop offset="0.7772" stop-color="#ff011e"/><stop offset="0.8083" stop-color="#fe0127"/><stop offset="0.8497" stop-color="#fd0215"/><stop offset="0.9171" stop-color="#ff0015"/><stop offset="0.9741" stop-color="#ff000a"/><stop offset="1.0000" stop-color="#fc0307"/></linearGradient><linearGradient id="r160" gradientUnits="userSpaceOnUse" x1="443.0" x2="636.0" y1="0" y2="0"><stop offset="0.0000" stop-color="#006efa"/><stop offset="0.0466" stop-color="#0062fa"/><stop offset="0.0881" stop-color="#004dfb"/><stop offset="0.1347" stop-color="#0046fc"/><stop offset="0.2176" stop-color="#0d52ff"/><stop offset="0.3264" stop-color="#4951ff"/><stop offset="0.4249" stop-color="#a069ff"/><stop offset="0.4767" stop-color="#d567fd"/><stop offset="0.5181" stop-color="#ea54f7"/><stop offset="0.5803" stop-color="#f127de"/><stop offset="0.6580" stop-color="#fe176f"/><stop offset="0.7150" stop-color="#ff083a"/><stop offset="0.7772" stop-color="#ff0120"/><stop offset="0.8135" stop-color="#fe0125"/><stop offset="0.8549" stop-color="#fd0115"/><stop offset="0.9171" stop-color="#ff0015"/><stop offset="0.9689" stop-color="#ff000a"/><stop offset="1.0000" stop-color="#fc0307"/></linearGradient><linearGradient id="r161" gradientUnits="userSpaceOnUse" x1="443.0" x2="636.0" y1="0" y2="0"><stop offset="0.0000" stop-color="#006dfa"/><stop offset="0.0466" stop-color="#005bfa"/><stop offset="0.0829" stop-color="#004afb"/><stop offset="0.1347" stop-color="#0043fc"/><stop offset="0.2176" stop-color="#0d4fff"/><stop offset="0.3264" stop-color="#464dff"/><stop offset="0.4197" stop-color="#9361ff"/><stop offset="0.4715" stop-color="#cd63fe"/><stop offset="0.5181" stop-color="#e84ef7"/><stop offset="0.5751" stop-color="#ee26e5"/><stop offset="0.6114" stop-color="#f721b7"/><stop offset="0.6632" stop-color="#fe146f"/><stop offset="0.7150" stop-color="#ff083f"/><stop offset="0.7824" stop-color="#ff0223"/><stop offset="0.8135" stop-color="#fe0225"/><stop offset="0.8653" stop-color="#fd0113"/><stop offset="0.9171" stop-color="#ff0016"/><stop offset="0.9689" stop-color="#ff000a"/><stop offset="1.0000" stop-color="#fd0208"/></linearGradient><linearGradient id="r162" gradientUnits="userSpaceOnUse" x1="443.0" x2="636.0" y1="0" y2="0"><stop offset="0.0000" stop-color="#006afa"/><stop offset="0.0466" stop-color="#0053fa"/><stop offset="0.1192" stop-color="#003efc"/><stop offset="0.2021" stop-color="#094aff"/><stop offset="0.2798" stop-color="#2a49ff"/><stop offset="0.3316" stop-color="#474aff"/><stop offset="0.4145" stop-color="#8558ff"/><stop offset="0.4715" stop-color="#c95efe"/><stop offset="0.5181" stop-color="#e549f8"/><stop offset="0.5699" stop-color="#ec25ea"/><stop offset="0.6010" stop-color="#f521cc"/><stop offset="0.6632" stop-color="#fe1374"/><stop offset="0.7150" stop-color="#ff0744"/><stop offset="0.7617" stop-color="#ff022d"/><stop offset="0.7876" stop-color="#ff0226"/><stop offset="0.8187" stop-color="#fd0222"/><stop offset="0.8653" stop-color="#fc0011"/><stop offset="0.9171" stop-color="#ff0017"/><stop offset="0.9741" stop-color="#ff000a"/><stop offset="1.0000" stop-color="#fd0208"/></linearGradient><linearGradient id="r163" gradientUnits="userSpaceOnUse" x1="443.0" x2="636.0" y1="0" y2="0"><stop offset="0.0000" stop-color="#0065fb"/><stop offset="0.0725" stop-color="#0042fb"/><stop offset="0.1451" stop-color="#003efd"/><stop offset="0.2332" stop-color="#124bff"/><stop offset="0.3264" stop-color="#3f44ff"/><stop offset="0.4145" stop-color="#7d51ff"/><stop offset="0.4767" stop-color="#ca58fe"/><stop offset="0.5181" stop-color="#e245f8"/><stop offset="0.5699" stop-color="#eb23eb"/><stop offset="0.6062" stop-color="#f51fca"/><stop offset="0.6632" stop-color="#fd117a"/><stop offset="0.7098" stop-color="#ff084a"/><stop offset="0.7513" stop-color="#ff023c"/><stop offset="0.7824" stop-color="#ff0327"/><stop offset="0.8238" stop-color="#fd0321"/><stop offset="0.8601" stop-color="#fb000e"/><stop offset="0.9171" stop-color="#ff0018"/><stop offset="0.9741" stop-color="#ff000a"/><stop offset="1.0000" stop-color="#fe0109"/></linearGradient><linearGradient id="r164" gradientUnits="userSpaceOnUse" x1="443.0" x2="636.0" y1="0" y2="0"><stop offset="0.0000" stop-color="#005bfb"/><stop offset="0.0622" stop-color="#003dfb"/><stop offset="0.1554" stop-color="#003cfe"/><stop offset="0.2539" stop-color="#1c47ff"/><stop offset="0.3212" stop-color="#383fff"/><stop offset="0.4145" stop-color="#754aff"/><stop offset="0.4819" stop-color="#ca51fe"/><stop offset="0.5181" stop-color="#de40f9"/><stop offset="0.5699" stop-color="#ea22ed"/><stop offset="0.6062" stop-color="#f51ece"/><stop offset="0.6684" stop-color="#fd0e7a"/><stop offset="0.7098" stop-color="#ff084f"/><stop offset="0.7461" stop-color="#ff0245"/><stop offset="0.7772" stop-color="#ff0329"/><stop offset="0.8290" stop-color="#fd0220"/><stop offset="0.8601" stop-color="#fb000d"/><stop offset="0.9171" stop-color="#ff0018"/><stop offset="0.9793" stop-color="#ff000a"/><stop offset="1.0000" stop-color="#fe0109"/></linearGradient><linearGradient id="r165" gradientUnits="userSpaceOnUse" x1="443.0" x2="636.0" y1="0" y2="0"><stop offset="0.0000" stop-color="#004dfc"/><stop offset="0.0570" stop-color="#0035fc"/><stop offset="0.1865" stop-color="#043eff"/><stop offset="0.2694" stop-color="#2341ff"/><stop offset="0.3212" stop-color="#353bff"/><stop offset="0.4145" stop-color="#6d44ff"/><stop offset="0.4560" stop-color="#a24dff"/><stop offset="0.4922" stop-color="#d04afd"/><stop offset="0.5699" stop-color="#e920ef"/><stop offset="0.6114" stop-color="#f61dcc"/><stop offset="0.6788" stop-color="#fd0a75"/><stop offset="0.7098" stop-color="#ff0853"/><stop offset="0.7461" stop-color="#ff024a"/><stop offset="0.7772" stop-color="#ff042b"/><stop offset="0.8290" stop-color="#fd0223"/><stop offset="0.8601" stop-color="#fa000c"/><stop offset="0.9171" stop-color="#ff0018"/><stop offset="0.9793" stop-color="#ff000a"/><stop offset="1.0000" stop-color="#fe0109"/></linearGradient><linearGradient id="r166" gradientUnits="userSpaceOnUse" x1="443.0" x2="636.0" y1="0" y2="0"><stop offset="0.0000" stop-color="#003efd"/><stop offset="0.0622" stop-color="#002dfd"/><stop offset="0.1969" stop-color="#073cff"/><stop offset="0.2694" stop-color="#213dff"/><stop offset="0.3212" stop-color="#3137ff"/><stop offset="0.4145" stop-color="#653dff"/><stop offset="0.4508" stop-color="#9145ff"/><stop offset="0.4922" stop-color="#cc45fe"/><stop offset="0.5699" stop-color="#e81ef0"/><stop offset="0.6114" stop-color="#f51cd0"/><stop offset="0.7047" stop-color="#fe085a"/><stop offset="0.7461" stop-color="#ff024e"/><stop offset="0.7772" stop-color="#ff052d"/><stop offset="0.8290" stop-color="#fe0126"/><stop offset="0.8601" stop-color="#fa000c"/><stop offset="0.9223" stop-color="#ff0018"/><stop offset="0.9793" stop-color="#ff000a"/><stop offset="1.0000" stop-color="#ff000a"/></linearGradient><linearGradient id="r167" gradientUnits="userSpaceOnUse" x1="443.0" x2="636.0" y1="0" y2="0"><stop offset="0.0000" stop-color="#0031fe"/><stop offset="0.0725" stop-color="#0027fe"/><stop offset="0.1969" stop-color="#0739ff"/><stop offset="0.2694" stop-color="#203aff"/><stop offset="0.3212" stop-color="#2d33ff"/><stop offset="0.4145" stop-color="#5e37ff"/><stop offset="0.4508" stop-color="#893eff"/><stop offset="0.4922" stop-color="#c73ffe"/><stop offset="0.5751" stop-color="#e91cf0"/><stop offset="0.6218" stop-color="#f719c8"/><stop offset="0.6995" stop-color="#fe0764"/><stop offset="0.7254" stop-color="#ff0559"/><stop offset="0.7513" stop-color="#ff034b"/><stop offset="0.7772" stop-color="#ff062f"/><stop offset="0.8290" stop-color="#fe0129"/><stop offset="0.8601" stop-color="#fa000c"/><stop offset="0.9275" stop-color="#ff0017"/><stop offset="0.9845" stop-color="#ff000a"/><stop offset="1.0000" stop-color="#ff000a"/></linearGradient><linearGradient id="r168" gradientUnits="userSpaceOnUse" x1="443.0" x2="636.0" y1="0" y2="0"><stop offset="0.0000" stop-color="#0027fe"/><stop offset="0.0829" stop-color="#0025fe"/><stop offset="0.1969" stop-color="#0736ff"/><stop offset="0.2694" stop-color="#1d36ff"/><stop offset="0.3212" stop-color="#292fff"/><stop offset="0.4145" stop-color="#5731ff"/><stop offset="0.4508" stop-color="#8137ff"/><stop offset="0.4974" stop-color="#c839fe"/><stop offset="0.5803" stop-color="#ea1aef"/><stop offset="0.6321" stop-color="#f917bf"/><stop offset="0.6943" stop-color="#fd076f"/><stop offset="0.7202" stop-color="#ff065c"/><stop offset="0.7513" stop-color="#ff044b"/><stop offset="0.7824" stop-color="#ff072f"/><stop offset="0.8290" stop-color="#fe012b"/><stop offset="0.8601" stop-color="#fa000c"/><stop offset="0.9275" stop-color="#ff0018"/><stop offset="0.9845" stop-color="#ff000a"/><stop offset="1.0000" stop-color="#ff000a"/></linearGradient><linearGradient id="r169" gradientUnits="userSpaceOnUse" x1="443.0" x2="636.0" y1="0" y2="0"><stop offset="0.0000" stop-color="#0022ff"/><stop offset="0.0881" stop-color="#0025fe"/><stop offset="0.1969" stop-color="#0733ff"/><stop offset="0.2642" stop-color="#1b34ff"/><stop offset="0.3212" stop-color="#252aff"/><stop offset="0.4145" stop-color="#512cff"/><stop offset="0.4508" stop-color="#7931ff"/><stop offset="0.4974" stop-color="#c334fe"/><stop offset="0.5803" stop-color="#e918f0"/><stop offset="0.6373" stop-color="#f915bd"/><stop offset="0.6943" stop-color="#fd0674"/><stop offset="0.7202" stop-color="#fe075e"/><stop offset="0.7513" stop-color="#ff054b"/><stop offset="0.7824" stop-color="#ff0830"/><stop offset="0.8290" stop-color="#fe022d"/><stop offset="0.8653" stop-color="#fa000b"/><stop offset="0.9275" stop-color="#ff0018"/><stop offset="0.9896" stop-color="#ff000a"/><stop offset="1.0000" stop-color="#ff000a"/></linearGradient><linearGradient id="r170" gradientUnits="userSpaceOnUse" x1="443.0" x2="636.0" y1="0" y2="0"><stop offset="0.0000" stop-color="#001fff"/><stop offset="0.0933" stop-color="#0024fe"/><stop offset="0.1969" stop-color="#0730ff"/><stop offset="0.2642" stop-color="#1931ff"/><stop offset="0.3264" stop-color="#2327ff"/><stop offset="0.4093" stop-color="#4827ff"/><stop offset="0.4456" stop-color="#692aff"/><stop offset="0.5026" stop-color="#c32efe"/><stop offset="0.5803" stop-color="#e817f1"/><stop offset="0.6425" stop-color="#f912bb"/><stop offset="0.6943" stop-color="#fc0679"/><stop offset="0.7254" stop-color="#fd075e"/><stop offset="0.7824" stop-color="#ff0931"/><stop offset="0.8342" stop-color="#fe032b"/><stop offset="0.8653" stop-color="#fa000c"/><stop offset="0.9326" stop-color="#ff0018"/><stop offset="0.9896" stop-color="#ff000a"/><stop offset="1.0000" stop-color="#ff000a"/></linearGradient><linearGradient id="r171" gradientUnits="userSpaceOnUse" x1="443.0" x2="636.0" y1="0" y2="0"><stop offset="0.0000" stop-color="#001eff"/><stop offset="0.1865" stop-color="#042bff"/><stop offset="0.2642" stop-color="#172eff"/><stop offset="0.3368" stop-color="#2323ff"/><stop offset="0.4197" stop-color="#4923ff"/><stop offset="0.4508" stop-color="#6a26ff"/><stop offset="0.5026" stop-color="#bf2afe"/><stop offset="0.5803" stop-color="#e615f3"/><stop offset="0.6477" stop-color="#f90eba"/><stop offset="0.6943" stop-color="#fa067d"/><stop offset="0.7772" stop-color="#ff0933"/><stop offset="0.8342" stop-color="#fe042d"/><stop offset="0.8653" stop-color="#fa000d"/><stop offset="0.9378" stop-color="#ff0017"/><stop offset="0.9948" stop-color="#ff000a"/><stop offset="1.0000" stop-color="#ff000a"/></linearGradient><linearGradient id="r172" gradientUnits="userSpaceOnUse" x1="443.0" x2="636.0" y1="0" y2="0"><stop offset="0.0000" stop-color="#001eff"/><stop offset="0.1762" stop-color="#0226ff"/><stop offset="0.2642" stop-color="#152cff"/><stop offset="0.3472" stop-color="#2320ff"/><stop offset="0.4301" stop-color="#4d20ff"/><stop offset="0.4663" stop-color="#7d24ff"/><stop offset="0.5078" stop-color="#c026fe"/><stop offset="0.5855" stop-color="#e613f1"/><stop offset="0.6580" stop-color="#f708b1"/><stop offset="0.7202" stop-color="#f90865"/><stop offset="0.7720" stop-color="#ff0935"/><stop offset="0.8394" stop-color="#fe052a"/><stop offset="0.8705" stop-color="#fa000c"/><stop offset="0.9378" stop-color="#ff0018"/><stop offset="0.9948" stop-color="#ff000a"/><stop offset="1.0000" stop-color="#ff000a"/></linearGradient><linearGradient id="r173" gradientUnits="userSpaceOnUse" x1="443.0" x2="636.0" y1="0" y2="0"><stop offset="0.0000" stop-color="#001eff"/><stop offset="0.1658" stop-color="#0022fe"/><stop offset="0.2694" stop-color="#1528ff"/><stop offset="0.3523" stop-color="#221eff"/><stop offset="0.4352" stop-color="#4e1eff"/><stop offset="0.4715" stop-color="#8022ff"/><stop offset="0.5130" stop-color="#c123fe"/><stop offset="0.5855" stop-color="#e411f2"/><stop offset="0.6580" stop-color="#f307b4"/><stop offset="0.7617" stop-color="#fe0939"/><stop offset="0.8394" stop-color="#fe062c"/><stop offset="0.8756" stop-color="#fa000c"/><stop offset="0.9378" stop-color="#ff0018"/><stop offset="1.0000" stop-color="#ff000a"/></linearGradient><linearGradient id="r174" gradientUnits="userSpaceOnUse" x1="443.0" x2="636.0" y1="0" y2="0"><stop offset="0.0000" stop-color="#001dff"/><stop offset="0.1606" stop-color="#001efe"/><stop offset="0.2746" stop-color="#1426ff"/><stop offset="0.3627" stop-color="#231cff"/><stop offset="0.4404" stop-color="#4f1dff"/><stop offset="0.4870" stop-color="#9621ff"/><stop offset="0.5181" stop-color="#c11ffe"/><stop offset="0.5855" stop-color="#e00ff3"/><stop offset="0.6425" stop-color="#ef09c5"/><stop offset="0.7202" stop-color="#f40868"/><stop offset="0.7617" stop-color="#fe0a37"/><stop offset="0.8446" stop-color="#fe072a"/><stop offset="0.8756" stop-color="#fa010d"/><stop offset="0.9430" stop-color="#ff0018"/><stop offset="1.0000" stop-color="#ff000a"/></linearGradient><linearGradient id="r175" gradientUnits="userSpaceOnUse" x1="443.0" x2="636.0" y1="0" y2="0"><stop offset="0.0000" stop-color="#001cff"/><stop offset="0.1606" stop-color="#001bfe"/><stop offset="0.2798" stop-color="#1423ff"/><stop offset="0.3731" stop-color="#261bff"/><stop offset="0.4456" stop-color="#521cff"/><stop offset="0.5181" stop-color="#bd1dff"/><stop offset="0.5855" stop-color="#dc0df4"/><stop offset="0.6321" stop-color="#ea09cf"/><stop offset="0.6995" stop-color="#ec077f"/><stop offset="0.7461" stop-color="#fc0a45"/><stop offset="0.7668" stop-color="#ff0a33"/><stop offset="0.8446" stop-color="#fe082d"/><stop offset="0.8808" stop-color="#fa010d"/><stop offset="0.9482" stop-color="#ff0017"/><stop offset="1.0000" stop-color="#ff000a"/></linearGradient><linearGradient id="r176" gradientUnits="userSpaceOnUse" x1="443.0" x2="636.0" y1="0" y2="0"><stop offset="0.0000" stop-color="#001aff"/><stop offset="0.1606" stop-color="#0017fe"/><stop offset="0.2850" stop-color="#1421ff"/><stop offset="0.3782" stop-color="#271aff"/><stop offset="0.4456" stop-color="#501bff"/><stop offset="0.4922" stop-color="#941eff"/><stop offset="0.5233" stop-color="#be19fe"/><stop offset="0.5907" stop-color="#db0bf1"/><stop offset="0.6269" stop-color="#e507d4"/><stop offset="0.6839" stop-color="#e40693"/><stop offset="0.7409" stop-color="#fc0a4d"/><stop offset="0.7617" stop-color="#ff0a34"/><stop offset="0.8497" stop-color="#fe082c"/><stop offset="0.8860" stop-color="#fb010d"/><stop offset="0.9482" stop-color="#ff0018"/><stop offset="1.0000" stop-color="#ff000a"/></linearGradient><linearGradient id="r177" gradientUnits="userSpaceOnUse" x1="443.0" x2="636.0" y1="0" y2="0"><stop offset="0.0000" stop-color="#0015ff"/><stop offset="0.1710" stop-color="#0116fe"/><stop offset="0.2902" stop-color="#141eff"/><stop offset="0.3834" stop-color="#281aff"/><stop offset="0.4508" stop-color="#531aff"/><stop offset="0.5233" stop-color="#ba18ff"/><stop offset="0.5907" stop-color="#d60af2"/><stop offset="0.6218" stop-color="#de06d8"/><stop offset="0.6736" stop-color="#de059d"/><stop offset="0.7254" stop-color="#fa0a62"/><stop offset="0.7565" stop-color="#ff0a37"/><stop offset="0.8549" stop-color="#fe082b"/><stop offset="0.8912" stop-color="#fb010e"/><stop offset="0.9534" stop-color="#ff0017"/><stop offset="1.0000" stop-color="#ff000a"/></linearGradient><linearGradient id="r178" gradientUnits="userSpaceOnUse" x1="443.0" x2="636.0" y1="0" y2="0"><stop offset="0.0000" stop-color="#0010ff"/><stop offset="0.1813" stop-color="#0314ff"/><stop offset="0.2953" stop-color="#141cff"/><stop offset="0.3886" stop-color="#2a19ff"/><stop offset="0.4508" stop-color="#5119ff"/><stop offset="0.5026" stop-color="#9b1bff"/><stop offset="0.5337" stop-color="#bd12fe"/><stop offset="0.5855" stop-color="#cc0af5"/><stop offset="0.6166" stop-color="#d706dc"/><stop offset="0.6580" stop-color="#d606ab"/><stop offset="0.6943" stop-color="#ed0689"/><stop offset="0.7202" stop-color="#fb0a65"/><stop offset="0.7409" stop-color="#fe0a4d"/><stop offset="0.7617" stop-color="#ff0a34"/><stop offset="0.8549" stop-color="#fe092e"/><stop offset="0.8964" stop-color="#fb010e"/><stop offset="0.9534" stop-color="#ff0018"/><stop offset="1.0000" stop-color="#ff000a"/></linearGradient><linearGradient id="r179" gradientUnits="userSpaceOnUse" x1="443.0" x2="636.0" y1="0" y2="0"><stop offset="0.0000" stop-color="#000aff"/><stop offset="0.1969" stop-color="#0613ff"/><stop offset="0.3057" stop-color="#1419ff"/><stop offset="0.3990" stop-color="#2e18ff"/><stop offset="0.4560" stop-color="#5518ff"/><stop offset="0.5233" stop-color="#b114ff"/><stop offset="0.5544" stop-color="#bf0cfd"/><stop offset="0.5855" stop-color="#c509f5"/><stop offset="0.6166" stop-color="#ce06d9"/><stop offset="0.6528" stop-color="#d206b0"/><stop offset="0.6943" stop-color="#f2058e"/><stop offset="0.7150" stop-color="#fc096a"/><stop offset="0.7409" stop-color="#ff0a4d"/><stop offset="0.7617" stop-color="#ff0a34"/><stop offset="0.8601" stop-color="#fe092d"/><stop offset="0.9016" stop-color="#fb010f"/><stop offset="0.9585" stop-color="#ff0017"/><stop offset="1.0000" stop-color="#ff000a"/></linearGradient><linearGradient id="r180" gradientUnits="userSpaceOnUse" x1="443.0" x2="636.0" y1="0" y2="0"><stop offset="0.0000" stop-color="#0006ff"/><stop offset="0.2383" stop-color="#0812ff"/><stop offset="0.3109" stop-color="#1518ff"/><stop offset="0.3990" stop-color="#2d17ff"/><stop offset="0.4560" stop-color="#5317ff"/><stop offset="0.5233" stop-color="#ac12ff"/><stop offset="0.5544" stop-color="#ba0afd"/><stop offset="0.5855" stop-color="#be09f4"/><stop offset="0.6477" stop-color="#cf05b8"/><stop offset="0.6788" stop-color="#ed03a1"/><stop offset="0.6943" stop-color="#f60493"/><stop offset="0.7150" stop-color="#fd096b"/><stop offset="0.7409" stop-color="#ff0a4d"/><stop offset="0.7617" stop-color="#ff0a34"/><stop offset="0.8653" stop-color="#fe092d"/><stop offset="0.9067" stop-color="#fb010f"/><stop offset="0.9585" stop-color="#ff0017"/><stop offset="1.0000" stop-color="#ff000a"/></linearGradient><linearGradient id="r181" gradientUnits="userSpaceOnUse" x1="443.0" x2="636.0" y1="0" y2="0"><stop offset="0.0000" stop-color="#0002ff"/><stop offset="0.2435" stop-color="#070fff"/><stop offset="0.3161" stop-color="#1517ff"/><stop offset="0.4041" stop-color="#2e16ff"/><stop offset="0.4560" stop-color="#5216ff"/><stop offset="0.5233" stop-color="#a810ff"/><stop offset="0.5492" stop-color="#b609fe"/><stop offset="0.5855" stop-color="#b609f2"/><stop offset="0.6373" stop-color="#c905c5"/><stop offset="0.6788" stop-color="#f201a5"/><stop offset="0.6943" stop-color="#f90397"/><stop offset="0.7150" stop-color="#fe096c"/><stop offset="0.7409" stop-color="#ff0a4d"/><stop offset="0.7617" stop-color="#ff0a34"/><stop offset="0.8705" stop-color="#fe092e"/><stop offset="0.9119" stop-color="#fb0110"/><stop offset="0.9637" stop-color="#ff0017"/><stop offset="1.0000" stop-color="#ff000a"/></linearGradient><linearGradient id="r182" gradientUnits="userSpaceOnUse" x1="443.0" x2="636.0" y1="0" y2="0"><stop offset="0.0000" stop-color="#0001ff"/><stop offset="0.2539" stop-color="#080dff"/><stop offset="0.3368" stop-color="#1816ff"/><stop offset="0.4249" stop-color="#3816ff"/><stop offset="0.4819" stop-color="#6d16ff"/><stop offset="0.5337" stop-color="#ac0aff"/><stop offset="0.5803" stop-color="#ac09f3"/><stop offset="0.6269" stop-color="#c505cd"/><stop offset="0.6528" stop-color="#de02c1"/><stop offset="0.6788" stop-color="#f601a8"/><stop offset="0.6943" stop-color="#fa029b"/><stop offset="0.7202" stop-color="#ff0968"/><stop offset="0.7565" stop-color="#ff0a36"/><stop offset="0.8808" stop-color="#fe082b"/><stop offset="0.9171" stop-color="#fc0111"/><stop offset="0.9689" stop-color="#ff0016"/><stop offset="1.0000" stop-color="#ff000b"/></linearGradient><linearGradient id="r183" gradientUnits="userSpaceOnUse" x1="443.0" x2="636.0" y1="0" y2="0"><stop offset="0.0000" stop-color="#0000ff"/><stop offset="0.2591" stop-color="#080cff"/><stop offset="0.3472" stop-color="#1a15ff"/><stop offset="0.4352" stop-color="#3d15ff"/><stop offset="0.5078" stop-color="#8b12ff"/><stop offset="0.5389" stop-color="#a907fe"/><stop offset="0.5803" stop-color="#a409ef"/><stop offset="0.6114" stop-color="#b906d6"/><stop offset="0.6477" stop-color="#dd02d1"/><stop offset="0.6788" stop-color="#f800aa"/><stop offset="0.6943" stop-color="#fa029e"/><stop offset="0.7202" stop-color="#ff0969"/><stop offset="0.7565" stop-color="#ff0a36"/><stop offset="0.8860" stop-color="#fe082b"/><stop offset="0.9223" stop-color="#fc0112"/><stop offset="0.9689" stop-color="#ff0017"/><stop offset="1.0000" stop-color="#ff000b"/></linearGradient><linearGradient id="r184" gradientUnits="userSpaceOnUse" x1="443.0" x2="636.0" y1="0" y2="0"><stop offset="0.0000" stop-color="#0000ff"/><stop offset="0.2591" stop-color="#0709ff"/><stop offset="0.3472" stop-color="#1a14ff"/><stop offset="0.4352" stop-color="#3c13ff"/><stop offset="0.5233" stop-color="#990aff"/><stop offset="0.5492" stop-color="#a306fb"/><stop offset="0.5907" stop-color="#a108e4"/><stop offset="0.6269" stop-color="#d002db"/><stop offset="0.6477" stop-color="#e001da"/><stop offset="0.6788" stop-color="#f800ac"/><stop offset="0.6995" stop-color="#fb0397"/><stop offset="0.7202" stop-color="#fe096a"/><stop offset="0.7565" stop-color="#ff0a36"/><stop offset="0.8912" stop-color="#fe082b"/><stop offset="0.9223" stop-color="#fc0113"/><stop offset="0.9741" stop-color="#ff0016"/><stop offset="1.0000" stop-color="#ff000b"/></linearGradient><linearGradient id="r185" gradientUnits="userSpaceOnUse" x1="443.0" x2="636.0" y1="0" y2="0"><stop offset="0.0000" stop-color="#0000ff"/><stop offset="0.2591" stop-color="#0608ff"/><stop offset="0.3420" stop-color="#1913ff"/><stop offset="0.4249" stop-color="#3512ff"/><stop offset="0.4870" stop-color="#6f10ff"/><stop offset="0.5337" stop-color="#9a06fd"/><stop offset="0.5907" stop-color="#9c08e6"/><stop offset="0.6114" stop-color="#bb05e2"/><stop offset="0.6321" stop-color="#d901e3"/><stop offset="0.6528" stop-color="#e500da"/><stop offset="0.6788" stop-color="#f800ae"/><stop offset="0.6995" stop-color="#fb029a"/><stop offset="0.7254" stop-color="#ff0965"/><stop offset="0.7565" stop-color="#ff0a36"/><stop offset="0.8912" stop-color="#fe092e"/><stop offset="0.9275" stop-color="#fc0114"/><stop offset="0.9793" stop-color="#ff0015"/><stop offset="1.0000" stop-color="#ff000c"/></linearGradient><linearGradient id="r186" gradientUnits="userSpaceOnUse" x1="443.0" x2="636.0" y1="0" y2="0"><stop offset="0.0000" stop-color="#0000ff"/><stop offset="0.2591" stop-color="#0607fe"/><stop offset="0.3472" stop-color="#1a13ff"/><stop offset="0.4301" stop-color="#3711ff"/><stop offset="0.5285" stop-color="#9106fc"/><stop offset="0.5907" stop-color="#9a08ea"/><stop offset="0.6114" stop-color="#b905ea"/><stop offset="0.6321" stop-color="#db01e8"/><stop offset="0.6528" stop-color="#e500df"/><stop offset="0.6788" stop-color="#f700b1"/><stop offset="0.6995" stop-color="#fb029d"/><stop offset="0.7254" stop-color="#ff0966"/><stop offset="0.7565" stop-color="#ff0a36"/><stop offset="0.8964" stop-color="#fe092e"/><stop offset="0.9326" stop-color="#fd0115"/><stop offset="0.9845" stop-color="#ff0013"/><stop offset="1.0000" stop-color="#ff000c"/></linearGradient><linearGradient id="r187" gradientUnits="userSpaceOnUse" x1="443.0" x2="636.0" y1="0" y2="0"><stop offset="0.0000" stop-color="#0000ff"/><stop offset="0.2591" stop-color="#0606fe"/><stop offset="0.3472" stop-color="#1a12ff"/><stop offset="0.4301" stop-color="#370fff"/><stop offset="0.5181" stop-color="#8606fd"/><stop offset="0.5803" stop-color="#9409ef"/><stop offset="0.6010" stop-color="#a108f2"/><stop offset="0.6321" stop-color="#da01eb"/><stop offset="0.6528" stop-color="#e400e3"/><stop offset="0.6839" stop-color="#f800ae"/><stop offset="0.7047" stop-color="#fb0395"/><stop offset="0.7306" stop-color="#ff0a5f"/><stop offset="0.7565" stop-color="#ff0a36"/><stop offset="0.9016" stop-color="#fe092e"/><stop offset="0.9378" stop-color="#fd0116"/><stop offset="0.9896" stop-color="#ff0012"/><stop offset="1.0000" stop-color="#ff000d"/></linearGradient><linearGradient id="r188" gradientUnits="userSpaceOnUse" x1="443.0" x2="636.0" y1="0" y2="0"><stop offset="0.0000" stop-color="#0000ff"/><stop offset="0.2591" stop-color="#0606fe"/><stop offset="0.3523" stop-color="#1b11ff"/><stop offset="0.4352" stop-color="#390eff"/><stop offset="0.5078" stop-color="#7b06fd"/><stop offset="0.5648" stop-color="#9307f1"/><stop offset="0.6010" stop-color="#9e09f8"/><stop offset="0.6321" stop-color="#d701ed"/><stop offset="0.6580" stop-color="#e500df"/><stop offset="0.6839" stop-color="#f700b0"/><stop offset="0.7047" stop-color="#fb0398"/><stop offset="0.7409" stop-color="#ff0a4d"/><stop offset="0.7617" stop-color="#ff0a34"/><stop offset="0.9067" stop-color="#fe092d"/><stop offset="0.9430" stop-color="#fd0117"/><stop offset="0.9948" stop-color="#ff0010"/><stop offset="1.0000" stop-color="#ff000e"/></linearGradient><linearGradient id="r189" gradientUnits="userSpaceOnUse" x1="443.0" x2="636.0" y1="0" y2="0"><stop offset="0.0000" stop-color="#0000ff"/><stop offset="0.2591" stop-color="#0606fd"/><stop offset="0.3575" stop-color="#1c10ff"/><stop offset="0.4404" stop-color="#3d0bff"/><stop offset="0.4974" stop-color="#7005fd"/><stop offset="0.5544" stop-color="#9604f4"/><stop offset="0.6010" stop-color="#9b09fc"/><stop offset="0.6218" stop-color="#bd05f4"/><stop offset="0.6425" stop-color="#dd01ec"/><stop offset="0.6632" stop-color="#e700db"/><stop offset="0.6891" stop-color="#f800ad"/><stop offset="0.7098" stop-color="#fc0490"/><stop offset="0.7461" stop-color="#ff0a43"/><stop offset="0.7668" stop-color="#ff0a32"/><stop offset="0.9119" stop-color="#fe092d"/><stop offset="0.9534" stop-color="#fe0118"/><stop offset="1.0000" stop-color="#ff000f"/></linearGradient><linearGradient id="r190" gradientUnits="userSpaceOnUse" x1="443.0" x2="636.0" y1="0" y2="0"><stop offset="0.0000" stop-color="#0000ff"/><stop offset="0.2591" stop-color="#0606fd"/><stop offset="0.3627" stop-color="#1c0fff"/><stop offset="0.4404" stop-color="#3c0aff"/><stop offset="0.4922" stop-color="#6a04fd"/><stop offset="0.5233" stop-color="#8303f7"/><stop offset="0.5492" stop-color="#9a03f6"/><stop offset="0.6010" stop-color="#990afe"/><stop offset="0.6218" stop-color="#b406f7"/><stop offset="0.6425" stop-color="#d901ed"/><stop offset="0.6632" stop-color="#e500df"/><stop offset="0.6891" stop-color="#f800af"/><stop offset="0.7098" stop-color="#fc0393"/><stop offset="0.7461" stop-color="#ff0a43"/><stop offset="0.7668" stop-color="#ff0a32"/><stop offset="0.9171" stop-color="#fe092e"/><stop offset="0.9585" stop-color="#ff0119"/><stop offset="1.0000" stop-color="#ff0010"/></linearGradient><linearGradient id="r191" gradientUnits="userSpaceOnUse" x1="443.0" x2="636.0" y1="0" y2="0"><stop offset="0.0000" stop-color="#0000ff"/><stop offset="0.2591" stop-color="#0505fc"/><stop offset="0.3679" stop-color="#1d0eff"/><stop offset="0.4456" stop-color="#4008ff"/><stop offset="0.4870" stop-color="#6303fd"/><stop offset="0.5130" stop-color="#7503f9"/><stop offset="0.5389" stop-color="#9b02f8"/><stop offset="0.5648" stop-color="#9b06fc"/><stop offset="0.6062" stop-color="#9a0afe"/><stop offset="0.6269" stop-color="#b606f6"/><stop offset="0.6477" stop-color="#da01ec"/><stop offset="0.6684" stop-color="#e700da"/><stop offset="0.6943" stop-color="#f900ac"/><stop offset="0.7098" stop-color="#fb0396"/><stop offset="0.7461" stop-color="#ff0a44"/><stop offset="0.7668" stop-color="#ff0a32"/><stop offset="0.9223" stop-color="#ff092e"/><stop offset="0.9689" stop-color="#ff0019"/><stop offset="1.0000" stop-color="#ff0012"/></linearGradient><linearGradient id="r192" gradientUnits="userSpaceOnUse" x1="443.0" x2="636.0" y1="0" y2="0"><stop offset="0.0000" stop-color="#0000ff"/><stop offset="0.2591" stop-color="#0505fc"/><stop offset="0.3731" stop-color="#1e0dff"/><stop offset="0.4456" stop-color="#3f06ff"/><stop offset="0.4870" stop-color="#6002fd"/><stop offset="0.5130" stop-color="#7402fa"/><stop offset="0.5389" stop-color="#a001fb"/><stop offset="0.5648" stop-color="#9d06fe"/><stop offset="0.6062" stop-color="#980aff"/><stop offset="0.6269" stop-color="#ae07f9"/><stop offset="0.6528" stop-color="#db01ec"/><stop offset="0.6736" stop-color="#ea00d5"/><stop offset="0.6943" stop-color="#f800ae"/><stop offset="0.7150" stop-color="#fc048d"/><stop offset="0.7461" stop-color="#ff0a44"/><stop offset="0.7668" stop-color="#ff0a32"/><stop offset="0.9275" stop-color="#ff092e"/><stop offset="0.9793" stop-color="#ff0019"/><stop offset="1.0000" stop-color="#ff0013"/></linearGradient><linearGradient id="r193" gradientUnits="userSpaceOnUse" x1="443.0" x2="636.0" y1="0" y2="0"><stop offset="0.0000" stop-color="#0000ff"/><stop offset="0.2591" stop-color="#0505fc"/><stop offset="0.3731" stop-color="#1e0cff"/><stop offset="0.4456" stop-color="#3d05ff"/><stop offset="0.4922" stop-color="#6101fc"/><stop offset="0.5130" stop-color="#7301fb"/><stop offset="0.5337" stop-color="#9d01fd"/><stop offset="0.5544" stop-color="#a402fe"/><stop offset="0.5959" stop-color="#960aff"/><stop offset="0.6218" stop-color="#9f09fc"/><stop offset="0.6580" stop-color="#dd01eb"/><stop offset="0.6788" stop-color="#ec00cf"/><stop offset="0.7150" stop-color="#fc0491"/><stop offset="0.7461" stop-color="#ff0a44"/><stop offset="0.7668" stop-color="#ff0a32"/><stop offset="0.9326" stop-color="#ff092e"/><stop offset="1.0000" stop-color="#ff0014"/></linearGradient><linearGradient id="r194" gradientUnits="userSpaceOnUse" x1="443.0" x2="636.0" y1="0" y2="0"><stop offset="0.0000" stop-color="#0000ff"/><stop offset="0.2642" stop-color="#0606fc"/><stop offset="0.3782" stop-color="#200aff"/><stop offset="0.4508" stop-color="#4003ff"/><stop offset="0.4974" stop-color="#6301fc"/><stop offset="0.5130" stop-color="#7101fd"/><stop offset="0.5389" stop-color="#a300fe"/><stop offset="0.5596" stop-color="#a204ff"/><stop offset="0.5959" stop-color="#960aff"/><stop offset="0.6269" stop-color="#a109fc"/><stop offset="0.6580" stop-color="#d901ec"/><stop offset="0.6788" stop-color="#ea00d4"/><stop offset="0.7202" stop-color="#fc0587"/><stop offset="0.7461" stop-color="#ff0a44"/><stop offset="0.7668" stop-color="#ff0a32"/><stop offset="0.9430" stop-color="#ff082c"/><stop offset="1.0000" stop-color="#ff0015"/></linearGradient><linearGradient id="r195" gradientUnits="userSpaceOnUse" x1="443.0" x2="636.0" y1="0" y2="0"><stop offset="0.0000" stop-color="#0000ff"/><stop offset="0.2694" stop-color="#0606fc"/><stop offset="0.3834" stop-color="#2108ff"/><stop offset="0.4560" stop-color="#4101ff"/><stop offset="0.4974" stop-color="#6300fd"/><stop offset="0.5181" stop-color="#7800fe"/><stop offset="0.5389" stop-color="#a200ff"/><stop offset="0.5596" stop-color="#a304ff"/><stop offset="0.5959" stop-color="#960aff"/><stop offset="0.6269" stop-color="#9c09fd"/><stop offset="0.6684" stop-color="#df01e7"/><stop offset="0.7098" stop-color="#fa01a2"/><stop offset="0.7461" stop-color="#ff0a44"/><stop offset="0.7617" stop-color="#ff0a34"/><stop offset="0.9482" stop-color="#ff082c"/><stop offset="1.0000" stop-color="#ff0016"/></linearGradient><linearGradient id="r196" gradientUnits="userSpaceOnUse" x1="443.0" x2="636.0" y1="0" y2="0"><stop offset="0.0000" stop-color="#0000ff"/><stop offset="0.2746" stop-color="#0606fc"/><stop offset="0.3886" stop-color="#2206ff"/><stop offset="0.4611" stop-color="#4201fe"/><stop offset="0.4974" stop-color="#6300fe"/><stop offset="0.5181" stop-color="#7500ff"/><stop offset="0.5389" stop-color="#9f00ff"/><stop offset="0.5544" stop-color="#a602ff"/><stop offset="0.5959" stop-color="#960aff"/><stop offset="0.6321" stop-color="#9d09fd"/><stop offset="0.6684" stop-color="#db01ea"/><stop offset="0.6891" stop-color="#ee00c8"/><stop offset="0.7202" stop-color="#fc048e"/><stop offset="0.7461" stop-color="#ff0a45"/><stop offset="0.7617" stop-color="#ff0a34"/><stop offset="0.9534" stop-color="#ff082d"/><stop offset="1.0000" stop-color="#ff0017"/></linearGradient><linearGradient id="r197" gradientUnits="userSpaceOnUse" x1="443.0" x2="636.0" y1="0" y2="0"><stop offset="0.0000" stop-color="#0000ff"/><stop offset="0.2798" stop-color="#0606fd"/><stop offset="0.3938" stop-color="#2304ff"/><stop offset="0.4663" stop-color="#4200ff"/><stop offset="0.4974" stop-color="#6200ff"/><stop offset="0.5181" stop-color="#7100ff"/><stop offset="0.5440" stop-color="#a300ff"/><stop offset="0.5648" stop-color="#a005ff"/><stop offset="0.6062" stop-color="#960aff"/><stop offset="0.6373" stop-color="#9e09fd"/><stop offset="0.6736" stop-color="#dd01e8"/><stop offset="0.7150" stop-color="#fa029d"/><stop offset="0.7461" stop-color="#ff0a45"/><stop offset="0.7617" stop-color="#ff0a34"/><stop offset="0.9585" stop-color="#ff082d"/><stop offset="1.0000" stop-color="#ff0018"/></linearGradient><linearGradient id="r198" gradientUnits="userSpaceOnUse" x1="443.0" x2="636.0" y1="0" y2="0"><stop offset="0.0000" stop-color="#0000ff"/><stop offset="0.2798" stop-color="#0606fd"/><stop offset="0.4611" stop-color="#3900ff"/><stop offset="0.5026" stop-color="#6200ff"/><stop offset="0.5233" stop-color="#7600ff"/><stop offset="0.5440" stop-color="#a000ff"/><stop offset="0.5596" stop-color="#a403ff"/><stop offset="0.5959" stop-color="#960aff"/><stop offset="0.6373" stop-color="#9b09fe"/><stop offset="0.6580" stop-color="#bb05f5"/><stop offset="0.6839" stop-color="#e400dd"/><stop offset="0.7202" stop-color="#fb0395"/><stop offset="0.7461" stop-color="#ff0a46"/><stop offset="0.7617" stop-color="#ff0a34"/><stop offset="0.9637" stop-color="#ff082c"/><stop offset="1.0000" stop-color="#ff0019"/></linearGradient><linearGradient id="r199" gradientUnits="userSpaceOnUse" x1="443.0" x2="636.0" y1="0" y2="0"><stop offset="0.0000" stop-color="#0000ff"/><stop offset="0.2850" stop-color="#0606fd"/><stop offset="0.4249" stop-color="#2e00ff"/><stop offset="0.4715" stop-color="#3e00ff"/><stop offset="0.5078" stop-color="#6300ff"/><stop offset="0.5285" stop-color="#7c00ff"/><stop offset="0.5492" stop-color="#a301ff"/><stop offset="0.6114" stop-color="#960aff"/><stop offset="0.6425" stop-color="#9c09fe"/><stop offset="0.6632" stop-color="#bd05f4"/><stop offset="0.6891" stop-color="#e600d8"/><stop offset="0.7254" stop-color="#fc0489"/><stop offset="0.7461" stop-color="#ff0a46"/><stop offset="0.7617" stop-color="#ff0a34"/><stop offset="0.9637" stop-color="#ff092e"/><stop offset="1.0000" stop-color="#ff011a"/></linearGradient><linearGradient id="r200" gradientUnits="userSpaceOnUse" x1="443.0" x2="636.0" y1="0" y2="0"><stop offset="0.0000" stop-color="#0000ff"/><stop offset="0.2902" stop-color="#0606fd"/><stop offset="0.4041" stop-color="#2601ff"/><stop offset="0.4767" stop-color="#3e00ff"/><stop offset="0.5285" stop-color="#7700ff"/><stop offset="0.5492" stop-color="#a001ff"/><stop offset="0.5699" stop-color="#9e06ff"/><stop offset="0.6321" stop-color="#960aff"/><stop offset="0.6528" stop-color="#a208fc"/><stop offset="0.6839" stop-color="#dc01e5"/><stop offset="0.7150" stop-color="#f901a7"/><stop offset="0.7306" stop-color="#fd067b"/><stop offset="0.7461" stop-color="#ff0947"/><stop offset="0.7617" stop-color="#ff0a34"/><stop offset="0.9689" stop-color="#ff082e"/><stop offset="1.0000" stop-color="#ff011b"/></linearGradient><linearGradient id="r201" gradientUnits="userSpaceOnUse" x1="443.0" x2="636.0" y1="0" y2="0"><stop offset="0.0000" stop-color="#0000ff"/><stop offset="0.2902" stop-color="#0605fd"/><stop offset="0.3834" stop-color="#1e04fe"/><stop offset="0.4560" stop-color="#3200ff"/><stop offset="0.4819" stop-color="#3e00ff"/><stop offset="0.5285" stop-color="#7300ff"/><stop offset="0.5492" stop-color="#9d00ff"/><stop offset="0.5648" stop-color="#a104ff"/><stop offset="0.6062" stop-color="#960aff"/><stop offset="0.6528" stop-color="#9d09fd"/><stop offset="0.6839" stop-color="#d702e9"/><stop offset="0.7150" stop-color="#f801aa"/><stop offset="0.7306" stop-color="#fc057f"/><stop offset="0.7461" stop-color="#ff0949"/><stop offset="0.7617" stop-color="#ff0a34"/><stop offset="0.9741" stop-color="#ff082e"/><stop offset="1.0000" stop-color="#ff021d"/></linearGradient><linearGradient id="r202" gradientUnits="userSpaceOnUse" x1="443.0" x2="636.0" y1="0" y2="0"><stop offset="0.0000" stop-color="#0000ff"/><stop offset="0.2953" stop-color="#0605fc"/><stop offset="0.3782" stop-color="#1a04fd"/><stop offset="0.4508" stop-color="#3200ff"/><stop offset="0.4819" stop-color="#3a00ff"/><stop offset="0.5337" stop-color="#7800ff"/><stop offset="0.5544" stop-color="#9f01ff"/><stop offset="0.6321" stop-color="#960aff"/><stop offset="0.6580" stop-color="#9e09fd"/><stop offset="0.6891" stop-color="#d902e6"/><stop offset="0.7150" stop-color="#f701ae"/><stop offset="0.7306" stop-color="#fc0583"/><stop offset="0.7461" stop-color="#ff094a"/><stop offset="0.7617" stop-color="#ff0a34"/><stop offset="0.9793" stop-color="#ff082d"/><stop offset="1.0000" stop-color="#ff0320"/></linearGradient><linearGradient id="r203" gradientUnits="userSpaceOnUse" x1="443.0" x2="636.0" y1="0" y2="0"><stop offset="0.0000" stop-color="#0000ff"/><stop offset="0.3005" stop-color="#0604fc"/><stop offset="0.3782" stop-color="#1904fd"/><stop offset="0.4456" stop-color="#3200ff"/><stop offset="0.4870" stop-color="#3a00ff"/><stop offset="0.5337" stop-color="#7200ff"/><stop offset="0.5544" stop-color="#9c01ff"/><stop offset="0.5751" stop-color="#9b07ff"/><stop offset="0.6528" stop-color="#980afe"/><stop offset="0.6736" stop-color="#b007f8"/><stop offset="0.6943" stop-color="#dc01e1"/><stop offset="0.7202" stop-color="#f801a7"/><stop offset="0.7513" stop-color="#ff093f"/><stop offset="0.7720" stop-color="#ff0a32"/><stop offset="0.9845" stop-color="#ff082d"/><stop offset="1.0000" stop-color="#ff0423"/></linearGradient><linearGradient id="r204" gradientUnits="userSpaceOnUse" x1="443.0" x2="636.0" y1="0" y2="0"><stop offset="0.0000" stop-color="#0000ff"/><stop offset="0.3057" stop-color="#0603fb"/><stop offset="0.3782" stop-color="#1704fd"/><stop offset="0.4404" stop-color="#3200ff"/><stop offset="0.4922" stop-color="#3b00ff"/><stop offset="0.5389" stop-color="#7800ff"/><stop offset="0.5596" stop-color="#9e02ff"/><stop offset="0.6425" stop-color="#960aff"/><stop offset="0.6684" stop-color="#a109fc"/><stop offset="0.6943" stop-color="#d502e6"/><stop offset="0.7202" stop-color="#f701ab"/><stop offset="0.7358" stop-color="#fd0576"/><stop offset="0.7513" stop-color="#ff0940"/><stop offset="0.7720" stop-color="#ff0a32"/><stop offset="0.9896" stop-color="#ff082d"/><stop offset="1.0000" stop-color="#ff0526"/></linearGradient><linearGradient id="r205" gradientUnits="userSpaceOnUse" x1="443.0" x2="636.0" y1="0" y2="0"><stop offset="0.0000" stop-color="#0000ff"/><stop offset="0.3057" stop-color="#0602fb"/><stop offset="0.3782" stop-color="#1403fc"/><stop offset="0.4301" stop-color="#3000ff"/><stop offset="0.4922" stop-color="#3700ff"/><stop offset="0.5389" stop-color="#7200ff"/><stop offset="0.5596" stop-color="#9b02ff"/><stop offset="0.6425" stop-color="#960aff"/><stop offset="0.6736" stop-color="#a208fc"/><stop offset="0.6995" stop-color="#d802e2"/><stop offset="0.7202" stop-color="#f501b0"/><stop offset="0.7358" stop-color="#fc057a"/><stop offset="0.7513" stop-color="#ff0941"/><stop offset="0.7668" stop-color="#ff0a33"/><stop offset="0.9948" stop-color="#ff082c"/><stop offset="1.0000" stop-color="#ff0629"/></linearGradient><linearGradient id="r206" gradientUnits="userSpaceOnUse" x1="443.0" x2="636.0" y1="0" y2="0"><stop offset="0.0000" stop-color="#0000ff"/><stop offset="0.3109" stop-color="#0601fa"/><stop offset="0.3782" stop-color="#1202fc"/><stop offset="0.4301" stop-color="#3000ff"/><stop offset="0.4974" stop-color="#3800ff"/><stop offset="0.5389" stop-color="#6d00ff"/><stop offset="0.5596" stop-color="#9801ff"/><stop offset="0.5803" stop-color="#9908ff"/><stop offset="0.6684" stop-color="#9a0afe"/><stop offset="0.6891" stop-color="#b706f5"/><stop offset="0.7098" stop-color="#e501d1"/><stop offset="0.7306" stop-color="#fa0393"/><stop offset="0.7513" stop-color="#fe0943"/><stop offset="0.7668" stop-color="#ff0a33"/><stop offset="0.9948" stop-color="#ff082e"/><stop offset="1.0000" stop-color="#ff072c"/></linearGradient><linearGradient id="r207" gradientUnits="userSpaceOnUse" x1="443.0" x2="636.0" y1="0" y2="0"><stop offset="0.0000" stop-color="#0000ff"/><stop offset="0.3109" stop-color="#0600fa"/><stop offset="0.3834" stop-color="#1302fc"/><stop offset="0.4301" stop-color="#3000ff"/><stop offset="0.5026" stop-color="#3800ff"/><stop offset="0.5440" stop-color="#7100ff"/><stop offset="0.5648" stop-color="#9a03ff"/><stop offset="0.6580" stop-color="#960aff"/><stop offset="0.6788" stop-color="#9e09fd"/><stop offset="0.6995" stop-color="#c604ec"/><stop offset="0.7202" stop-color="#ef01bb"/><stop offset="0.7358" stop-color="#fb0482"/><stop offset="0.7513" stop-color="#fe0944"/><stop offset="0.7668" stop-color="#ff0a33"/><stop offset="1.0000" stop-color="#ff082e"/></linearGradient><linearGradient id="r208" gradientUnits="userSpaceOnUse" x1="443.0" x2="636.0" y1="0" y2="0"><stop offset="0.0000" stop-color="#0000ff"/><stop offset="0.3109" stop-color="#0500fa"/><stop offset="0.3834" stop-color="#1101fb"/><stop offset="0.4301" stop-color="#3000ff"/><stop offset="0.5078" stop-color="#3800ff"/><stop offset="0.5389" stop-color="#6100ff"/><stop offset="0.5648" stop-color="#9702ff"/><stop offset="0.6528" stop-color="#960aff"/><stop offset="0.6839" stop-color="#9f09fc"/><stop offset="0.7047" stop-color="#c904e9"/><stop offset="0.7254" stop-color="#f201b0"/><stop offset="0.7513" stop-color="#fe0945"/><stop offset="0.7668" stop-color="#ff0a33"/><stop offset="1.0000" stop-color="#ff0930"/></linearGradient><linearGradient id="r209" gradientUnits="userSpaceOnUse" x1="443.0" x2="636.0" y1="0" y2="0"><stop offset="0.0000" stop-color="#0000ff"/><stop offset="0.3161" stop-color="#0600fa"/><stop offset="0.3886" stop-color="#1300fc"/><stop offset="0.4301" stop-color="#3000ff"/><stop offset="0.5130" stop-color="#3800ff"/><stop offset="0.5389" stop-color="#5a00ff"/><stop offset="0.5648" stop-color="#9302ff"/><stop offset="0.5855" stop-color="#9809ff"/><stop offset="0.6839" stop-color="#9c09fd"/><stop offset="0.7047" stop-color="#bf05ee"/><stop offset="0.7202" stop-color="#e502c8"/><stop offset="0.7358" stop-color="#f9038a"/><stop offset="0.7513" stop-color="#fe0847"/><stop offset="0.7617" stop-color="#ff0a35"/><stop offset="1.0000" stop-color="#ff0931"/></linearGradient><linearGradient id="r210" gradientUnits="userSpaceOnUse" x1="443.0" x2="636.0" y1="0" y2="0"><stop offset="0.0000" stop-color="#0000ff"/><stop offset="0.3161" stop-color="#0500fa"/><stop offset="0.3886" stop-color="#1100fb"/><stop offset="0.4301" stop-color="#3000ff"/><stop offset="0.5181" stop-color="#3800ff"/><stop offset="0.5440" stop-color="#5c00ff"/><stop offset="0.5699" stop-color="#9504ff"/><stop offset="0.6891" stop-color="#9c09fd"/><stop offset="0.7047" stop-color="#b506f2"/><stop offset="0.7202" stop-color="#de02cf"/><stop offset="0.7358" stop-color="#f7038e"/><stop offset="0.7513" stop-color="#fe0848"/><stop offset="0.7617" stop-color="#ff0a36"/><stop offset="1.0000" stop-color="#ff0a31"/></linearGradient><linearGradient id="r211" gradientUnits="userSpaceOnUse" x1="443.0" x2="636.0" y1="0" y2="0"><stop offset="0.0000" stop-color="#0000ff"/><stop offset="0.3212" stop-color="#0600fa"/><stop offset="0.3938" stop-color="#1300fb"/><stop offset="0.4301" stop-color="#3000ff"/><stop offset="0.5233" stop-color="#3800ff"/><stop offset="0.5440" stop-color="#5400ff"/><stop offset="0.5699" stop-color="#9003ff"/><stop offset="0.5959" stop-color="#960aff"/><stop offset="0.6891" stop-color="#9a0afe"/><stop offset="0.7047" stop-color="#ac07f6"/><stop offset="0.7202" stop-color="#d403d6"/><stop offset="0.7358" stop-color="#f40393"/><stop offset="0.7513" stop-color="#fe0849"/><stop offset="0.7617" stop-color="#ff0a36"/><stop offset="1.0000" stop-color="#ff0a32"/></linearGradient><linearGradient id="r212" gradientUnits="userSpaceOnUse" x1="443.0" x2="636.0" y1="0" y2="0"><stop offset="0.0000" stop-color="#0000ff"/><stop offset="0.3212" stop-color="#0500fa"/><stop offset="0.3938" stop-color="#1100fb"/><stop offset="0.4301" stop-color="#2f00ff"/><stop offset="0.5285" stop-color="#3800ff"/><stop offset="0.5492" stop-color="#5600ff"/><stop offset="0.5699" stop-color="#8a03ff"/><stop offset="0.5907" stop-color="#9609ff"/><stop offset="0.6943" stop-color="#9a09fe"/><stop offset="0.7098" stop-color="#af07f3"/><stop offset="0.7254" stop-color="#d903cb"/><stop offset="0.7409" stop-color="#f6057b"/><stop offset="0.7513" stop-color="#fd084b"/><stop offset="0.7617" stop-color="#ff0a36"/><stop offset="1.0000" stop-color="#ff0a32"/></linearGradient><linearGradient id="r213" gradientUnits="userSpaceOnUse" x1="443.0" x2="636.0" y1="0" y2="0"><stop offset="0.0000" stop-color="#0000ff"/><stop offset="0.3212" stop-color="#0400fa"/><stop offset="0.3938" stop-color="#0f00fb"/><stop offset="0.4352" stop-color="#3100ff"/><stop offset="0.5337" stop-color="#3800ff"/><stop offset="0.5544" stop-color="#5a00ff"/><stop offset="0.5751" stop-color="#8c05ff"/><stop offset="0.6010" stop-color="#960aff"/><stop offset="0.6995" stop-color="#9b09fd"/><stop offset="0.7150" stop-color="#b207f0"/><stop offset="0.7254" stop-color="#cf04d2"/><stop offset="0.7409" stop-color="#f30580"/><stop offset="0.7513" stop-color="#fc084c"/><stop offset="0.7617" stop-color="#ff0a37"/><stop offset="1.0000" stop-color="#ff0a32"/></linearGradient><linearGradient id="r214" gradientUnits="userSpaceOnUse" x1="443.0" x2="636.0" y1="0" y2="0"><stop offset="0.0000" stop-color="#0000ff"/><stop offset="0.3264" stop-color="#0500fa"/><stop offset="0.3990" stop-color="#1100fb"/><stop offset="0.4352" stop-color="#3100ff"/><stop offset="0.5389" stop-color="#3900ff"/><stop offset="0.5544" stop-color="#5000ff"/><stop offset="0.5751" stop-color="#8605ff"/><stop offset="0.5959" stop-color="#960aff"/><stop offset="0.7047" stop-color="#9b09fd"/><stop offset="0.7202" stop-color="#b507eb"/><stop offset="0.7306" stop-color="#d305c4"/><stop offset="0.7461" stop-color="#f60768"/><stop offset="0.7565" stop-color="#fd093f"/><stop offset="0.7720" stop-color="#ff0a32"/><stop offset="1.0000" stop-color="#ff0a32"/></linearGradient><linearGradient id="r215" gradientUnits="userSpaceOnUse" x1="443.0" x2="636.0" y1="0" y2="0"><stop offset="0.0000" stop-color="#0000ff"/><stop offset="0.3264" stop-color="#0400fa"/><stop offset="0.3990" stop-color="#0f00fb"/><stop offset="0.4352" stop-color="#3000ff"/><stop offset="0.5389" stop-color="#3600ff"/><stop offset="0.5544" stop-color="#4800ff"/><stop offset="0.5803" stop-color="#8906ff"/><stop offset="0.6010" stop-color="#960aff"/><stop offset="0.7098" stop-color="#9c09fc"/><stop offset="0.7202" stop-color="#ac08f0"/><stop offset="0.7306" stop-color="#c806cd"/><stop offset="0.7461" stop-color="#f1076e"/><stop offset="0.7565" stop-color="#fc0942"/><stop offset="0.7720" stop-color="#ff0a33"/><stop offset="1.0000" stop-color="#ff0a32"/></linearGradient><linearGradient id="r216" gradientUnits="userSpaceOnUse" x1="443.0" x2="636.0" y1="0" y2="0"><stop offset="0.0000" stop-color="#0000ff"/><stop offset="0.3316" stop-color="#0500fa"/><stop offset="0.4041" stop-color="#1200fb"/><stop offset="0.4352" stop-color="#3000ff"/><stop offset="0.5440" stop-color="#3600ff"/><stop offset="0.5596" stop-color="#4b00ff"/><stop offset="0.5855" stop-color="#8b08ff"/><stop offset="0.6114" stop-color="#960aff"/><stop offset="0.7098" stop-color="#990afd"/><stop offset="0.7254" stop-color="#af08e9"/><stop offset="0.7358" stop-color="#cd07ba"/><stop offset="0.7513" stop-color="#f40859"/><stop offset="0.7617" stop-color="#fd0a3a"/><stop offset="0.7979" stop-color="#ff0a32"/><stop offset="1.0000" stop-color="#ff0a32"/></linearGradient><linearGradient id="r217" gradientUnits="userSpaceOnUse" x1="443.0" x2="636.0" y1="0" y2="0"><stop offset="0.0000" stop-color="#0000ff"/><stop offset="0.3316" stop-color="#0400fa"/><stop offset="0.4041" stop-color="#1000fb"/><stop offset="0.4352" stop-color="#3000ff"/><stop offset="0.5492" stop-color="#3700ff"/><stop offset="0.5648" stop-color="#4f01ff"/><stop offset="0.5855" stop-color="#8507ff"/><stop offset="0.6062" stop-color="#960aff"/><stop offset="0.7150" stop-color="#9a0afc"/><stop offset="0.7254" stop-color="#a709ef"/><stop offset="0.7358" stop-color="#c308c4"/><stop offset="0.7513" stop-color="#ef0960"/><stop offset="0.7617" stop-color="#fc0a3c"/><stop offset="0.7876" stop-color="#ff0a32"/><stop offset="1.0000" stop-color="#ff0a32"/></linearGradient></defs><g clip-path="url(#hs)" shape-rendering="crispEdges"><rect x="443.0" y="34" width="193.0" height="1" fill="url(#r0)"/><rect x="443.0" y="35" width="193.0" height="1" fill="url(#r1)"/><rect x="443.0" y="36" width="193.0" height="1" fill="url(#r2)"/><rect x="443.0" y="37" width="193.0" height="1" fill="url(#r3)"/><rect x="443.0" y="38" width="193.0" height="1" fill="url(#r4)"/><rect x="443.0" y="39" width="193.0" height="1" fill="url(#r5)"/><rect x="443.0" y="40" width="193.0" height="1" fill="url(#r6)"/><rect x="443.0" y="41" width="193.0" height="1" fill="url(#r7)"/><rect x="443.0" y="42" width="193.0" height="1" fill="url(#r8)"/><rect x="443.0" y="43" width="193.0" height="1" fill="url(#r9)"/><rect x="443.0" y="44" width="193.0" height="1" fill="url(#r10)"/><rect x="443.0" y="45" width="193.0" height="1" fill="url(#r11)"/><rect x="443.0" y="46" width="193.0" height="1" fill="url(#r12)"/><rect x="443.0" y="47" width="193.0" height="1" fill="url(#r13)"/><rect x="443.0" y="48" width="193.0" height="1" fill="url(#r14)"/><rect x="443.0" y="49" width="193.0" height="1" fill="url(#r15)"/><rect x="443.0" y="50" width="193.0" height="1" fill="url(#r16)"/><rect x="443.0" y="51" width="193.0" height="1" fill="url(#r17)"/><rect x="443.0" y="52" width="193.0" height="1" fill="url(#r18)"/><rect x="443.0" y="53" width="193.0" height="1" fill="url(#r19)"/><rect x="443.0" y="54" width="193.0" height="1" fill="url(#r20)"/><rect x="443.0" y="55" width="193.0" height="1" fill="url(#r21)"/><rect x="443.0" y="56" width="193.0" height="1" fill="url(#r22)"/><rect x="443.0" y="57" width="193.0" height="1" fill="url(#r23)"/><rect x="443.0" y="58" width="193.0" height="1" fill="url(#r24)"/><rect x="443.0" y="59" width="193.0" height="1" fill="url(#r25)"/><rect x="443.0" y="60" width="193.0" height="1" fill="url(#r26)"/><rect x="443.0" y="61" width="193.0" height="1" fill="url(#r27)"/><rect x="443.0" y="62" width="193.0" height="1" fill="url(#r28)"/><rect x="443.0" y="63" width="193.0" height="1" fill="url(#r29)"/><rect x="443.0" y="64" width="193.0" height="1" fill="url(#r30)"/><rect x="443.0" y="65" width="193.0" height="1" fill="url(#r31)"/><rect x="443.0" y="66" width="193.0" height="1" fill="url(#r32)"/><rect x="443.0" y="67" width="193.0" height="1" fill="url(#r33)"/><rect x="443.0" y="68" width="193.0" height="1" fill="url(#r34)"/><rect x="443.0" y="69" width="193.0" height="1" fill="url(#r35)"/><rect x="443.0" y="70" width="193.0" height="1" fill="url(#r36)"/><rect x="443.0" y="71" width="193.0" height="1" fill="url(#r37)"/><rect x="443.0" y="72" width="193.0" height="1" fill="url(#r38)"/><rect x="443.0" y="73" width="193.0" height="1" fill="url(#r39)"/><rect x="443.0" y="74" width="193.0" height="1" fill="url(#r40)"/><rect x="443.0" y="75" width="193.0" height="1" fill="url(#r41)"/><rect x="443.0" y="76" width="193.0" height="1" fill="url(#r42)"/><rect x="443.0" y="77" width="193.0" height="1" fill="url(#r43)"/><rect x="443.0" y="78" width="193.0" height="1" fill="url(#r44)"/><rect x="443.0" y="79" width="193.0" height="1" fill="url(#r45)"/><rect x="443.0" y="80" width="193.0" height="1" fill="url(#r46)"/><rect x="443.0" y="81" width="193.0" height="1" fill="url(#r47)"/><rect x="443.0" y="82" width="193.0" height="1" fill="url(#r48)"/><rect x="443.0" y="83" width="193.0" height="1" fill="url(#r49)"/><rect x="443.0" y="84" width="193.0" height="1" fill="url(#r50)"/><rect x="443.0" y="85" width="193.0" height="1" fill="url(#r51)"/><rect x="443.0" y="86" width="193.0" height="1" fill="url(#r52)"/><rect x="443.0" y="87" width="193.0" height="1" fill="url(#r53)"/><rect x="443.0" y="88" width="193.0" height="1" fill="url(#r54)"/><rect x="443.0" y="89" width="193.0" height="1" fill="url(#r55)"/><rect x="443.0" y="90" width="193.0" height="1" fill="url(#r56)"/><rect x="443.0" y="91" width="193.0" height="1" fill="url(#r57)"/><rect x="443.0" y="92" width="193.0" height="1" fill="url(#r58)"/><rect x="443.0" y="93" width="193.0" height="1" fill="url(#r59)"/><rect x="443.0" y="94" width="193.0" height="1" fill="url(#r60)"/><rect x="443.0" y="95" width="193.0" height="1" fill="url(#r61)"/><rect x="443.0" y="96" width="193.0" height="1" fill="url(#r62)"/><rect x="443.0" y="97" width="193.0" height="1" fill="url(#r63)"/><rect x="443.0" y="98" width="193.0" height="1" fill="url(#r64)"/><rect x="443.0" y="99" width="193.0" height="1" fill="url(#r65)"/><rect x="443.0" y="100" width="193.0" height="1" fill="url(#r66)"/><rect x="443.0" y="101" width="193.0" height="1" fill="url(#r67)"/><rect x="443.0" y="102" width="193.0" height="1" fill="url(#r68)"/><rect x="443.0" y="103" width="193.0" height="1" fill="url(#r69)"/><rect x="443.0" y="104" width="193.0" height="1" fill="url(#r70)"/><rect x="443.0" y="105" width="193.0" height="1" fill="url(#r71)"/><rect x="443.0" y="106" width="193.0" height="1" fill="url(#r72)"/><rect x="443.0" y="107" width="193.0" height="1" fill="url(#r73)"/><rect x="443.0" y="108" width="193.0" height="1" fill="url(#r74)"/><rect x="443.0" y="109" width="193.0" height="1" fill="url(#r75)"/><rect x="443.0" y="110" width="193.0" height="1" fill="url(#r76)"/><rect x="443.0" y="111" width="193.0" height="1" fill="url(#r77)"/><rect x="443.0" y="112" width="193.0" height="1" fill="url(#r78)"/><rect x="443.0" y="113" width="193.0" height="1" fill="url(#r79)"/><rect x="443.0" y="114" width="193.0" height="1" fill="url(#r80)"/><rect x="443.0" y="115" width="193.0" height="1" fill="url(#r81)"/><rect x="443.0" y="116" width="193.0" height="1" fill="url(#r82)"/><rect x="443.0" y="117" width="193.0" height="1" fill="url(#r83)"/><rect x="443.0" y="118" width="193.0" height="1" fill="url(#r84)"/><rect x="443.0" y="119" width="193.0" height="1" fill="url(#r85)"/><rect x="443.0" y="120" width="193.0" height="1" fill="url(#r86)"/><rect x="443.0" y="121" width="193.0" height="1" fill="url(#r87)"/><rect x="443.0" y="122" width="193.0" height="1" fill="url(#r88)"/><rect x="443.0" y="123" width="193.0" height="1" fill="url(#r89)"/><rect x="443.0" y="124" width="193.0" height="1" fill="url(#r90)"/><rect x="443.0" y="125" width="193.0" height="1" fill="url(#r91)"/><rect x="443.0" y="126" width="193.0" height="1" fill="url(#r92)"/><rect x="443.0" y="127" width="193.0" height="1" fill="url(#r93)"/><rect x="443.0" y="128" width="193.0" height="1" fill="url(#r94)"/><rect x="443.0" y="129" width="193.0" height="1" fill="url(#r95)"/><rect x="443.0" y="130" width="193.0" height="1" fill="url(#r96)"/><rect x="443.0" y="131" width="193.0" height="1" fill="url(#r97)"/><rect x="443.0" y="132" width="193.0" height="1" fill="url(#r98)"/><rect x="443.0" y="133" width="193.0" height="1" fill="url(#r99)"/><rect x="443.0" y="134" width="193.0" height="1" fill="url(#r100)"/><rect x="443.0" y="135" width="193.0" height="1" fill="url(#r101)"/><rect x="443.0" y="136" width="193.0" height="1" fill="url(#r102)"/><rect x="443.0" y="137" width="193.0" height="1" fill="url(#r103)"/><rect x="443.0" y="138" width="193.0" height="1" fill="url(#r104)"/><rect x="443.0" y="139" width="193.0" height="1" fill="url(#r105)"/><rect x="443.0" y="140" width="193.0" height="1" fill="url(#r106)"/><rect x="443.0" y="141" width="193.0" height="1" fill="url(#r107)"/><rect x="443.0" y="142" width="193.0" height="1" fill="url(#r108)"/><rect x="443.0" y="143" width="193.0" height="1" fill="url(#r109)"/><rect x="443.0" y="144" width="193.0" height="1" fill="url(#r110)"/><rect x="443.0" y="145" width="193.0" height="1" fill="url(#r111)"/><rect x="443.0" y="146" width="193.0" height="1" fill="url(#r112)"/><rect x="443.0" y="147" width="193.0" height="1" fill="url(#r113)"/><rect x="443.0" y="148" width="193.0" height="1" fill="url(#r114)"/><rect x="443.0" y="149" width="193.0" height="1" fill="url(#r115)"/><rect x="443.0" y="150" width="193.0" height="1" fill="url(#r116)"/><rect x="443.0" y="151" width="193.0" height="1" fill="url(#r117)"/><rect x="443.0" y="152" width="193.0" height="1" fill="url(#r118)"/><rect x="443.0" y="153" width="193.0" height="1" fill="url(#r119)"/><rect x="443.0" y="154" width="193.0" height="1" fill="url(#r120)"/><rect x="443.0" y="155" width="193.0" height="1" fill="url(#r121)"/><rect x="443.0" y="156" width="193.0" height="1" fill="url(#r122)"/><rect x="443.0" y="157" width="193.0" height="1" fill="url(#r123)"/><rect x="443.0" y="158" width="193.0" height="1" fill="url(#r124)"/><rect x="443.0" y="159" width="193.0" height="1" fill="url(#r125)"/><rect x="443.0" y="160" width="193.0" height="1" fill="url(#r126)"/><rect x="443.0" y="161" width="193.0" height="1" fill="url(#r127)"/><rect x="443.0" y="162" width="193.0" height="1" fill="url(#r128)"/><rect x="443.0" y="163" width="193.0" height="1" fill="url(#r129)"/><rect x="443.0" y="164" width="193.0" height="1" fill="url(#r130)"/><rect x="443.0" y="165" width="193.0" height="1" fill="url(#r131)"/><rect x="443.0" y="166" width="193.0" height="1" fill="url(#r132)"/><rect x="443.0" y="167" width="193.0" height="1" fill="url(#r133)"/><rect x="443.0" y="168" width="193.0" height="1" fill="url(#r134)"/><rect x="443.0" y="169" width="193.0" height="1" fill="url(#r135)"/><rect x="443.0" y="170" width="193.0" height="1" fill="url(#r136)"/><rect x="443.0" y="171" width="193.0" height="1" fill="url(#r137)"/><rect x="443.0" y="172" width="193.0" height="1" fill="url(#r138)"/><rect x="443.0" y="173" width="193.0" height="1" fill="url(#r139)"/><rect x="443.0" y="174" width="193.0" height="1" fill="url(#r140)"/><rect x="443.0" y="175" width="193.0" height="1" fill="url(#r141)"/><rect x="443.0" y="176" width="193.0" height="1" fill="url(#r142)"/><rect x="443.0" y="177" width="193.0" height="1" fill="url(#r143)"/><rect x="443.0" y="178" width="193.0" height="1" fill="url(#r144)"/><rect x="443.0" y="179" width="193.0" height="1" fill="url(#r145)"/><rect x="443.0" y="180" width="193.0" height="1" fill="url(#r146)"/><rect x="443.0" y="181" width="193.0" height="1" fill="url(#r147)"/><rect x="443.0" y="182" width="193.0" height="1" fill="url(#r148)"/><rect x="443.0" y="183" width="193.0" height="1" fill="url(#r149)"/><rect x="443.0" y="184" width="193.0" height="1" fill="url(#r150)"/><rect x="443.0" y="185" width="193.0" height="1" fill="url(#r151)"/><rect x="443.0" y="186" width="193.0" height="1" fill="url(#r152)"/><rect x="443.0" y="187" width="193.0" height="1" fill="url(#r153)"/><rect x="443.0" y="188" width="193.0" height="1" fill="url(#r154)"/><rect x="443.0" y="189" width="193.0" height="1" fill="url(#r155)"/><rect x="443.0" y="190" width="193.0" height="1" fill="url(#r156)"/><rect x="443.0" y="191" width="193.0" height="1" fill="url(#r157)"/><rect x="443.0" y="192" width="193.0" height="1" fill="url(#r158)"/><rect x="443.0" y="193" width="193.0" height="1" fill="url(#r159)"/><rect x="443.0" y="194" width="193.0" height="1" fill="url(#r160)"/><rect x="443.0" y="195" width="193.0" height="1" fill="url(#r161)"/><rect x="443.0" y="196" width="193.0" height="1" fill="url(#r162)"/><rect x="443.0" y="197" width="193.0" height="1" fill="url(#r163)"/><rect x="443.0" y="198" width="193.0" height="1" fill="url(#r164)"/><rect x="443.0" y="199" width="193.0" height="1" fill="url(#r165)"/><rect x="443.0" y="200" width="193.0" height="1" fill="url(#r166)"/><rect x="443.0" y="201" width="193.0" height="1" fill="url(#r167)"/><rect x="443.0" y="202" width="193.0" height="1" fill="url(#r168)"/><rect x="443.0" y="203" width="193.0" height="1" fill="url(#r169)"/><rect x="443.0" y="204" width="193.0" height="1" fill="url(#r170)"/><rect x="443.0" y="205" width="193.0" height="1" fill="url(#r171)"/><rect x="443.0" y="206" width="193.0" height="1" fill="url(#r172)"/><rect x="443.0" y="207" width="193.0" height="1" fill="url(#r173)"/><rect x="443.0" y="208" width="193.0" height="1" fill="url(#r174)"/><rect x="443.0" y="209" width="193.0" height="1" fill="url(#r175)"/><rect x="443.0" y="210" width="193.0" height="1" fill="url(#r176)"/><rect x="443.0" y="211" width="193.0" height="1" fill="url(#r177)"/><rect x="443.0" y="212" width="193.0" height="1" fill="url(#r178)"/><rect x="443.0" y="213" width="193.0" height="1" fill="url(#r179)"/><rect x="443.0" y="214" width="193.0" height="1" fill="url(#r180)"/><rect x="443.0" y="215" width="193.0" height="1" fill="url(#r181)"/><rect x="443.0" y="216" width="193.0" height="1" fill="url(#r182)"/><rect x="443.0" y="217" width="193.0" height="1" fill="url(#r183)"/><rect x="443.0" y="218" width="193.0" height="1" fill="url(#r184)"/><rect x="443.0" y="219" width="193.0" height="1" fill="url(#r185)"/><rect x="443.0" y="220" width="193.0" height="1" fill="url(#r186)"/><rect x="443.0" y="221" width="193.0" height="1" fill="url(#r187)"/><rect x="443.0" y="222" width="193.0" height="1" fill="url(#r188)"/><rect x="443.0" y="223" width="193.0" height="1" fill="url(#r189)"/><rect x="443.0" y="224" width="193.0" height="1" fill="url(#r190)"/><rect x="443.0" y="225" width="193.0" height="1" fill="url(#r191)"/><rect x="443.0" y="226" width="193.0" height="1" fill="url(#r192)"/><rect x="443.0" y="227" width="193.0" height="1" fill="url(#r193)"/><rect x="443.0" y="228" width="193.0" height="1" fill="url(#r194)"/><rect x="443.0" y="229" width="193.0" height="1" fill="url(#r195)"/><rect x="443.0" y="230" width="193.0" height="1" fill="url(#r196)"/><rect x="443.0" y="231" width="193.0" height="1" fill="url(#r197)"/><rect x="443.0" y="232" width="193.0" height="1" fill="url(#r198)"/><rect x="443.0" y="233" width="193.0" height="1" fill="url(#r199)"/><rect x="443.0" y="234" width="193.0" height="1" fill="url(#r200)"/><rect x="443.0" y="235" width="193.0" height="1" fill="url(#r201)"/><rect x="443.0" y="236" width="193.0" height="1" fill="url(#r202)"/><rect x="443.0" y="237" width="193.0" height="1" fill="url(#r203)"/><rect x="443.0" y="238" width="193.0" height="1" fill="url(#r204)"/><rect x="443.0" y="239" width="193.0" height="1" fill="url(#r205)"/><rect x="443.0" y="240" width="193.0" height="1" fill="url(#r206)"/><rect x="443.0" y="241" width="193.0" height="1" fill="url(#r207)"/><rect x="443.0" y="242" width="193.0" height="1" fill="url(#r208)"/><rect x="443.0" y="243" width="193.0" height="1" fill="url(#r209)"/><rect x="443.0" y="244" width="193.0" height="1" fill="url(#r210)"/><rect x="443.0" y="245" width="193.0" height="1" fill="url(#r211)"/><rect x="443.0" y="246" width="193.0" height="1" fill="url(#r212)"/><rect x="443.0" y="247" width="193.0" height="1" fill="url(#r213)"/><rect x="443.0" y="248" width="193.0" height="1" fill="url(#r214)"/><rect x="443.0" y="249" width="193.0" height="1" fill="url(#r215)"/><rect x="443.0" y="250" width="193.0" height="1" fill="url(#r216)"/><rect x="443.0" y="251" width="193.0" height="1" fill="url(#r217)"/></g>
<mask id="outm"><rect x="0" y="0" width="658" height="311" fill="#fff"/><path d="M489.18,249.62L489.18,249.62L489.17,249.62L489.17,249.62L489.16,249.62L489.15,249.62L489.15,249.62L489.14,249.63L489.12,249.63L489.11,249.64L489.1,249.64L489.09,249.63L489.08,249.63L489.06,249.63L489.05,249.63L489.04,249.63L489.03,249.64L489.02,249.65L489,249.66L488.99,249.66L488.98,249.67L488.97,249.67L488.96,249.67L488.94,249.67L488.92,249.67L488.9,249.67L488.88,249.67L488.86,249.67L488.83,249.67L488.81,249.66L488.79,249.67L488.76,249.67L488.74,249.67L488.71,249.66L488.69,249.66L488.66,249.66L488.63,249.65L488.61,249.64L488.57,249.63L488.53,249.61L488.49,249.59L488.43,249.56L488.38,249.53L488.32,249.49L488.26,249.45L488.2,249.41L488.14,249.36L488.07,249.31L488,249.25L487.92,249.19L487.84,249.13L487.74,249.05L487.65,248.97L487.54,248.89L487.44,248.8L487.33,248.7L487.21,248.59L487.09,248.48L486.96,248.36L486.83,248.24L486.69,248.11L486.54,247.97L486.38,247.83L486.21,247.68L486.03,247.52L485.84,247.35L485.63,247.17L485.41,246.98L485.19,246.78L484.94,246.57L484.69,246.35L484.42,246.11L484.14,245.87L483.85,245.61L483.55,245.34L483.23,245.05L482.9,244.74L482.55,244.41L482.19,244.05L481.81,243.67L481.43,243.26L481.03,242.83L480.61,242.36L480.18,241.85L479.73,241.28L479.25,240.64L478.74,239.92L478.19,239.1L477.6,238.18L476.98,237.16L476.32,236.03L475.64,234.8L474.93,233.45L474.19,231.98L473.41,230.35L472.59,228.56L471.73,226.6L470.83,224.44L469.9,222.09L468.91,219.54L467.88,216.77L466.8,213.78L465.67,210.55L464.49,207.07L463.29,203.31L462.07,199.27L460.86,194.97L459.66,190.39L458.46,185.55L457.27,180.43L456.07,175.03L454.88,169.37L453.71,163.48L452.57,157.38L451.47,151.13L450.43,144.75L449.47,138.31L448.58,131.83L447.79,125.33L447.09,118.85L446.5,112.42L446.02,106.08L445.65,99.89L445.42,93.89L445.34,88.09L445.39,82.48L445.59,77.06L445.95,71.86L446.45,66.91L447.13,62.27L447.97,57.95L448.97,53.98L450.12,50.38L451.41,47.17L452.84,44.39L454.39,42.05L456.06,40.15L457.82,38.67L459.66,37.57L461.56,36.84L463.51,36.45L465.5,36.37L467.53,36.58L469.59,37.01L471.67,37.64L473.76,38.4L475.87,39.28L477.98,40.27L480.07,41.34L482.15,42.47L484.19,43.63L486.2,44.82L488.19,46.04L490.14,47.28L492.08,48.55L494.01,49.86L495.92,51.21L497.82,52.58L499.71,53.99L501.58,55.42L503.46,56.89L505.33,58.38L507.19,59.9L509.05,61.45L510.91,63.01L512.76,64.6L514.6,66.21L516.45,67.84L518.29,69.49L520.13,71.16L521.97,72.84L523.81,74.53L525.65,76.24L527.49,77.97L529.33,79.7L531.17,81.44L533.01,83.2L534.85,84.96L536.69,86.73L538.52,88.51L540.36,90.29L542.2,92.08L544.03,93.87L545.87,95.66L547.7,97.46L549.53,99.25L551.35,101.05L553.18,102.85L554.99,104.64L556.81,106.44L558.61,108.23L560.41,110.01L562.21,111.8L563.99,113.57L565.77,115.34L567.54,117.1L569.3,118.86L571.05,120.6L572.78,122.33L574.5,124.05L576.21,125.75L577.91,127.44L579.58,129.11L581.25,130.76L582.89,132.4L584.52,134.02L586.13,135.62L587.71,137.19L589.27,138.75L590.81,140.28L592.33,141.79L593.82,143.28L595.29,144.74L596.72,146.17L598.12,147.57L599.47,148.92L600.79,150.23L602.06,151.5L603.29,152.73L604.5,153.92L605.67,155.1L606.83,156.24L607.95,157.37L609.05,158.46L610.11,159.51L611.13,160.52L612.1,161.49L613.04,162.42L613.94,163.31L614.8,164.17L615.63,164.99L616.43,165.79L617.2,166.55L617.94,167.29L618.64,167.99L619.32,168.66L619.96,169.3L620.57,169.92L621.16,170.5L621.72,171.06L622.25,171.59L622.77,172.1L623.25,172.59L623.72,173.05L624.17,173.5L624.6,173.92L625,174.33L625.39,174.71L625.77,175.09L626.13,175.44L626.48,175.79L626.81,176.13L627.14,176.45L627.46,176.77L627.76,177.07L628.05,177.36L628.33,177.64L628.6,177.91L628.85,178.16L629.1,178.41L629.34,178.64L629.56,178.87L629.78,179.08L629.98,179.29L630.18,179.49L630.36,179.67L630.54,179.84L630.7,180L630.85,180.15L630.99,180.29L631.13,180.43L631.25,180.55L631.38,180.68L631.5,180.8L631.61,180.91L631.71,181.01L631.81,181.11L631.9,181.2L631.99,181.29L632.07,181.37L632.15,181.45L632.22,181.52L632.28,181.58L632.33,181.63L632.39,181.69L632.44,181.74L632.49,181.79L632.53,181.83L632.58,181.88L632.63,181.93L632.67,181.97L632.71,182.01L632.75,182.05L632.78,182.08L632.82,182.12L632.86,182.16L632.89,182.19L632.93,182.23L632.96,182.26L633,182.3L633.03,182.33L633.07,182.37L633.1,182.4L633.14,182.44L633.17,182.47L633.2,182.5L633.22,182.52L633.24,182.54L633.26,182.56L633.27,182.57L633.29,182.59L633.3,182.6L633.31,182.61L633.32,182.62L633.33,182.63L633.34,182.64L633.34,182.64L633.35,182.65L633.36,182.66L633.36,182.66L633.36,182.66Z" fill="#000"/></mask>
<path d="M444.4,19.42V253.2M457.26,19.42V253.2M470.12,19.42V253.2M482.98,19.42V253.2M495.84,19.42V253.2M508.7,19.42V253.2M521.56,19.42V253.2M534.42,19.42V253.2M547.28,19.42V253.2M560.14,19.42V253.2M573,19.42V253.2M585.86,19.42V253.2M598.72,19.42V253.2M611.58,19.42V253.2M624.44,19.42V253.2M637.3,19.42V253.2M650.16,19.42V253.2M442.1,250.9H650.16M442.1,238.04H650.16M442.1,225.18H650.16M442.1,212.32H650.16M442.1,199.46H650.16M442.1,186.6H650.16M442.1,173.74H650.16M442.1,160.88H650.16M442.1,148.02H650.16M442.1,135.16H650.16M442.1,122.3H650.16M442.1,109.44H650.16M442.1,96.58H650.16M442.1,83.72H650.16M442.1,70.86H650.16M442.1,58H650.16M442.1,45.14H650.16M442.1,32.28H650.16M442.1,19.42H650.16" stroke="#000" stroke-opacity="0.55" stroke-width="1.15" fill="none" mask="url(#outm)"/>
<path d="M444.4,19.42V253.2M457.26,19.42V253.2M470.12,19.42V253.2M482.98,19.42V253.2M495.84,19.42V253.2M508.7,19.42V253.2M521.56,19.42V253.2M534.42,19.42V253.2M547.28,19.42V253.2M560.14,19.42V253.2M573,19.42V253.2M585.86,19.42V253.2M598.72,19.42V253.2M611.58,19.42V253.2M624.44,19.42V253.2M637.3,19.42V253.2M650.16,19.42V253.2M442.1,250.9H650.16M442.1,238.04H650.16M442.1,225.18H650.16M442.1,212.32H650.16M442.1,199.46H650.16M442.1,186.6H650.16M442.1,173.74H650.16M442.1,160.88H650.16M442.1,148.02H650.16M442.1,135.16H650.16M442.1,122.3H650.16M442.1,109.44H650.16M442.1,96.58H650.16M442.1,83.72H650.16M442.1,70.86H650.16M442.1,58H650.16M442.1,45.14H650.16M442.1,32.28H650.16M442.1,19.42H650.16" stroke="#000" stroke-opacity="0.33" stroke-width="1.3" fill="none" clip-path="url(#hs)"/>
<path d="M489.18,249.62L489.18,249.62L489.17,249.62L489.17,249.62L489.16,249.62L489.15,249.62L489.15,249.62L489.14,249.63L489.12,249.63L489.11,249.64L489.1,249.64L489.09,249.63L489.08,249.63L489.06,249.63L489.05,249.63L489.04,249.63L489.03,249.64L489.02,249.65L489,249.66L488.99,249.66L488.98,249.67L488.97,249.67L488.96,249.67L488.94,249.67L488.92,249.67L488.9,249.67L488.88,249.67L488.86,249.67L488.83,249.67L488.81,249.66L488.79,249.67L488.76,249.67L488.74,249.67L488.71,249.66L488.69,249.66L488.66,249.66L488.63,249.65L488.61,249.64L488.57,249.63L488.53,249.61L488.49,249.59L488.43,249.56L488.38,249.53L488.32,249.49L488.26,249.45L488.2,249.41L488.14,249.36L488.07,249.31L488,249.25L487.92,249.19L487.84,249.13L487.74,249.05L487.65,248.97L487.54,248.89L487.44,248.8L487.33,248.7L487.21,248.59L487.09,248.48L486.96,248.36L486.83,248.24L486.69,248.11L486.54,247.97L486.38,247.83L486.21,247.68L486.03,247.52L485.84,247.35L485.63,247.17L485.41,246.98L485.19,246.78L484.94,246.57L484.69,246.35L484.42,246.11L484.14,245.87L483.85,245.61L483.55,245.34L483.23,245.05L482.9,244.74L482.55,244.41L482.19,244.05L481.81,243.67L481.43,243.26L481.03,242.83L480.61,242.36L480.18,241.85L479.73,241.28L479.25,240.64L478.74,239.92L478.19,239.1L477.6,238.18L476.98,237.16L476.32,236.03L475.64,234.8L474.93,233.45L474.19,231.98L473.41,230.35L472.59,228.56L471.73,226.6L470.83,224.44L469.9,222.09L468.91,219.54L467.88,216.77L466.8,213.78L465.67,210.55L464.49,207.07L463.29,203.31L462.07,199.27L460.86,194.97L459.66,190.39L458.46,185.55L457.27,180.43L456.07,175.03L454.88,169.37L453.71,163.48L452.57,157.38L451.47,151.13L450.43,144.75L449.47,138.31L448.58,131.83L447.79,125.33L447.09,118.85L446.5,112.42L446.02,106.08L445.65,99.89L445.42,93.89L445.34,88.09L445.39,82.48L445.59,77.06L445.95,71.86L446.45,66.91L447.13,62.27L447.97,57.95L448.97,53.98L450.12,50.38L451.41,47.17L452.84,44.39L454.39,42.05L456.06,40.15L457.82,38.67L459.66,37.57L461.56,36.84L463.51,36.45L465.5,36.37L467.53,36.58L469.59,37.01L471.67,37.64L473.76,38.4L475.87,39.28L477.98,40.27L480.07,41.34L482.15,42.47L484.19,43.63L486.2,44.82L488.19,46.04L490.14,47.28L492.08,48.55L494.01,49.86L495.92,51.21L497.82,52.58L499.71,53.99L501.58,55.42L503.46,56.89L505.33,58.38L507.19,59.9L509.05,61.45L510.91,63.01L512.76,64.6L514.6,66.21L516.45,67.84L518.29,69.49L520.13,71.16L521.97,72.84L523.81,74.53L525.65,76.24L527.49,77.97L529.33,79.7L531.17,81.44L533.01,83.2L534.85,84.96L536.69,86.73L538.52,88.51L540.36,90.29L542.2,92.08L544.03,93.87L545.87,95.66L547.7,97.46L549.53,99.25L551.35,101.05L553.18,102.85L554.99,104.64L556.81,106.44L558.61,108.23L560.41,110.01L562.21,111.8L563.99,113.57L565.77,115.34L567.54,117.1L569.3,118.86L571.05,120.6L572.78,122.33L574.5,124.05L576.21,125.75L577.91,127.44L579.58,129.11L581.25,130.76L582.89,132.4L584.52,134.02L586.13,135.62L587.71,137.19L589.27,138.75L590.81,140.28L592.33,141.79L593.82,143.28L595.29,144.74L596.72,146.17L598.12,147.57L599.47,148.92L600.79,150.23L602.06,151.5L603.29,152.73L604.5,153.92L605.67,155.1L606.83,156.24L607.95,157.37L609.05,158.46L610.11,159.51L611.13,160.52L612.1,161.49L613.04,162.42L613.94,163.31L614.8,164.17L615.63,164.99L616.43,165.79L617.2,166.55L617.94,167.29L618.64,167.99L619.32,168.66L619.96,169.3L620.57,169.92L621.16,170.5L621.72,171.06L622.25,171.59L622.77,172.1L623.25,172.59L623.72,173.05L624.17,173.5L624.6,173.92L625,174.33L625.39,174.71L625.77,175.09L626.13,175.44L626.48,175.79L626.81,176.13L627.14,176.45L627.46,176.77L627.76,177.07L628.05,177.36L628.33,177.64L628.6,177.91L628.85,178.16L629.1,178.41L629.34,178.64L629.56,178.87L629.78,179.08L629.98,179.29L630.18,179.49L630.36,179.67L630.54,179.84L630.7,180L630.85,180.15L630.99,180.29L631.13,180.43L631.25,180.55L631.38,180.68L631.5,180.8L631.61,180.91L631.71,181.01L631.81,181.11L631.9,181.2L631.99,181.29L632.07,181.37L632.15,181.45L632.22,181.52L632.28,181.58L632.33,181.63L632.39,181.69L632.44,181.74L632.49,181.79L632.53,181.83L632.58,181.88L632.63,181.93L632.67,181.97L632.71,182.01L632.75,182.05L632.78,182.08L632.82,182.12L632.86,182.16L632.89,182.19L632.93,182.23L632.96,182.26L633,182.3L633.03,182.33L633.07,182.37L633.1,182.4L633.14,182.44L633.17,182.47L633.2,182.5L633.22,182.52L633.24,182.54L633.26,182.56L633.27,182.57L633.29,182.59L633.3,182.6L633.31,182.61L633.32,182.62L633.33,182.63L633.34,182.64L633.34,182.64L633.35,182.65L633.36,182.66L633.36,182.66L633.36,182.66Z" fill="none" stroke="#000" stroke-opacity="0.75" stroke-width="1.0"/>
<path d="M442.1,250.9H650.16" stroke="#333" stroke-opacity="0.7" stroke-width="1.1"/>
<text x="445" y="270" text-anchor="middle" font-size="12.2" font-family="'Liberation Serif',serif" font-weight="bold" fill="#474747">0.0</text>
<text x="470.72" y="270" text-anchor="middle" font-size="12.2" font-family="'Liberation Serif',serif" font-weight="bold" fill="#474747">0.1</text>
<text x="496.44" y="270" text-anchor="middle" font-size="12.2" font-family="'Liberation Serif',serif" font-weight="bold" fill="#474747">0.2</text>
<text x="522.16" y="270" text-anchor="middle" font-size="12.2" font-family="'Liberation Serif',serif" font-weight="bold" fill="#474747">0.3</text>
<text x="547.88" y="270" text-anchor="middle" font-size="12.2" font-family="'Liberation Serif',serif" font-weight="bold" fill="#474747">0.4</text>
<text x="573.6" y="270" text-anchor="middle" font-size="12.2" font-family="'Liberation Serif',serif" font-weight="bold" fill="#474747">0.5</text>
<text x="599.32" y="270" text-anchor="middle" font-size="12.2" font-family="'Liberation Serif',serif" font-weight="bold" fill="#474747">0.6</text>
<text x="625.04" y="270" text-anchor="middle" font-size="12.2" font-family="'Liberation Serif',serif" font-weight="bold" fill="#474747">0.7</text>
<text x="650.76" y="270" text-anchor="middle" font-size="12.2" font-family="'Liberation Serif',serif" font-weight="bold" fill="#474747">0.8</text>
<text x="442" y="254.7" text-anchor="end" font-size="12.2" font-family="'Liberation Serif',serif" font-weight="bold" fill="#474747">0.0</text>
<text x="442" y="228.98" text-anchor="end" font-size="12.2" font-family="'Liberation Serif',serif" font-weight="bold" fill="#474747">0.1</text>
<text x="442" y="203.26" text-anchor="end" font-size="12.2" font-family="'Liberation Serif',serif" font-weight="bold" fill="#474747">0.2</text>
<text x="442" y="177.54" text-anchor="end" font-size="12.2" font-family="'Liberation Serif',serif" font-weight="bold" fill="#474747">0.3</text>
<text x="442" y="151.82" text-anchor="end" font-size="12.2" font-family="'Liberation Serif',serif" font-weight="bold" fill="#474747">0.4</text>
<text x="442" y="126.1" text-anchor="end" font-size="12.2" font-family="'Liberation Serif',serif" font-weight="bold" fill="#474747">0.5</text>
<text x="442" y="100.38" text-anchor="end" font-size="12.2" font-family="'Liberation Serif',serif" font-weight="bold" fill="#474747">0.6</text>
<text x="442" y="74.66" text-anchor="end" font-size="12.2" font-family="'Liberation Serif',serif" font-weight="bold" fill="#474747">0.7</text>
<text x="442" y="48.94" text-anchor="end" font-size="12.2" font-family="'Liberation Serif',serif" font-weight="bold" fill="#474747">0.8</text>
<text x="442" y="23.22" text-anchor="end" font-size="12.2" font-family="'Liberation Serif',serif" font-weight="bold" fill="#474747">0.9</text>
<text x="550.2" y="285.4" text-anchor="middle" font-size="11.6" fill="#333" stroke="#333" stroke-width="0.45">x</text>
<text x="419" y="135.6" text-anchor="middle" font-size="11.6" fill="#333" stroke="#333" stroke-width="0.45">y</text>
<text x="579.6" y="46.8" text-anchor="middle" font-size="23" font-weight="bold">(b)</text>
<circle cx="478.3" cy="222.5" r="3.2" fill="#000" stroke="#ffffff" stroke-opacity="0.65" stroke-width="0.9"/>
</svg>
</body></html>
